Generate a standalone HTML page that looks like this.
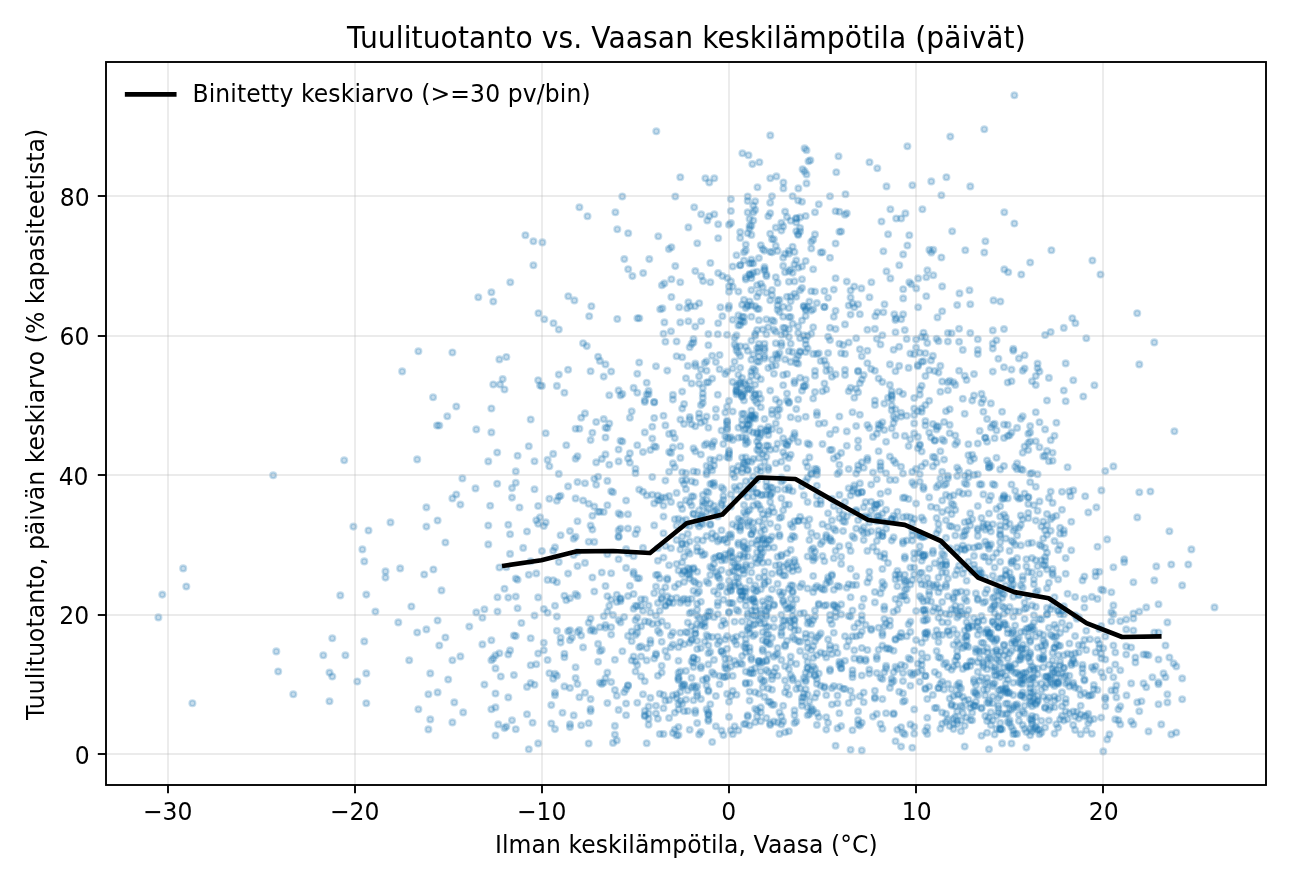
<!DOCTYPE html>
<html lang="fi"><head><meta charset="utf-8"><title>Tuulituotanto vs. Vaasan keskilämpötila</title>
<style>html,body{margin:0;padding:0;background:#fff}svg{display:block}</style></head>
<body>
<svg width="1292" height="884" viewBox="0 0 1292 884" font-family="'DejaVu Sans', 'Liberation Sans', sans-serif" fill="#000">
<rect x="0" y="0" width="1292" height="884" fill="#fff"/>
<defs><clipPath id="c"><rect x="106" y="62" width="1160" height="723"/></clipPath></defs>
<g clip-path="url(#c)" fill="#1f77b4" fill-opacity="0.25" stroke="#1f77b4" stroke-opacity="0.25" stroke-width="2.35">
<circle cx="478.3" cy="297.3" r="2.88"/>
<circle cx="491.4" cy="292.3" r="2.88"/>
<circle cx="493.3" cy="301.5" r="2.88"/>
<circle cx="418.4" cy="351.3" r="2.88"/>
<circle cx="452.4" cy="352.5" r="2.88"/>
<circle cx="499.4" cy="359.4" r="2.88"/>
<circle cx="402.2" cy="371.4" r="2.88"/>
<circle cx="493.3" cy="384.5" r="2.88"/>
<circle cx="500.0" cy="384.5" r="2.88"/>
<circle cx="433.1" cy="397.3" r="2.88"/>
<circle cx="456.3" cy="406.5" r="2.88"/>
<circle cx="491.4" cy="408.5" r="2.88"/>
<circle cx="447.3" cy="416.3" r="2.88"/>
<circle cx="437.0" cy="425.5" r="2.88"/>
<circle cx="439.3" cy="425.5" r="2.88"/>
<circle cx="476.3" cy="429.4" r="2.88"/>
<circle cx="491.4" cy="432.4" r="2.88"/>
<circle cx="344.2" cy="460.3" r="2.88"/>
<circle cx="417.2" cy="459.4" r="2.88"/>
<circle cx="488.3" cy="461.4" r="2.88"/>
<circle cx="497.2" cy="452.5" r="2.88"/>
<circle cx="273.2" cy="475.3" r="2.88"/>
<circle cx="462.4" cy="478.4" r="2.88"/>
<circle cx="497.2" cy="483.7" r="2.88"/>
<circle cx="475.5" cy="488.4" r="2.88"/>
<circle cx="456.3" cy="494.5" r="2.88"/>
<circle cx="452.4" cy="498.4" r="2.88"/>
<circle cx="460.4" cy="504.6" r="2.88"/>
<circle cx="426.4" cy="507.4" r="2.88"/>
<circle cx="490.2" cy="505.7" r="2.88"/>
<circle cx="353.4" cy="526.6" r="2.88"/>
<circle cx="368.5" cy="530.5" r="2.88"/>
<circle cx="390.5" cy="522.4" r="2.88"/>
<circle cx="426.4" cy="526.6" r="2.88"/>
<circle cx="437.6" cy="520.5" r="2.88"/>
<circle cx="488.3" cy="525.5" r="2.88"/>
<circle cx="445.4" cy="542.5" r="2.88"/>
<circle cx="488.3" cy="544.4" r="2.88"/>
<circle cx="362.4" cy="549.4" r="2.88"/>
<circle cx="364.3" cy="561.4" r="2.88"/>
<circle cx="385.5" cy="571.4" r="2.88"/>
<circle cx="385.5" cy="577.6" r="2.88"/>
<circle cx="400.2" cy="568.4" r="2.88"/>
<circle cx="424.2" cy="574.5" r="2.88"/>
<circle cx="433.4" cy="569.5" r="2.88"/>
<circle cx="499.4" cy="567.5" r="2.88"/>
<circle cx="441.5" cy="590.4" r="2.88"/>
<circle cx="183.2" cy="568.4" r="2.88"/>
<circle cx="186.3" cy="586.5" r="2.88"/>
<circle cx="162.3" cy="594.6" r="2.88"/>
<circle cx="158.4" cy="617.4" r="2.88"/>
<circle cx="340.3" cy="595.4" r="2.88"/>
<circle cx="366.3" cy="594.6" r="2.88"/>
<circle cx="375.4" cy="611.6" r="2.88"/>
<circle cx="411.4" cy="606.5" r="2.88"/>
<circle cx="497.5" cy="597.3" r="2.88"/>
<circle cx="484.4" cy="609.3" r="2.88"/>
<circle cx="476.3" cy="612.4" r="2.88"/>
<circle cx="497.5" cy="611.6" r="2.88"/>
<circle cx="482.4" cy="617.7" r="2.88"/>
<circle cx="398.3" cy="622.4" r="2.88"/>
<circle cx="437.6" cy="620.5" r="2.88"/>
<circle cx="417.2" cy="632.5" r="2.88"/>
<circle cx="426.4" cy="629.4" r="2.88"/>
<circle cx="469.3" cy="626.6" r="2.88"/>
<circle cx="445.4" cy="637.5" r="2.88"/>
<circle cx="439.3" cy="645.5" r="2.88"/>
<circle cx="491.4" cy="640.3" r="2.88"/>
<circle cx="482.4" cy="644.4" r="2.88"/>
<circle cx="332.3" cy="638.3" r="2.88"/>
<circle cx="364.3" cy="641.4" r="2.88"/>
<circle cx="276.3" cy="651.4" r="2.88"/>
<circle cx="323.3" cy="655.3" r="2.88"/>
<circle cx="345.4" cy="655.3" r="2.88"/>
<circle cx="409.2" cy="660.3" r="2.88"/>
<circle cx="452.4" cy="660.3" r="2.88"/>
<circle cx="460.4" cy="656.4" r="2.88"/>
<circle cx="491.4" cy="660.3" r="2.88"/>
<circle cx="493.3" cy="658.4" r="2.88"/>
<circle cx="495.5" cy="655.3" r="2.88"/>
<circle cx="499.4" cy="653.3" r="2.88"/>
<circle cx="495.5" cy="668.4" r="2.88"/>
<circle cx="278.2" cy="671.5" r="2.88"/>
<circle cx="329.5" cy="672.6" r="2.88"/>
<circle cx="332.3" cy="676.5" r="2.88"/>
<circle cx="366.3" cy="673.4" r="2.88"/>
<circle cx="357.3" cy="681.5" r="2.88"/>
<circle cx="430.3" cy="673.4" r="2.88"/>
<circle cx="448.2" cy="679.5" r="2.88"/>
<circle cx="484.4" cy="684.6" r="2.88"/>
<circle cx="293.3" cy="694.3" r="2.88"/>
<circle cx="329.5" cy="701.3" r="2.88"/>
<circle cx="366.3" cy="703.2" r="2.88"/>
<circle cx="192.4" cy="703.2" r="2.88"/>
<circle cx="428.4" cy="694.3" r="2.88"/>
<circle cx="437.6" cy="692.4" r="2.88"/>
<circle cx="495.5" cy="693.5" r="2.88"/>
<circle cx="454.3" cy="702.4" r="2.88"/>
<circle cx="418.4" cy="709.3" r="2.88"/>
<circle cx="463.2" cy="712.4" r="2.88"/>
<circle cx="491.4" cy="709.3" r="2.88"/>
<circle cx="495.5" cy="707.4" r="2.88"/>
<circle cx="430.3" cy="719.4" r="2.88"/>
<circle cx="452.4" cy="722.4" r="2.88"/>
<circle cx="428.4" cy="729.4" r="2.88"/>
<circle cx="498.3" cy="724.4" r="2.88"/>
<circle cx="495.5" cy="735.5" r="2.88"/>
<circle cx="656.3" cy="131.3" r="2.88"/>
<circle cx="680.3" cy="177.2" r="2.88"/>
<circle cx="705.4" cy="178.3" r="2.88"/>
<circle cx="714.3" cy="178.3" r="2.88"/>
<circle cx="709.3" cy="182.5" r="2.88"/>
<circle cx="622.3" cy="196.5" r="2.88"/>
<circle cx="675.3" cy="196.5" r="2.88"/>
<circle cx="579.4" cy="207.3" r="2.88"/>
<circle cx="587.5" cy="216.2" r="2.88"/>
<circle cx="615.4" cy="212.3" r="2.88"/>
<circle cx="694.2" cy="207.3" r="2.88"/>
<circle cx="701.2" cy="214.3" r="2.88"/>
<circle cx="709.3" cy="216.2" r="2.88"/>
<circle cx="714.3" cy="214.3" r="2.88"/>
<circle cx="707.3" cy="220.4" r="2.88"/>
<circle cx="718.2" cy="224.3" r="2.88"/>
<circle cx="688.4" cy="227.4" r="2.88"/>
<circle cx="617.3" cy="229.3" r="2.88"/>
<circle cx="628.2" cy="233.2" r="2.88"/>
<circle cx="658.3" cy="236.3" r="2.88"/>
<circle cx="525.4" cy="235.2" r="2.88"/>
<circle cx="533.4" cy="241.3" r="2.88"/>
<circle cx="542.4" cy="242.4" r="2.88"/>
<circle cx="718.2" cy="238.2" r="2.88"/>
<circle cx="697.3" cy="243.3" r="2.88"/>
<circle cx="671.4" cy="247.2" r="2.88"/>
<circle cx="668.9" cy="249.1" r="2.88"/>
<circle cx="533.4" cy="265.3" r="2.88"/>
<circle cx="624.3" cy="259.1" r="2.88"/>
<circle cx="649.3" cy="259.1" r="2.88"/>
<circle cx="675.3" cy="266.1" r="2.88"/>
<circle cx="710.4" cy="263.0" r="2.88"/>
<circle cx="628.2" cy="269.2" r="2.88"/>
<circle cx="632.4" cy="276.1" r="2.88"/>
<circle cx="643.2" cy="273.1" r="2.88"/>
<circle cx="695.3" cy="271.1" r="2.88"/>
<circle cx="701.2" cy="276.1" r="2.88"/>
<circle cx="703.1" cy="281.1" r="2.88"/>
<circle cx="710.4" cy="282.3" r="2.88"/>
<circle cx="718.2" cy="273.1" r="2.88"/>
<circle cx="722.4" cy="276.1" r="2.88"/>
<circle cx="727.4" cy="278.1" r="2.88"/>
<circle cx="510.3" cy="282.3" r="2.88"/>
<circle cx="671.4" cy="279.2" r="2.88"/>
<circle cx="680.3" cy="282.3" r="2.88"/>
<circle cx="664.4" cy="283.4" r="2.88"/>
<circle cx="661.9" cy="285.3" r="2.88"/>
<circle cx="568.3" cy="296.2" r="2.88"/>
<circle cx="574.4" cy="300.4" r="2.88"/>
<circle cx="671.4" cy="297.0" r="2.88"/>
<circle cx="591.4" cy="306.2" r="2.88"/>
<circle cx="538.5" cy="313.2" r="2.88"/>
<circle cx="589.2" cy="316.2" r="2.88"/>
<circle cx="544.3" cy="319.3" r="2.88"/>
<circle cx="553.5" cy="323.2" r="2.88"/>
<circle cx="617.3" cy="319.0" r="2.88"/>
<circle cx="637.4" cy="318.2" r="2.88"/>
<circle cx="639.3" cy="318.2" r="2.88"/>
<circle cx="660.2" cy="309.3" r="2.88"/>
<circle cx="662.4" cy="308.4" r="2.88"/>
<circle cx="679.2" cy="307.3" r="2.88"/>
<circle cx="688.4" cy="302.3" r="2.88"/>
<circle cx="690.3" cy="306.2" r="2.88"/>
<circle cx="687.2" cy="308.2" r="2.88"/>
<circle cx="695.0" cy="306.2" r="2.88"/>
<circle cx="699.2" cy="303.2" r="2.88"/>
<circle cx="664.4" cy="322.4" r="2.88"/>
<circle cx="680.3" cy="322.4" r="2.88"/>
<circle cx="688.4" cy="321.3" r="2.88"/>
<circle cx="701.2" cy="321.3" r="2.88"/>
<circle cx="718.2" cy="323.2" r="2.88"/>
<circle cx="720.4" cy="307.3" r="2.88"/>
<circle cx="722.4" cy="316.2" r="2.88"/>
<circle cx="728.5" cy="308.4" r="2.88"/>
<circle cx="770.3" cy="135.4" r="2.88"/>
<circle cx="742.4" cy="153.3" r="2.88"/>
<circle cx="748.5" cy="155.2" r="2.88"/>
<circle cx="752.4" cy="164.1" r="2.88"/>
<circle cx="759.4" cy="162.2" r="2.88"/>
<circle cx="804.6" cy="148.3" r="2.88"/>
<circle cx="806.5" cy="150.2" r="2.88"/>
<circle cx="808.5" cy="161.3" r="2.88"/>
<circle cx="810.4" cy="160.2" r="2.88"/>
<circle cx="838.5" cy="156.3" r="2.88"/>
<circle cx="802.6" cy="169.2" r="2.88"/>
<circle cx="804.6" cy="171.4" r="2.88"/>
<circle cx="806.5" cy="174.4" r="2.88"/>
<circle cx="836.3" cy="172.2" r="2.88"/>
<circle cx="770.3" cy="178.3" r="2.88"/>
<circle cx="776.4" cy="176.4" r="2.88"/>
<circle cx="783.4" cy="182.5" r="2.88"/>
<circle cx="783.4" cy="188.4" r="2.88"/>
<circle cx="806.5" cy="183.4" r="2.88"/>
<circle cx="798.4" cy="188.4" r="2.88"/>
<circle cx="757.5" cy="187.3" r="2.88"/>
<circle cx="845.5" cy="194.2" r="2.88"/>
<circle cx="1014.4" cy="95.3" r="2.88"/>
<circle cx="984.3" cy="129.3" r="2.88"/>
<circle cx="950.3" cy="136.6" r="2.88"/>
<circle cx="907.4" cy="146.3" r="2.88"/>
<circle cx="869.5" cy="162.2" r="2.88"/>
<circle cx="877.3" cy="168.3" r="2.88"/>
<circle cx="886.5" cy="186.4" r="2.88"/>
<circle cx="912.4" cy="185.3" r="2.88"/>
<circle cx="931.3" cy="181.4" r="2.88"/>
<circle cx="946.4" cy="177.2" r="2.88"/>
<circle cx="970.3" cy="186.4" r="2.88"/>
<circle cx="941.4" cy="195.3" r="2.88"/>
<circle cx="890.4" cy="209.3" r="2.88"/>
<circle cx="922.4" cy="209.3" r="2.88"/>
<circle cx="905.4" cy="213.4" r="2.88"/>
<circle cx="896.2" cy="218.5" r="2.88"/>
<circle cx="901.2" cy="218.5" r="2.88"/>
<circle cx="881.5" cy="221.5" r="2.88"/>
<circle cx="1004.3" cy="212.3" r="2.88"/>
<circle cx="1014.4" cy="223.5" r="2.88"/>
<circle cx="888.1" cy="234.3" r="2.88"/>
<circle cx="909.3" cy="235.2" r="2.88"/>
<circle cx="952.2" cy="231.3" r="2.88"/>
<circle cx="985.4" cy="241.3" r="2.88"/>
<circle cx="907.4" cy="245.5" r="2.88"/>
<circle cx="883.4" cy="251.3" r="2.88"/>
<circle cx="903.2" cy="254.4" r="2.88"/>
<circle cx="929.4" cy="249.9" r="2.88"/>
<circle cx="933.3" cy="249.9" r="2.88"/>
<circle cx="931.3" cy="252.5" r="2.88"/>
<circle cx="941.4" cy="257.5" r="2.88"/>
<circle cx="965.3" cy="250.2" r="2.88"/>
<circle cx="984.3" cy="252.5" r="2.88"/>
<circle cx="1051.4" cy="250.2" r="2.88"/>
<circle cx="899.3" cy="265.3" r="2.88"/>
<circle cx="1030.2" cy="262.5" r="2.88"/>
<circle cx="1092.4" cy="260.5" r="2.88"/>
<circle cx="886.5" cy="271.4" r="2.88"/>
<circle cx="927.4" cy="270.3" r="2.88"/>
<circle cx="1004.3" cy="269.4" r="2.88"/>
<circle cx="1008.2" cy="272.2" r="2.88"/>
<circle cx="1021.3" cy="274.5" r="2.88"/>
<circle cx="1100.5" cy="274.5" r="2.88"/>
<circle cx="890.4" cy="278.4" r="2.88"/>
<circle cx="918.2" cy="278.4" r="2.88"/>
<circle cx="926.3" cy="277.2" r="2.88"/>
<circle cx="933.3" cy="275.3" r="2.88"/>
<circle cx="871.4" cy="282.3" r="2.88"/>
<circle cx="909.3" cy="282.3" r="2.88"/>
<circle cx="911.3" cy="284.2" r="2.88"/>
<circle cx="916.3" cy="288.4" r="2.88"/>
<circle cx="861.4" cy="288.4" r="2.88"/>
<circle cx="942.2" cy="286.4" r="2.88"/>
<circle cx="903.2" cy="289.2" r="2.88"/>
<circle cx="969.5" cy="290.3" r="2.88"/>
<circle cx="959.5" cy="293.4" r="2.88"/>
<circle cx="869.5" cy="297.3" r="2.88"/>
<circle cx="903.2" cy="298.4" r="2.88"/>
<circle cx="926.3" cy="296.2" r="2.88"/>
<circle cx="993.5" cy="300.4" r="2.88"/>
<circle cx="1000.4" cy="301.5" r="2.88"/>
<circle cx="957.2" cy="305.1" r="2.88"/>
<circle cx="970.3" cy="304.3" r="2.88"/>
<circle cx="884.5" cy="304.3" r="2.88"/>
<circle cx="918.2" cy="307.3" r="2.88"/>
<circle cx="877.3" cy="312.3" r="2.88"/>
<circle cx="883.4" cy="312.3" r="2.88"/>
<circle cx="894.3" cy="314.3" r="2.88"/>
<circle cx="903.2" cy="314.3" r="2.88"/>
<circle cx="942.2" cy="311.2" r="2.88"/>
<circle cx="1137.2" cy="313.2" r="2.88"/>
<circle cx="875.3" cy="316.2" r="2.88"/>
<circle cx="896.2" cy="318.2" r="2.88"/>
<circle cx="901.2" cy="319.3" r="2.88"/>
<circle cx="895.4" cy="320.1" r="2.88"/>
<circle cx="937.5" cy="317.4" r="2.88"/>
<circle cx="1072.3" cy="318.2" r="2.88"/>
<circle cx="1075.4" cy="323.2" r="2.88"/>
<circle cx="1086.3" cy="338.3" r="2.88"/>
<circle cx="1154.3" cy="342.4" r="2.88"/>
<circle cx="1139.3" cy="364.4" r="2.88"/>
<circle cx="1073.3" cy="380.3" r="2.88"/>
<circle cx="1094.4" cy="385.3" r="2.88"/>
<circle cx="1083.3" cy="396.5" r="2.88"/>
<circle cx="1174.4" cy="431.3" r="2.88"/>
<circle cx="1105.3" cy="471.1" r="2.88"/>
<circle cx="1113.4" cy="466.4" r="2.88"/>
<circle cx="1101.4" cy="490.4" r="2.88"/>
<circle cx="1085.2" cy="496.2" r="2.88"/>
<circle cx="1073.3" cy="490.4" r="2.88"/>
<circle cx="1070.5" cy="496.2" r="2.88"/>
<circle cx="1139.3" cy="492.3" r="2.88"/>
<circle cx="1150.4" cy="491.5" r="2.88"/>
<circle cx="1096.4" cy="507.4" r="2.88"/>
<circle cx="1088.3" cy="512.4" r="2.88"/>
<circle cx="1137.3" cy="517.4" r="2.88"/>
<circle cx="1169.4" cy="531.3" r="2.88"/>
<circle cx="1107.2" cy="539.4" r="2.88"/>
<circle cx="1191.4" cy="549.4" r="2.88"/>
<circle cx="1124.2" cy="559.2" r="2.88"/>
<circle cx="1124.2" cy="562.2" r="2.88"/>
<circle cx="1113.4" cy="567.3" r="2.88"/>
<circle cx="1156.3" cy="566.4" r="2.88"/>
<circle cx="1171.3" cy="564.5" r="2.88"/>
<circle cx="1188.3" cy="564.5" r="2.88"/>
<circle cx="1133.4" cy="582.3" r="2.88"/>
<circle cx="1154.3" cy="580.4" r="2.88"/>
<circle cx="1182.2" cy="585.4" r="2.88"/>
<circle cx="1103.3" cy="590.4" r="2.88"/>
<circle cx="1111.4" cy="592.3" r="2.88"/>
<circle cx="1113.4" cy="605.4" r="2.88"/>
<circle cx="1146.3" cy="607.4" r="2.88"/>
<circle cx="1158.5" cy="604.3" r="2.88"/>
<circle cx="1214.5" cy="607.4" r="2.88"/>
<circle cx="1111.4" cy="612.4" r="2.88"/>
<circle cx="1113.4" cy="614.3" r="2.88"/>
<circle cx="1133.4" cy="613.5" r="2.88"/>
<circle cx="1139.3" cy="611.6" r="2.88"/>
<circle cx="1120.3" cy="621.3" r="2.88"/>
<circle cx="1126.2" cy="619.4" r="2.88"/>
<circle cx="1133.4" cy="618.5" r="2.88"/>
<circle cx="1111.4" cy="621.3" r="2.88"/>
<circle cx="1167.4" cy="622.4" r="2.88"/>
<circle cx="1126.2" cy="629.4" r="2.88"/>
<circle cx="1133.4" cy="630.5" r="2.88"/>
<circle cx="1154.3" cy="632.5" r="2.88"/>
<circle cx="1158.5" cy="632.5" r="2.88"/>
<circle cx="1105.3" cy="636.4" r="2.88"/>
<circle cx="1113.4" cy="645.5" r="2.88"/>
<circle cx="1126.2" cy="646.4" r="2.88"/>
<circle cx="1131.2" cy="647.5" r="2.88"/>
<circle cx="1165.5" cy="645.5" r="2.88"/>
<circle cx="1103.3" cy="648.3" r="2.88"/>
<circle cx="1115.3" cy="652.5" r="2.88"/>
<circle cx="1126.2" cy="654.5" r="2.88"/>
<circle cx="1135.4" cy="657.5" r="2.88"/>
<circle cx="1143.5" cy="654.5" r="2.88"/>
<circle cx="1146.3" cy="654.5" r="2.88"/>
<circle cx="1148.5" cy="655.3" r="2.88"/>
<circle cx="1169.4" cy="657.5" r="2.88"/>
<circle cx="1101.4" cy="658.4" r="2.88"/>
<circle cx="1105.3" cy="659.5" r="2.88"/>
<circle cx="1135.4" cy="662.5" r="2.88"/>
<circle cx="1115.3" cy="664.5" r="2.88"/>
<circle cx="1158.5" cy="659.5" r="2.88"/>
<circle cx="1173.6" cy="663.4" r="2.88"/>
<circle cx="1176.3" cy="666.4" r="2.88"/>
<circle cx="1109.5" cy="670.3" r="2.88"/>
<circle cx="1120.3" cy="670.3" r="2.88"/>
<circle cx="1163.5" cy="673.4" r="2.88"/>
<circle cx="1165.5" cy="677.3" r="2.88"/>
<circle cx="1182.2" cy="678.4" r="2.88"/>
<circle cx="1103.3" cy="677.3" r="2.88"/>
<circle cx="1113.4" cy="677.3" r="2.88"/>
<circle cx="1152.4" cy="677.3" r="2.88"/>
<circle cx="1143.5" cy="683.4" r="2.88"/>
<circle cx="1158.5" cy="682.3" r="2.88"/>
<circle cx="1158.5" cy="684.3" r="2.88"/>
<circle cx="1146.3" cy="687.3" r="2.88"/>
<circle cx="1131.2" cy="683.4" r="2.88"/>
<circle cx="1116.4" cy="685.4" r="2.88"/>
<circle cx="1115.3" cy="690.4" r="2.88"/>
<circle cx="1111.4" cy="690.4" r="2.88"/>
<circle cx="1126.5" cy="695.4" r="2.88"/>
<circle cx="1105.3" cy="697.4" r="2.88"/>
<circle cx="1105.3" cy="699.3" r="2.88"/>
<circle cx="1116.4" cy="697.4" r="2.88"/>
<circle cx="1137.3" cy="702.4" r="2.88"/>
<circle cx="1141.5" cy="701.3" r="2.88"/>
<circle cx="1167.4" cy="694.3" r="2.88"/>
<circle cx="1182.2" cy="699.3" r="2.88"/>
<circle cx="1158.5" cy="704.3" r="2.88"/>
<circle cx="1167.4" cy="702.4" r="2.88"/>
<circle cx="1105.3" cy="706.3" r="2.88"/>
<circle cx="1120.3" cy="706.3" r="2.88"/>
<circle cx="1118.4" cy="709.3" r="2.88"/>
<circle cx="1139.3" cy="711.3" r="2.88"/>
<circle cx="1115.3" cy="719.4" r="2.88"/>
<circle cx="1120.3" cy="724.4" r="2.88"/>
<circle cx="1118.4" cy="720.2" r="2.88"/>
<circle cx="1131.2" cy="721.3" r="2.88"/>
<circle cx="1133.4" cy="724.4" r="2.88"/>
<circle cx="1161.3" cy="724.4" r="2.88"/>
<circle cx="1109.5" cy="734.4" r="2.88"/>
<circle cx="1107.2" cy="739.4" r="2.88"/>
<circle cx="1148.5" cy="731.4" r="2.88"/>
<circle cx="1171.3" cy="734.4" r="2.88"/>
<circle cx="1176.3" cy="732.5" r="2.88"/>
<circle cx="1103.3" cy="751.4" r="2.88"/>
<circle cx="506.4" cy="726.6" r="2.88"/>
<circle cx="512.0" cy="720.3" r="2.88"/>
<circle cx="532.6" cy="722.7" r="2.88"/>
<circle cx="528.8" cy="749.2" r="2.88"/>
<circle cx="515.8" cy="729.2" r="2.88"/>
<circle cx="527.0" cy="714.2" r="2.88"/>
<circle cx="538.2" cy="743.4" r="2.88"/>
<circle cx="504.5" cy="728.1" r="2.88"/>
<circle cx="551.3" cy="723.5" r="2.88"/>
<circle cx="581.2" cy="725.3" r="2.88"/>
<circle cx="570.0" cy="727.1" r="2.88"/>
<circle cx="562.5" cy="712.8" r="2.88"/>
<circle cx="573.7" cy="715.4" r="2.88"/>
<circle cx="555.0" cy="729.1" r="2.88"/>
<circle cx="570.0" cy="724.2" r="2.88"/>
<circle cx="590.6" cy="711.3" r="2.88"/>
<circle cx="588.7" cy="723.2" r="2.88"/>
<circle cx="613.0" cy="742.9" r="2.88"/>
<circle cx="614.9" cy="734.6" r="2.88"/>
<circle cx="626.1" cy="715.2" r="2.88"/>
<circle cx="614.9" cy="725.9" r="2.88"/>
<circle cx="590.6" cy="709.0" r="2.88"/>
<circle cx="616.8" cy="740.4" r="2.88"/>
<circle cx="588.7" cy="743.5" r="2.88"/>
<circle cx="618.6" cy="709.9" r="2.88"/>
<circle cx="657.9" cy="718.8" r="2.88"/>
<circle cx="663.5" cy="708.2" r="2.88"/>
<circle cx="659.8" cy="734.0" r="2.88"/>
<circle cx="674.8" cy="729.6" r="2.88"/>
<circle cx="663.5" cy="734.1" r="2.88"/>
<circle cx="674.8" cy="712.7" r="2.88"/>
<circle cx="678.5" cy="709.5" r="2.88"/>
<circle cx="678.5" cy="727.1" r="2.88"/>
<circle cx="648.6" cy="719.0" r="2.88"/>
<circle cx="678.5" cy="735.1" r="2.88"/>
<circle cx="648.6" cy="713.5" r="2.88"/>
<circle cx="646.7" cy="743.2" r="2.88"/>
<circle cx="676.6" cy="735.4" r="2.88"/>
<circle cx="648.6" cy="724.8" r="2.88"/>
<circle cx="672.9" cy="733.1" r="2.88"/>
<circle cx="656.0" cy="713.5" r="2.88"/>
<circle cx="644.8" cy="716.2" r="2.88"/>
<circle cx="669.1" cy="718.0" r="2.88"/>
<circle cx="644.8" cy="710.9" r="2.88"/>
<circle cx="644.8" cy="715.3" r="2.88"/>
<circle cx="684.1" cy="711.2" r="2.88"/>
<circle cx="689.7" cy="729.8" r="2.88"/>
<circle cx="708.4" cy="714.6" r="2.88"/>
<circle cx="687.8" cy="711.0" r="2.88"/>
<circle cx="700.9" cy="732.1" r="2.88"/>
<circle cx="708.4" cy="719.3" r="2.88"/>
<circle cx="712.2" cy="742.0" r="2.88"/>
<circle cx="706.6" cy="709.4" r="2.88"/>
<circle cx="695.3" cy="712.9" r="2.88"/>
<circle cx="708.4" cy="711.7" r="2.88"/>
<circle cx="695.3" cy="710.5" r="2.88"/>
<circle cx="721.5" cy="730.6" r="2.88"/>
<circle cx="708.4" cy="714.4" r="2.88"/>
<circle cx="715.9" cy="726.3" r="2.88"/>
<circle cx="699.1" cy="734.5" r="2.88"/>
<circle cx="697.2" cy="723.1" r="2.88"/>
<circle cx="708.4" cy="721.0" r="2.88"/>
<circle cx="723.4" cy="735.1" r="2.88"/>
<circle cx="773.9" cy="721.5" r="2.88"/>
<circle cx="732.7" cy="734.2" r="2.88"/>
<circle cx="760.8" cy="721.3" r="2.88"/>
<circle cx="755.2" cy="708.8" r="2.88"/>
<circle cx="747.7" cy="715.2" r="2.88"/>
<circle cx="747.7" cy="716.7" r="2.88"/>
<circle cx="749.6" cy="725.5" r="2.88"/>
<circle cx="760.8" cy="712.5" r="2.88"/>
<circle cx="734.6" cy="726.3" r="2.88"/>
<circle cx="757.1" cy="716.4" r="2.88"/>
<circle cx="729.0" cy="716.9" r="2.88"/>
<circle cx="730.9" cy="730.4" r="2.88"/>
<circle cx="770.2" cy="725.0" r="2.88"/>
<circle cx="755.2" cy="722.2" r="2.88"/>
<circle cx="744.0" cy="724.2" r="2.88"/>
<circle cx="757.1" cy="710.2" r="2.88"/>
<circle cx="738.4" cy="730.4" r="2.88"/>
<circle cx="770.2" cy="723.4" r="2.88"/>
<circle cx="745.8" cy="723.7" r="2.88"/>
<circle cx="766.4" cy="718.0" r="2.88"/>
<circle cx="781.4" cy="724.4" r="2.88"/>
<circle cx="809.4" cy="714.1" r="2.88"/>
<circle cx="813.2" cy="710.1" r="2.88"/>
<circle cx="794.5" cy="723.1" r="2.88"/>
<circle cx="794.5" cy="710.4" r="2.88"/>
<circle cx="783.2" cy="721.4" r="2.88"/>
<circle cx="788.9" cy="731.2" r="2.88"/>
<circle cx="818.8" cy="717.1" r="2.88"/>
<circle cx="779.5" cy="733.9" r="2.88"/>
<circle cx="779.5" cy="712.3" r="2.88"/>
<circle cx="794.5" cy="715.3" r="2.88"/>
<circle cx="811.3" cy="708.1" r="2.88"/>
<circle cx="796.3" cy="721.6" r="2.88"/>
<circle cx="785.1" cy="732.3" r="2.88"/>
<circle cx="807.6" cy="715.2" r="2.88"/>
<circle cx="811.3" cy="711.3" r="2.88"/>
<circle cx="816.9" cy="713.1" r="2.88"/>
<circle cx="816.9" cy="724.9" r="2.88"/>
<circle cx="781.4" cy="716.5" r="2.88"/>
<circle cx="777.6" cy="722.5" r="2.88"/>
<circle cx="835.6" cy="745.7" r="2.88"/>
<circle cx="861.8" cy="722.7" r="2.88"/>
<circle cx="858.1" cy="724.4" r="2.88"/>
<circle cx="858.1" cy="711.4" r="2.88"/>
<circle cx="841.2" cy="726.1" r="2.88"/>
<circle cx="839.4" cy="713.2" r="2.88"/>
<circle cx="850.6" cy="749.8" r="2.88"/>
<circle cx="861.8" cy="750.4" r="2.88"/>
<circle cx="859.9" cy="725.6" r="2.88"/>
<circle cx="852.5" cy="730.2" r="2.88"/>
<circle cx="826.3" cy="729.6" r="2.88"/>
<circle cx="837.5" cy="728.4" r="2.88"/>
<circle cx="826.3" cy="717.2" r="2.88"/>
<circle cx="828.1" cy="722.8" r="2.88"/>
<circle cx="858.1" cy="720.0" r="2.88"/>
<circle cx="876.8" cy="713.9" r="2.88"/>
<circle cx="895.5" cy="741.2" r="2.88"/>
<circle cx="904.8" cy="734.4" r="2.88"/>
<circle cx="886.1" cy="713.2" r="2.88"/>
<circle cx="873.0" cy="716.6" r="2.88"/>
<circle cx="880.5" cy="724.0" r="2.88"/>
<circle cx="914.2" cy="726.9" r="2.88"/>
<circle cx="893.6" cy="714.2" r="2.88"/>
<circle cx="903.0" cy="732.9" r="2.88"/>
<circle cx="912.3" cy="747.7" r="2.88"/>
<circle cx="901.1" cy="727.2" r="2.88"/>
<circle cx="901.1" cy="746.6" r="2.88"/>
<circle cx="893.6" cy="713.3" r="2.88"/>
<circle cx="882.4" cy="728.8" r="2.88"/>
<circle cx="914.2" cy="709.4" r="2.88"/>
<circle cx="897.4" cy="729.7" r="2.88"/>
<circle cx="914.2" cy="733.7" r="2.88"/>
<circle cx="910.4" cy="724.4" r="2.88"/>
<circle cx="962.8" cy="713.3" r="2.88"/>
<circle cx="927.3" cy="717.8" r="2.88"/>
<circle cx="942.2" cy="712.5" r="2.88"/>
<circle cx="925.4" cy="731.0" r="2.88"/>
<circle cx="942.2" cy="723.7" r="2.88"/>
<circle cx="953.5" cy="723.7" r="2.88"/>
<circle cx="936.6" cy="707.9" r="2.88"/>
<circle cx="946.0" cy="713.9" r="2.88"/>
<circle cx="927.3" cy="727.3" r="2.88"/>
<circle cx="957.2" cy="720.6" r="2.88"/>
<circle cx="955.3" cy="717.0" r="2.88"/>
<circle cx="927.3" cy="733.9" r="2.88"/>
<circle cx="934.8" cy="708.0" r="2.88"/>
<circle cx="953.5" cy="718.9" r="2.88"/>
<circle cx="957.2" cy="711.5" r="2.88"/>
<circle cx="940.4" cy="728.8" r="2.88"/>
<circle cx="947.9" cy="719.4" r="2.88"/>
<circle cx="961.0" cy="731.2" r="2.88"/>
<circle cx="961.0" cy="720.2" r="2.88"/>
<circle cx="957.2" cy="724.0" r="2.88"/>
<circle cx="949.7" cy="725.9" r="2.88"/>
<circle cx="953.5" cy="729.1" r="2.88"/>
<circle cx="946.0" cy="721.7" r="2.88"/>
<circle cx="1000.2" cy="729.0" r="2.88"/>
<circle cx="1002.1" cy="729.2" r="2.88"/>
<circle cx="964.7" cy="725.7" r="2.88"/>
<circle cx="1009.6" cy="720.2" r="2.88"/>
<circle cx="966.6" cy="717.5" r="2.88"/>
<circle cx="970.3" cy="719.9" r="2.88"/>
<circle cx="981.5" cy="707.7" r="2.88"/>
<circle cx="989.0" cy="749.2" r="2.88"/>
<circle cx="964.7" cy="746.5" r="2.88"/>
<circle cx="1002.1" cy="743.4" r="2.88"/>
<circle cx="998.4" cy="708.5" r="2.88"/>
<circle cx="972.2" cy="712.7" r="2.88"/>
<circle cx="981.5" cy="708.6" r="2.88"/>
<circle cx="1007.7" cy="713.8" r="2.88"/>
<circle cx="1000.2" cy="729.6" r="2.88"/>
<circle cx="1009.6" cy="708.9" r="2.88"/>
<circle cx="996.5" cy="728.8" r="2.88"/>
<circle cx="992.8" cy="720.3" r="2.88"/>
<circle cx="970.3" cy="707.8" r="2.88"/>
<circle cx="985.3" cy="716.0" r="2.88"/>
<circle cx="994.6" cy="734.5" r="2.88"/>
<circle cx="987.1" cy="721.0" r="2.88"/>
<circle cx="981.5" cy="735.8" r="2.88"/>
<circle cx="1000.2" cy="729.0" r="2.88"/>
<circle cx="1002.1" cy="713.9" r="2.88"/>
<circle cx="996.5" cy="715.8" r="2.88"/>
<circle cx="1007.7" cy="721.9" r="2.88"/>
<circle cx="990.9" cy="712.3" r="2.88"/>
<circle cx="998.4" cy="712.4" r="2.88"/>
<circle cx="972.2" cy="720.3" r="2.88"/>
<circle cx="1005.8" cy="714.3" r="2.88"/>
<circle cx="989.0" cy="717.9" r="2.88"/>
<circle cx="987.1" cy="732.7" r="2.88"/>
<circle cx="990.9" cy="725.1" r="2.88"/>
<circle cx="1000.2" cy="722.9" r="2.88"/>
<circle cx="1024.6" cy="713.4" r="2.88"/>
<circle cx="1033.9" cy="729.1" r="2.88"/>
<circle cx="1032.0" cy="716.0" r="2.88"/>
<circle cx="1032.0" cy="723.7" r="2.88"/>
<circle cx="1026.4" cy="747.6" r="2.88"/>
<circle cx="1041.4" cy="720.8" r="2.88"/>
<circle cx="1032.0" cy="721.3" r="2.88"/>
<circle cx="1011.5" cy="727.0" r="2.88"/>
<circle cx="1039.5" cy="734.3" r="2.88"/>
<circle cx="1054.5" cy="733.6" r="2.88"/>
<circle cx="1018.9" cy="720.8" r="2.88"/>
<circle cx="1022.7" cy="711.5" r="2.88"/>
<circle cx="1035.8" cy="726.3" r="2.88"/>
<circle cx="1035.8" cy="717.0" r="2.88"/>
<circle cx="1048.9" cy="720.6" r="2.88"/>
<circle cx="1048.9" cy="709.7" r="2.88"/>
<circle cx="1024.6" cy="728.9" r="2.88"/>
<circle cx="1013.3" cy="734.2" r="2.88"/>
<circle cx="1037.6" cy="729.8" r="2.88"/>
<circle cx="1041.4" cy="732.6" r="2.88"/>
<circle cx="1026.4" cy="732.1" r="2.88"/>
<circle cx="1017.1" cy="733.9" r="2.88"/>
<circle cx="1030.2" cy="735.3" r="2.88"/>
<circle cx="1045.1" cy="727.5" r="2.88"/>
<circle cx="1032.0" cy="719.4" r="2.88"/>
<circle cx="1011.5" cy="709.8" r="2.88"/>
<circle cx="1009.6" cy="723.4" r="2.88"/>
<circle cx="1032.0" cy="731.5" r="2.88"/>
<circle cx="1015.2" cy="733.8" r="2.88"/>
<circle cx="1039.5" cy="729.8" r="2.88"/>
<circle cx="1035.8" cy="727.6" r="2.88"/>
<circle cx="1030.2" cy="718.9" r="2.88"/>
<circle cx="1045.1" cy="708.1" r="2.88"/>
<circle cx="1018.9" cy="714.4" r="2.88"/>
<circle cx="1030.2" cy="728.9" r="2.88"/>
<circle cx="1011.5" cy="743.5" r="2.88"/>
<circle cx="1013.3" cy="730.4" r="2.88"/>
<circle cx="1022.7" cy="725.1" r="2.88"/>
<circle cx="1060.1" cy="719.3" r="2.88"/>
<circle cx="1075.1" cy="716.5" r="2.88"/>
<circle cx="1088.2" cy="723.3" r="2.88"/>
<circle cx="1093.8" cy="719.0" r="2.88"/>
<circle cx="1056.4" cy="724.2" r="2.88"/>
<circle cx="1076.9" cy="711.8" r="2.88"/>
<circle cx="1078.8" cy="718.6" r="2.88"/>
<circle cx="1073.2" cy="711.5" r="2.88"/>
<circle cx="1086.3" cy="715.7" r="2.88"/>
<circle cx="1101.2" cy="717.6" r="2.88"/>
<circle cx="1067.6" cy="719.2" r="2.88"/>
<circle cx="1086.3" cy="730.1" r="2.88"/>
<circle cx="1088.2" cy="713.7" r="2.88"/>
<circle cx="1065.7" cy="711.4" r="2.88"/>
<circle cx="1069.4" cy="713.2" r="2.88"/>
<circle cx="1080.7" cy="734.3" r="2.88"/>
<circle cx="1073.2" cy="725.0" r="2.88"/>
<circle cx="1084.4" cy="716.4" r="2.88"/>
<circle cx="1091.9" cy="733.8" r="2.88"/>
<circle cx="1080.7" cy="714.5" r="2.88"/>
<circle cx="1090.0" cy="720.2" r="2.88"/>
<circle cx="1075.1" cy="730.0" r="2.88"/>
<circle cx="1063.8" cy="720.6" r="2.88"/>
<circle cx="1058.2" cy="727.8" r="2.88"/>
<circle cx="1062.0" cy="715.9" r="2.88"/>
<circle cx="530.7" cy="683.1" r="2.88"/>
<circle cx="530.7" cy="665.2" r="2.88"/>
<circle cx="500.8" cy="676.5" r="2.88"/>
<circle cx="536.3" cy="664.3" r="2.88"/>
<circle cx="508.3" cy="697.4" r="2.88"/>
<circle cx="513.9" cy="675.1" r="2.88"/>
<circle cx="534.5" cy="684.7" r="2.88"/>
<circle cx="527.0" cy="686.9" r="2.88"/>
<circle cx="564.4" cy="686.4" r="2.88"/>
<circle cx="570.0" cy="688.0" r="2.88"/>
<circle cx="551.3" cy="705.1" r="2.88"/>
<circle cx="575.6" cy="667.3" r="2.88"/>
<circle cx="555.0" cy="692.6" r="2.88"/>
<circle cx="556.9" cy="675.7" r="2.88"/>
<circle cx="555.0" cy="695.3" r="2.88"/>
<circle cx="553.2" cy="678.7" r="2.88"/>
<circle cx="585.0" cy="692.7" r="2.88"/>
<circle cx="579.4" cy="697.2" r="2.88"/>
<circle cx="577.5" cy="684.1" r="2.88"/>
<circle cx="549.4" cy="673.2" r="2.88"/>
<circle cx="555.0" cy="673.8" r="2.88"/>
<circle cx="575.6" cy="678.1" r="2.88"/>
<circle cx="628.0" cy="685.2" r="2.88"/>
<circle cx="635.5" cy="661.5" r="2.88"/>
<circle cx="607.4" cy="703.1" r="2.88"/>
<circle cx="616.8" cy="695.8" r="2.88"/>
<circle cx="601.8" cy="684.1" r="2.88"/>
<circle cx="598.1" cy="661.8" r="2.88"/>
<circle cx="635.5" cy="671.5" r="2.88"/>
<circle cx="603.7" cy="682.6" r="2.88"/>
<circle cx="590.6" cy="699.1" r="2.88"/>
<circle cx="607.4" cy="672.6" r="2.88"/>
<circle cx="599.9" cy="682.6" r="2.88"/>
<circle cx="626.1" cy="703.5" r="2.88"/>
<circle cx="605.5" cy="678.2" r="2.88"/>
<circle cx="611.2" cy="682.1" r="2.88"/>
<circle cx="624.2" cy="692.3" r="2.88"/>
<circle cx="626.1" cy="689.2" r="2.88"/>
<circle cx="628.0" cy="685.9" r="2.88"/>
<circle cx="614.9" cy="690.0" r="2.88"/>
<circle cx="663.5" cy="695.0" r="2.88"/>
<circle cx="680.4" cy="691.9" r="2.88"/>
<circle cx="648.6" cy="706.4" r="2.88"/>
<circle cx="678.5" cy="703.9" r="2.88"/>
<circle cx="682.2" cy="685.1" r="2.88"/>
<circle cx="637.3" cy="702.8" r="2.88"/>
<circle cx="682.2" cy="686.8" r="2.88"/>
<circle cx="680.4" cy="701.0" r="2.88"/>
<circle cx="680.4" cy="671.4" r="2.88"/>
<circle cx="669.1" cy="699.9" r="2.88"/>
<circle cx="650.4" cy="697.9" r="2.88"/>
<circle cx="659.8" cy="693.7" r="2.88"/>
<circle cx="641.1" cy="676.4" r="2.88"/>
<circle cx="637.3" cy="665.0" r="2.88"/>
<circle cx="678.5" cy="678.8" r="2.88"/>
<circle cx="678.5" cy="672.8" r="2.88"/>
<circle cx="657.9" cy="675.7" r="2.88"/>
<circle cx="678.5" cy="680.1" r="2.88"/>
<circle cx="676.6" cy="698.0" r="2.88"/>
<circle cx="643.0" cy="694.3" r="2.88"/>
<circle cx="661.7" cy="665.8" r="2.88"/>
<circle cx="644.8" cy="681.2" r="2.88"/>
<circle cx="661.7" cy="672.6" r="2.88"/>
<circle cx="656.0" cy="705.8" r="2.88"/>
<circle cx="672.9" cy="695.3" r="2.88"/>
<circle cx="665.4" cy="700.7" r="2.88"/>
<circle cx="676.6" cy="694.3" r="2.88"/>
<circle cx="678.5" cy="677.2" r="2.88"/>
<circle cx="727.1" cy="693.9" r="2.88"/>
<circle cx="697.2" cy="692.9" r="2.88"/>
<circle cx="727.1" cy="676.0" r="2.88"/>
<circle cx="684.1" cy="684.2" r="2.88"/>
<circle cx="708.4" cy="664.4" r="2.88"/>
<circle cx="708.4" cy="690.3" r="2.88"/>
<circle cx="714.0" cy="674.4" r="2.88"/>
<circle cx="684.1" cy="685.3" r="2.88"/>
<circle cx="691.6" cy="661.4" r="2.88"/>
<circle cx="706.6" cy="678.0" r="2.88"/>
<circle cx="706.6" cy="679.2" r="2.88"/>
<circle cx="700.9" cy="699.1" r="2.88"/>
<circle cx="725.3" cy="677.1" r="2.88"/>
<circle cx="691.6" cy="687.5" r="2.88"/>
<circle cx="719.6" cy="676.0" r="2.88"/>
<circle cx="693.5" cy="667.1" r="2.88"/>
<circle cx="710.3" cy="704.2" r="2.88"/>
<circle cx="686.0" cy="699.6" r="2.88"/>
<circle cx="723.4" cy="676.9" r="2.88"/>
<circle cx="727.1" cy="669.1" r="2.88"/>
<circle cx="700.9" cy="668.3" r="2.88"/>
<circle cx="702.8" cy="680.1" r="2.88"/>
<circle cx="700.9" cy="666.3" r="2.88"/>
<circle cx="682.2" cy="704.1" r="2.88"/>
<circle cx="693.5" cy="700.3" r="2.88"/>
<circle cx="686.0" cy="670.9" r="2.88"/>
<circle cx="719.6" cy="684.2" r="2.88"/>
<circle cx="693.5" cy="662.7" r="2.88"/>
<circle cx="697.2" cy="695.7" r="2.88"/>
<circle cx="706.6" cy="685.6" r="2.88"/>
<circle cx="725.3" cy="664.9" r="2.88"/>
<circle cx="715.9" cy="696.0" r="2.88"/>
<circle cx="697.2" cy="686.3" r="2.88"/>
<circle cx="691.6" cy="677.9" r="2.88"/>
<circle cx="725.3" cy="667.9" r="2.88"/>
<circle cx="687.8" cy="690.4" r="2.88"/>
<circle cx="712.2" cy="672.2" r="2.88"/>
<circle cx="695.3" cy="687.8" r="2.88"/>
<circle cx="693.5" cy="685.7" r="2.88"/>
<circle cx="708.4" cy="691.5" r="2.88"/>
<circle cx="758.9" cy="693.8" r="2.88"/>
<circle cx="736.5" cy="694.8" r="2.88"/>
<circle cx="730.9" cy="666.6" r="2.88"/>
<circle cx="768.3" cy="672.1" r="2.88"/>
<circle cx="742.1" cy="664.2" r="2.88"/>
<circle cx="751.4" cy="673.3" r="2.88"/>
<circle cx="745.8" cy="682.8" r="2.88"/>
<circle cx="762.7" cy="687.6" r="2.88"/>
<circle cx="768.3" cy="688.4" r="2.88"/>
<circle cx="732.7" cy="675.9" r="2.88"/>
<circle cx="758.9" cy="662.4" r="2.88"/>
<circle cx="755.2" cy="692.2" r="2.88"/>
<circle cx="773.9" cy="672.2" r="2.88"/>
<circle cx="729.0" cy="701.7" r="2.88"/>
<circle cx="732.7" cy="690.9" r="2.88"/>
<circle cx="758.9" cy="661.0" r="2.88"/>
<circle cx="749.6" cy="691.6" r="2.88"/>
<circle cx="764.5" cy="680.9" r="2.88"/>
<circle cx="766.4" cy="661.3" r="2.88"/>
<circle cx="749.6" cy="672.7" r="2.88"/>
<circle cx="762.7" cy="681.3" r="2.88"/>
<circle cx="760.8" cy="678.9" r="2.88"/>
<circle cx="766.4" cy="670.0" r="2.88"/>
<circle cx="762.7" cy="661.7" r="2.88"/>
<circle cx="730.9" cy="696.0" r="2.88"/>
<circle cx="772.0" cy="704.7" r="2.88"/>
<circle cx="764.5" cy="696.9" r="2.88"/>
<circle cx="768.3" cy="701.6" r="2.88"/>
<circle cx="772.0" cy="679.3" r="2.88"/>
<circle cx="740.2" cy="662.9" r="2.88"/>
<circle cx="773.9" cy="704.7" r="2.88"/>
<circle cx="749.6" cy="700.6" r="2.88"/>
<circle cx="772.0" cy="689.7" r="2.88"/>
<circle cx="753.3" cy="673.2" r="2.88"/>
<circle cx="772.0" cy="675.7" r="2.88"/>
<circle cx="749.6" cy="683.1" r="2.88"/>
<circle cx="745.8" cy="671.6" r="2.88"/>
<circle cx="760.8" cy="663.7" r="2.88"/>
<circle cx="755.2" cy="668.0" r="2.88"/>
<circle cx="760.8" cy="707.4" r="2.88"/>
<circle cx="760.8" cy="671.4" r="2.88"/>
<circle cx="736.5" cy="664.5" r="2.88"/>
<circle cx="751.4" cy="669.7" r="2.88"/>
<circle cx="745.8" cy="683.8" r="2.88"/>
<circle cx="770.2" cy="702.0" r="2.88"/>
<circle cx="815.0" cy="675.0" r="2.88"/>
<circle cx="809.4" cy="674.5" r="2.88"/>
<circle cx="811.3" cy="669.8" r="2.88"/>
<circle cx="792.6" cy="680.1" r="2.88"/>
<circle cx="816.9" cy="693.2" r="2.88"/>
<circle cx="815.0" cy="668.9" r="2.88"/>
<circle cx="805.7" cy="679.8" r="2.88"/>
<circle cx="787.0" cy="687.3" r="2.88"/>
<circle cx="805.7" cy="672.8" r="2.88"/>
<circle cx="803.8" cy="693.7" r="2.88"/>
<circle cx="807.6" cy="667.9" r="2.88"/>
<circle cx="815.0" cy="676.1" r="2.88"/>
<circle cx="790.7" cy="675.1" r="2.88"/>
<circle cx="807.6" cy="694.8" r="2.88"/>
<circle cx="775.8" cy="668.0" r="2.88"/>
<circle cx="813.2" cy="666.4" r="2.88"/>
<circle cx="785.1" cy="666.2" r="2.88"/>
<circle cx="796.3" cy="663.9" r="2.88"/>
<circle cx="802.0" cy="705.7" r="2.88"/>
<circle cx="816.9" cy="679.2" r="2.88"/>
<circle cx="790.7" cy="662.5" r="2.88"/>
<circle cx="800.1" cy="688.3" r="2.88"/>
<circle cx="802.0" cy="701.6" r="2.88"/>
<circle cx="816.9" cy="683.8" r="2.88"/>
<circle cx="796.3" cy="689.1" r="2.88"/>
<circle cx="783.2" cy="705.7" r="2.88"/>
<circle cx="807.6" cy="662.0" r="2.88"/>
<circle cx="788.9" cy="669.1" r="2.88"/>
<circle cx="792.6" cy="678.0" r="2.88"/>
<circle cx="818.8" cy="673.5" r="2.88"/>
<circle cx="803.8" cy="678.1" r="2.88"/>
<circle cx="798.2" cy="683.4" r="2.88"/>
<circle cx="809.4" cy="701.2" r="2.88"/>
<circle cx="803.8" cy="697.0" r="2.88"/>
<circle cx="805.7" cy="681.6" r="2.88"/>
<circle cx="777.6" cy="675.7" r="2.88"/>
<circle cx="805.7" cy="689.2" r="2.88"/>
<circle cx="807.6" cy="707.4" r="2.88"/>
<circle cx="815.0" cy="697.5" r="2.88"/>
<circle cx="785.1" cy="692.4" r="2.88"/>
<circle cx="807.6" cy="667.9" r="2.88"/>
<circle cx="788.9" cy="694.5" r="2.88"/>
<circle cx="785.1" cy="680.4" r="2.88"/>
<circle cx="820.7" cy="685.7" r="2.88"/>
<circle cx="802.0" cy="697.7" r="2.88"/>
<circle cx="841.2" cy="668.5" r="2.88"/>
<circle cx="852.5" cy="674.1" r="2.88"/>
<circle cx="850.6" cy="690.8" r="2.88"/>
<circle cx="865.6" cy="661.0" r="2.88"/>
<circle cx="831.9" cy="704.5" r="2.88"/>
<circle cx="841.2" cy="667.9" r="2.88"/>
<circle cx="831.9" cy="688.2" r="2.88"/>
<circle cx="859.9" cy="696.3" r="2.88"/>
<circle cx="843.1" cy="688.7" r="2.88"/>
<circle cx="824.4" cy="686.6" r="2.88"/>
<circle cx="841.2" cy="663.5" r="2.88"/>
<circle cx="830.0" cy="669.2" r="2.88"/>
<circle cx="869.3" cy="673.6" r="2.88"/>
<circle cx="837.5" cy="695.5" r="2.88"/>
<circle cx="839.4" cy="686.8" r="2.88"/>
<circle cx="848.7" cy="703.0" r="2.88"/>
<circle cx="861.8" cy="675.5" r="2.88"/>
<circle cx="837.5" cy="703.3" r="2.88"/>
<circle cx="824.4" cy="687.8" r="2.88"/>
<circle cx="863.7" cy="702.2" r="2.88"/>
<circle cx="839.4" cy="661.9" r="2.88"/>
<circle cx="852.5" cy="670.2" r="2.88"/>
<circle cx="852.5" cy="697.4" r="2.88"/>
<circle cx="839.4" cy="664.9" r="2.88"/>
<circle cx="826.3" cy="695.2" r="2.88"/>
<circle cx="852.5" cy="677.3" r="2.88"/>
<circle cx="845.0" cy="689.0" r="2.88"/>
<circle cx="833.8" cy="686.0" r="2.88"/>
<circle cx="830.0" cy="671.0" r="2.88"/>
<circle cx="863.7" cy="692.5" r="2.88"/>
<circle cx="901.1" cy="664.8" r="2.88"/>
<circle cx="891.7" cy="682.8" r="2.88"/>
<circle cx="897.4" cy="668.9" r="2.88"/>
<circle cx="904.8" cy="666.1" r="2.88"/>
<circle cx="910.4" cy="685.8" r="2.88"/>
<circle cx="910.4" cy="672.8" r="2.88"/>
<circle cx="903.0" cy="693.4" r="2.88"/>
<circle cx="904.8" cy="700.8" r="2.88"/>
<circle cx="876.8" cy="673.1" r="2.88"/>
<circle cx="882.4" cy="699.1" r="2.88"/>
<circle cx="893.6" cy="680.9" r="2.88"/>
<circle cx="882.4" cy="679.1" r="2.88"/>
<circle cx="914.2" cy="673.4" r="2.88"/>
<circle cx="895.5" cy="666.8" r="2.88"/>
<circle cx="874.9" cy="697.3" r="2.88"/>
<circle cx="886.1" cy="665.9" r="2.88"/>
<circle cx="903.0" cy="681.1" r="2.88"/>
<circle cx="884.3" cy="672.2" r="2.88"/>
<circle cx="889.9" cy="687.9" r="2.88"/>
<circle cx="886.1" cy="668.4" r="2.88"/>
<circle cx="899.2" cy="691.7" r="2.88"/>
<circle cx="874.9" cy="698.5" r="2.88"/>
<circle cx="869.3" cy="669.6" r="2.88"/>
<circle cx="891.7" cy="678.8" r="2.88"/>
<circle cx="903.0" cy="673.1" r="2.88"/>
<circle cx="903.0" cy="701.8" r="2.88"/>
<circle cx="874.9" cy="690.7" r="2.88"/>
<circle cx="880.5" cy="677.8" r="2.88"/>
<circle cx="912.3" cy="675.0" r="2.88"/>
<circle cx="893.6" cy="672.2" r="2.88"/>
<circle cx="917.9" cy="672.0" r="2.88"/>
<circle cx="919.8" cy="681.8" r="2.88"/>
<circle cx="962.8" cy="707.3" r="2.88"/>
<circle cx="959.1" cy="686.9" r="2.88"/>
<circle cx="927.3" cy="699.0" r="2.88"/>
<circle cx="947.9" cy="667.3" r="2.88"/>
<circle cx="957.2" cy="694.4" r="2.88"/>
<circle cx="944.1" cy="689.5" r="2.88"/>
<circle cx="938.5" cy="687.9" r="2.88"/>
<circle cx="949.7" cy="698.5" r="2.88"/>
<circle cx="944.1" cy="664.3" r="2.88"/>
<circle cx="957.2" cy="664.5" r="2.88"/>
<circle cx="921.7" cy="670.3" r="2.88"/>
<circle cx="959.1" cy="683.0" r="2.88"/>
<circle cx="946.0" cy="662.7" r="2.88"/>
<circle cx="959.1" cy="694.5" r="2.88"/>
<circle cx="938.5" cy="688.2" r="2.88"/>
<circle cx="955.3" cy="706.3" r="2.88"/>
<circle cx="925.4" cy="688.2" r="2.88"/>
<circle cx="953.5" cy="666.4" r="2.88"/>
<circle cx="934.8" cy="672.0" r="2.88"/>
<circle cx="961.0" cy="688.4" r="2.88"/>
<circle cx="957.2" cy="685.1" r="2.88"/>
<circle cx="925.4" cy="675.9" r="2.88"/>
<circle cx="925.4" cy="675.9" r="2.88"/>
<circle cx="940.4" cy="684.0" r="2.88"/>
<circle cx="947.9" cy="683.9" r="2.88"/>
<circle cx="951.6" cy="705.6" r="2.88"/>
<circle cx="942.2" cy="681.5" r="2.88"/>
<circle cx="938.5" cy="674.8" r="2.88"/>
<circle cx="932.9" cy="694.9" r="2.88"/>
<circle cx="951.6" cy="689.2" r="2.88"/>
<circle cx="917.9" cy="663.7" r="2.88"/>
<circle cx="961.0" cy="706.0" r="2.88"/>
<circle cx="925.4" cy="689.2" r="2.88"/>
<circle cx="921.7" cy="664.9" r="2.88"/>
<circle cx="951.6" cy="704.3" r="2.88"/>
<circle cx="953.5" cy="696.0" r="2.88"/>
<circle cx="951.6" cy="669.7" r="2.88"/>
<circle cx="929.2" cy="686.6" r="2.88"/>
<circle cx="1002.1" cy="688.7" r="2.88"/>
<circle cx="1002.1" cy="672.9" r="2.88"/>
<circle cx="981.5" cy="677.5" r="2.88"/>
<circle cx="987.1" cy="702.7" r="2.88"/>
<circle cx="974.0" cy="705.9" r="2.88"/>
<circle cx="983.4" cy="689.8" r="2.88"/>
<circle cx="962.8" cy="668.9" r="2.88"/>
<circle cx="975.9" cy="693.9" r="2.88"/>
<circle cx="1005.8" cy="692.5" r="2.88"/>
<circle cx="966.6" cy="666.1" r="2.88"/>
<circle cx="998.4" cy="705.5" r="2.88"/>
<circle cx="1000.2" cy="695.5" r="2.88"/>
<circle cx="987.1" cy="689.5" r="2.88"/>
<circle cx="975.9" cy="706.3" r="2.88"/>
<circle cx="1007.7" cy="679.4" r="2.88"/>
<circle cx="1000.2" cy="689.7" r="2.88"/>
<circle cx="979.7" cy="680.7" r="2.88"/>
<circle cx="1007.7" cy="691.8" r="2.88"/>
<circle cx="989.0" cy="703.1" r="2.88"/>
<circle cx="972.2" cy="661.4" r="2.88"/>
<circle cx="1005.8" cy="703.7" r="2.88"/>
<circle cx="998.4" cy="698.1" r="2.88"/>
<circle cx="994.6" cy="675.6" r="2.88"/>
<circle cx="1007.7" cy="693.3" r="2.88"/>
<circle cx="992.8" cy="683.8" r="2.88"/>
<circle cx="1005.8" cy="689.9" r="2.88"/>
<circle cx="1005.8" cy="688.3" r="2.88"/>
<circle cx="998.4" cy="690.3" r="2.88"/>
<circle cx="985.3" cy="684.0" r="2.88"/>
<circle cx="964.7" cy="700.7" r="2.88"/>
<circle cx="970.3" cy="703.7" r="2.88"/>
<circle cx="992.8" cy="686.1" r="2.88"/>
<circle cx="966.6" cy="667.2" r="2.88"/>
<circle cx="1004.0" cy="667.7" r="2.88"/>
<circle cx="970.3" cy="666.1" r="2.88"/>
<circle cx="994.6" cy="683.3" r="2.88"/>
<circle cx="977.8" cy="671.9" r="2.88"/>
<circle cx="987.1" cy="678.0" r="2.88"/>
<circle cx="996.5" cy="675.4" r="2.88"/>
<circle cx="1009.6" cy="665.4" r="2.88"/>
<circle cx="1004.0" cy="690.6" r="2.88"/>
<circle cx="987.1" cy="682.3" r="2.88"/>
<circle cx="1000.2" cy="673.8" r="2.88"/>
<circle cx="974.0" cy="691.9" r="2.88"/>
<circle cx="992.8" cy="703.3" r="2.88"/>
<circle cx="983.4" cy="662.8" r="2.88"/>
<circle cx="968.4" cy="699.7" r="2.88"/>
<circle cx="983.4" cy="665.0" r="2.88"/>
<circle cx="996.5" cy="669.2" r="2.88"/>
<circle cx="1007.7" cy="703.5" r="2.88"/>
<circle cx="1000.2" cy="677.1" r="2.88"/>
<circle cx="992.8" cy="696.4" r="2.88"/>
<circle cx="985.3" cy="695.4" r="2.88"/>
<circle cx="1000.2" cy="662.7" r="2.88"/>
<circle cx="983.4" cy="667.1" r="2.88"/>
<circle cx="1005.8" cy="675.6" r="2.88"/>
<circle cx="975.9" cy="685.3" r="2.88"/>
<circle cx="1009.6" cy="668.6" r="2.88"/>
<circle cx="1005.8" cy="683.6" r="2.88"/>
<circle cx="1007.7" cy="666.4" r="2.88"/>
<circle cx="994.6" cy="670.9" r="2.88"/>
<circle cx="975.9" cy="701.7" r="2.88"/>
<circle cx="970.3" cy="661.2" r="2.88"/>
<circle cx="977.8" cy="662.3" r="2.88"/>
<circle cx="990.9" cy="665.7" r="2.88"/>
<circle cx="974.0" cy="679.4" r="2.88"/>
<circle cx="974.0" cy="705.5" r="2.88"/>
<circle cx="987.1" cy="669.2" r="2.88"/>
<circle cx="974.0" cy="682.0" r="2.88"/>
<circle cx="962.8" cy="696.9" r="2.88"/>
<circle cx="975.9" cy="692.2" r="2.88"/>
<circle cx="977.8" cy="695.2" r="2.88"/>
<circle cx="966.6" cy="665.8" r="2.88"/>
<circle cx="989.0" cy="700.5" r="2.88"/>
<circle cx="994.6" cy="667.5" r="2.88"/>
<circle cx="1033.9" cy="691.3" r="2.88"/>
<circle cx="1041.4" cy="683.4" r="2.88"/>
<circle cx="1015.2" cy="673.1" r="2.88"/>
<circle cx="1050.7" cy="706.9" r="2.88"/>
<circle cx="1011.5" cy="670.6" r="2.88"/>
<circle cx="1054.5" cy="707.2" r="2.88"/>
<circle cx="1052.6" cy="668.7" r="2.88"/>
<circle cx="1047.0" cy="684.1" r="2.88"/>
<circle cx="1009.6" cy="692.9" r="2.88"/>
<circle cx="1024.6" cy="705.8" r="2.88"/>
<circle cx="1022.7" cy="695.5" r="2.88"/>
<circle cx="1041.4" cy="689.7" r="2.88"/>
<circle cx="1054.5" cy="685.9" r="2.88"/>
<circle cx="1020.8" cy="675.5" r="2.88"/>
<circle cx="1032.0" cy="678.6" r="2.88"/>
<circle cx="1020.8" cy="683.6" r="2.88"/>
<circle cx="1024.6" cy="673.1" r="2.88"/>
<circle cx="1050.7" cy="682.0" r="2.88"/>
<circle cx="1037.6" cy="696.0" r="2.88"/>
<circle cx="1020.8" cy="694.8" r="2.88"/>
<circle cx="1013.3" cy="682.8" r="2.88"/>
<circle cx="1033.9" cy="670.6" r="2.88"/>
<circle cx="1037.6" cy="700.3" r="2.88"/>
<circle cx="1024.6" cy="677.6" r="2.88"/>
<circle cx="1017.1" cy="706.9" r="2.88"/>
<circle cx="1013.3" cy="695.1" r="2.88"/>
<circle cx="1018.9" cy="674.7" r="2.88"/>
<circle cx="1011.5" cy="667.8" r="2.88"/>
<circle cx="1054.5" cy="672.3" r="2.88"/>
<circle cx="1033.9" cy="677.2" r="2.88"/>
<circle cx="1030.2" cy="697.0" r="2.88"/>
<circle cx="1048.9" cy="664.7" r="2.88"/>
<circle cx="1017.1" cy="672.5" r="2.88"/>
<circle cx="1033.9" cy="668.4" r="2.88"/>
<circle cx="1043.3" cy="667.2" r="2.88"/>
<circle cx="1020.8" cy="695.8" r="2.88"/>
<circle cx="1056.4" cy="670.0" r="2.88"/>
<circle cx="1030.2" cy="701.2" r="2.88"/>
<circle cx="1022.7" cy="679.1" r="2.88"/>
<circle cx="1030.2" cy="692.5" r="2.88"/>
<circle cx="1037.6" cy="701.7" r="2.88"/>
<circle cx="1052.6" cy="684.0" r="2.88"/>
<circle cx="1024.6" cy="697.8" r="2.88"/>
<circle cx="1050.7" cy="679.3" r="2.88"/>
<circle cx="1035.8" cy="684.1" r="2.88"/>
<circle cx="1032.0" cy="693.6" r="2.88"/>
<circle cx="1013.3" cy="707.4" r="2.88"/>
<circle cx="1030.2" cy="679.5" r="2.88"/>
<circle cx="1026.4" cy="672.4" r="2.88"/>
<circle cx="1009.6" cy="667.3" r="2.88"/>
<circle cx="1018.9" cy="682.2" r="2.88"/>
<circle cx="1037.6" cy="668.5" r="2.88"/>
<circle cx="1015.2" cy="705.0" r="2.88"/>
<circle cx="1030.2" cy="661.9" r="2.88"/>
<circle cx="1048.9" cy="677.8" r="2.88"/>
<circle cx="1030.2" cy="703.7" r="2.88"/>
<circle cx="1054.5" cy="665.7" r="2.88"/>
<circle cx="1032.0" cy="700.9" r="2.88"/>
<circle cx="1047.0" cy="676.6" r="2.88"/>
<circle cx="1022.7" cy="692.2" r="2.88"/>
<circle cx="1032.0" cy="677.5" r="2.88"/>
<circle cx="1015.2" cy="664.0" r="2.88"/>
<circle cx="1045.1" cy="707.3" r="2.88"/>
<circle cx="1043.3" cy="696.5" r="2.88"/>
<circle cx="1030.2" cy="669.7" r="2.88"/>
<circle cx="1030.2" cy="688.0" r="2.88"/>
<circle cx="1054.5" cy="700.5" r="2.88"/>
<circle cx="1035.8" cy="703.2" r="2.88"/>
<circle cx="1047.0" cy="700.2" r="2.88"/>
<circle cx="1033.9" cy="698.4" r="2.88"/>
<circle cx="1054.5" cy="696.5" r="2.88"/>
<circle cx="1052.6" cy="672.4" r="2.88"/>
<circle cx="1024.6" cy="679.9" r="2.88"/>
<circle cx="1035.8" cy="704.6" r="2.88"/>
<circle cx="1048.9" cy="697.5" r="2.88"/>
<circle cx="1030.2" cy="684.6" r="2.88"/>
<circle cx="1022.7" cy="683.9" r="2.88"/>
<circle cx="1022.7" cy="673.2" r="2.88"/>
<circle cx="1037.6" cy="674.3" r="2.88"/>
<circle cx="1045.1" cy="676.8" r="2.88"/>
<circle cx="1045.1" cy="687.4" r="2.88"/>
<circle cx="1017.1" cy="704.3" r="2.88"/>
<circle cx="1050.7" cy="675.2" r="2.88"/>
<circle cx="1056.4" cy="677.9" r="2.88"/>
<circle cx="1047.0" cy="676.8" r="2.88"/>
<circle cx="1020.8" cy="680.7" r="2.88"/>
<circle cx="1032.0" cy="666.4" r="2.88"/>
<circle cx="1032.0" cy="706.3" r="2.88"/>
<circle cx="1062.0" cy="692.4" r="2.88"/>
<circle cx="1093.8" cy="669.6" r="2.88"/>
<circle cx="1058.2" cy="681.5" r="2.88"/>
<circle cx="1071.3" cy="665.2" r="2.88"/>
<circle cx="1063.8" cy="677.0" r="2.88"/>
<circle cx="1065.7" cy="699.0" r="2.88"/>
<circle cx="1073.2" cy="685.2" r="2.88"/>
<circle cx="1101.2" cy="672.4" r="2.88"/>
<circle cx="1090.0" cy="695.4" r="2.88"/>
<circle cx="1084.4" cy="693.1" r="2.88"/>
<circle cx="1080.7" cy="705.7" r="2.88"/>
<circle cx="1069.4" cy="686.4" r="2.88"/>
<circle cx="1091.9" cy="667.2" r="2.88"/>
<circle cx="1062.0" cy="706.2" r="2.88"/>
<circle cx="1071.3" cy="663.2" r="2.88"/>
<circle cx="1065.7" cy="675.4" r="2.88"/>
<circle cx="1080.7" cy="695.0" r="2.88"/>
<circle cx="1082.5" cy="664.9" r="2.88"/>
<circle cx="1082.5" cy="668.2" r="2.88"/>
<circle cx="1095.6" cy="666.2" r="2.88"/>
<circle cx="1065.7" cy="683.6" r="2.88"/>
<circle cx="1056.4" cy="683.2" r="2.88"/>
<circle cx="1069.4" cy="675.7" r="2.88"/>
<circle cx="1075.1" cy="663.4" r="2.88"/>
<circle cx="1097.5" cy="690.1" r="2.88"/>
<circle cx="1093.8" cy="689.2" r="2.88"/>
<circle cx="1058.2" cy="683.7" r="2.88"/>
<circle cx="1058.2" cy="698.5" r="2.88"/>
<circle cx="1060.1" cy="661.6" r="2.88"/>
<circle cx="1073.2" cy="682.8" r="2.88"/>
<circle cx="1075.1" cy="687.6" r="2.88"/>
<circle cx="1062.0" cy="673.6" r="2.88"/>
<circle cx="1060.1" cy="665.4" r="2.88"/>
<circle cx="1082.5" cy="673.1" r="2.88"/>
<circle cx="1088.2" cy="695.7" r="2.88"/>
<circle cx="1078.8" cy="689.0" r="2.88"/>
<circle cx="1091.9" cy="695.0" r="2.88"/>
<circle cx="1084.4" cy="679.6" r="2.88"/>
<circle cx="1063.8" cy="667.7" r="2.88"/>
<circle cx="1065.7" cy="703.1" r="2.88"/>
<circle cx="1058.2" cy="673.3" r="2.88"/>
<circle cx="1063.8" cy="667.9" r="2.88"/>
<circle cx="1093.8" cy="685.1" r="2.88"/>
<circle cx="1058.2" cy="682.7" r="2.88"/>
<circle cx="1067.6" cy="681.9" r="2.88"/>
<circle cx="1084.4" cy="680.4" r="2.88"/>
<circle cx="508.3" cy="654.4" r="2.88"/>
<circle cx="513.9" cy="635.5" r="2.88"/>
<circle cx="515.8" cy="636.1" r="2.88"/>
<circle cx="538.2" cy="653.5" r="2.88"/>
<circle cx="534.5" cy="615.6" r="2.88"/>
<circle cx="510.1" cy="650.4" r="2.88"/>
<circle cx="521.4" cy="623.0" r="2.88"/>
<circle cx="530.7" cy="638.2" r="2.88"/>
<circle cx="579.4" cy="630.0" r="2.88"/>
<circle cx="577.5" cy="632.0" r="2.88"/>
<circle cx="560.6" cy="637.8" r="2.88"/>
<circle cx="556.9" cy="616.6" r="2.88"/>
<circle cx="571.9" cy="637.6" r="2.88"/>
<circle cx="570.0" cy="630.2" r="2.88"/>
<circle cx="547.6" cy="660.0" r="2.88"/>
<circle cx="570.0" cy="640.3" r="2.88"/>
<circle cx="564.4" cy="653.7" r="2.88"/>
<circle cx="543.8" cy="650.2" r="2.88"/>
<circle cx="560.6" cy="642.6" r="2.88"/>
<circle cx="581.2" cy="635.6" r="2.88"/>
<circle cx="564.4" cy="657.3" r="2.88"/>
<circle cx="568.1" cy="631.3" r="2.88"/>
<circle cx="583.1" cy="647.4" r="2.88"/>
<circle cx="543.8" cy="642.8" r="2.88"/>
<circle cx="588.7" cy="622.7" r="2.88"/>
<circle cx="556.9" cy="630.8" r="2.88"/>
<circle cx="592.4" cy="629.2" r="2.88"/>
<circle cx="590.6" cy="618.6" r="2.88"/>
<circle cx="605.5" cy="625.0" r="2.88"/>
<circle cx="598.1" cy="643.9" r="2.88"/>
<circle cx="618.6" cy="620.1" r="2.88"/>
<circle cx="633.6" cy="656.5" r="2.88"/>
<circle cx="631.7" cy="660.5" r="2.88"/>
<circle cx="599.9" cy="627.2" r="2.88"/>
<circle cx="635.5" cy="634.9" r="2.88"/>
<circle cx="601.8" cy="649.9" r="2.88"/>
<circle cx="611.2" cy="627.2" r="2.88"/>
<circle cx="614.9" cy="659.7" r="2.88"/>
<circle cx="611.2" cy="634.6" r="2.88"/>
<circle cx="624.2" cy="617.0" r="2.88"/>
<circle cx="613.0" cy="615.1" r="2.88"/>
<circle cx="590.6" cy="630.5" r="2.88"/>
<circle cx="631.7" cy="631.5" r="2.88"/>
<circle cx="605.5" cy="627.8" r="2.88"/>
<circle cx="599.9" cy="651.2" r="2.88"/>
<circle cx="603.7" cy="616.2" r="2.88"/>
<circle cx="594.3" cy="631.2" r="2.88"/>
<circle cx="631.7" cy="641.2" r="2.88"/>
<circle cx="620.5" cy="622.4" r="2.88"/>
<circle cx="628.0" cy="635.9" r="2.88"/>
<circle cx="622.4" cy="651.2" r="2.88"/>
<circle cx="648.6" cy="621.9" r="2.88"/>
<circle cx="661.7" cy="641.8" r="2.88"/>
<circle cx="667.3" cy="656.9" r="2.88"/>
<circle cx="635.5" cy="620.2" r="2.88"/>
<circle cx="671.0" cy="635.6" r="2.88"/>
<circle cx="659.8" cy="633.0" r="2.88"/>
<circle cx="656.0" cy="655.1" r="2.88"/>
<circle cx="680.4" cy="632.7" r="2.88"/>
<circle cx="678.5" cy="647.2" r="2.88"/>
<circle cx="657.9" cy="623.6" r="2.88"/>
<circle cx="650.4" cy="643.2" r="2.88"/>
<circle cx="641.1" cy="656.5" r="2.88"/>
<circle cx="671.0" cy="647.3" r="2.88"/>
<circle cx="672.9" cy="632.4" r="2.88"/>
<circle cx="667.3" cy="625.8" r="2.88"/>
<circle cx="644.8" cy="621.3" r="2.88"/>
<circle cx="639.2" cy="647.3" r="2.88"/>
<circle cx="641.1" cy="626.4" r="2.88"/>
<circle cx="656.0" cy="653.6" r="2.88"/>
<circle cx="646.7" cy="648.1" r="2.88"/>
<circle cx="646.7" cy="660.4" r="2.88"/>
<circle cx="652.3" cy="623.9" r="2.88"/>
<circle cx="661.7" cy="621.4" r="2.88"/>
<circle cx="637.3" cy="632.7" r="2.88"/>
<circle cx="637.3" cy="627.3" r="2.88"/>
<circle cx="656.0" cy="615.7" r="2.88"/>
<circle cx="665.4" cy="650.9" r="2.88"/>
<circle cx="680.4" cy="642.0" r="2.88"/>
<circle cx="637.3" cy="617.5" r="2.88"/>
<circle cx="641.1" cy="646.4" r="2.88"/>
<circle cx="657.9" cy="630.7" r="2.88"/>
<circle cx="654.2" cy="658.5" r="2.88"/>
<circle cx="672.9" cy="644.6" r="2.88"/>
<circle cx="678.5" cy="660.8" r="2.88"/>
<circle cx="650.4" cy="640.2" r="2.88"/>
<circle cx="704.7" cy="641.6" r="2.88"/>
<circle cx="725.3" cy="658.8" r="2.88"/>
<circle cx="717.8" cy="644.1" r="2.88"/>
<circle cx="717.8" cy="636.7" r="2.88"/>
<circle cx="684.1" cy="644.3" r="2.88"/>
<circle cx="727.1" cy="636.1" r="2.88"/>
<circle cx="699.1" cy="617.7" r="2.88"/>
<circle cx="729.0" cy="658.7" r="2.88"/>
<circle cx="714.0" cy="617.2" r="2.88"/>
<circle cx="719.6" cy="641.2" r="2.88"/>
<circle cx="725.3" cy="623.6" r="2.88"/>
<circle cx="723.4" cy="620.6" r="2.88"/>
<circle cx="697.2" cy="659.5" r="2.88"/>
<circle cx="704.7" cy="626.6" r="2.88"/>
<circle cx="697.2" cy="649.0" r="2.88"/>
<circle cx="687.8" cy="632.8" r="2.88"/>
<circle cx="708.4" cy="616.6" r="2.88"/>
<circle cx="695.3" cy="633.7" r="2.88"/>
<circle cx="691.6" cy="626.5" r="2.88"/>
<circle cx="702.8" cy="624.2" r="2.88"/>
<circle cx="723.4" cy="653.7" r="2.88"/>
<circle cx="695.3" cy="633.8" r="2.88"/>
<circle cx="708.4" cy="645.4" r="2.88"/>
<circle cx="706.6" cy="635.1" r="2.88"/>
<circle cx="721.5" cy="625.7" r="2.88"/>
<circle cx="714.0" cy="659.9" r="2.88"/>
<circle cx="725.3" cy="639.4" r="2.88"/>
<circle cx="708.4" cy="636.7" r="2.88"/>
<circle cx="727.1" cy="648.7" r="2.88"/>
<circle cx="697.2" cy="615.7" r="2.88"/>
<circle cx="721.5" cy="651.2" r="2.88"/>
<circle cx="687.8" cy="622.6" r="2.88"/>
<circle cx="693.5" cy="658.0" r="2.88"/>
<circle cx="691.6" cy="639.2" r="2.88"/>
<circle cx="708.4" cy="653.3" r="2.88"/>
<circle cx="697.2" cy="623.7" r="2.88"/>
<circle cx="700.9" cy="625.4" r="2.88"/>
<circle cx="689.7" cy="642.7" r="2.88"/>
<circle cx="721.5" cy="651.2" r="2.88"/>
<circle cx="710.3" cy="652.1" r="2.88"/>
<circle cx="704.7" cy="617.7" r="2.88"/>
<circle cx="704.7" cy="622.6" r="2.88"/>
<circle cx="706.6" cy="616.1" r="2.88"/>
<circle cx="686.0" cy="632.0" r="2.88"/>
<circle cx="700.9" cy="648.1" r="2.88"/>
<circle cx="691.6" cy="640.2" r="2.88"/>
<circle cx="695.3" cy="629.5" r="2.88"/>
<circle cx="697.2" cy="641.0" r="2.88"/>
<circle cx="693.5" cy="657.5" r="2.88"/>
<circle cx="712.2" cy="637.1" r="2.88"/>
<circle cx="744.0" cy="646.3" r="2.88"/>
<circle cx="762.7" cy="632.2" r="2.88"/>
<circle cx="768.3" cy="626.8" r="2.88"/>
<circle cx="755.2" cy="634.3" r="2.88"/>
<circle cx="745.8" cy="652.4" r="2.88"/>
<circle cx="764.5" cy="623.3" r="2.88"/>
<circle cx="742.1" cy="621.5" r="2.88"/>
<circle cx="749.6" cy="647.6" r="2.88"/>
<circle cx="734.6" cy="660.9" r="2.88"/>
<circle cx="753.3" cy="636.1" r="2.88"/>
<circle cx="773.9" cy="656.8" r="2.88"/>
<circle cx="732.7" cy="638.4" r="2.88"/>
<circle cx="734.6" cy="641.0" r="2.88"/>
<circle cx="762.7" cy="651.1" r="2.88"/>
<circle cx="753.3" cy="615.6" r="2.88"/>
<circle cx="736.5" cy="636.8" r="2.88"/>
<circle cx="751.4" cy="657.8" r="2.88"/>
<circle cx="768.3" cy="634.2" r="2.88"/>
<circle cx="749.6" cy="622.7" r="2.88"/>
<circle cx="745.8" cy="648.0" r="2.88"/>
<circle cx="766.4" cy="641.7" r="2.88"/>
<circle cx="770.2" cy="644.3" r="2.88"/>
<circle cx="753.3" cy="624.9" r="2.88"/>
<circle cx="762.7" cy="649.1" r="2.88"/>
<circle cx="745.8" cy="644.1" r="2.88"/>
<circle cx="766.4" cy="614.9" r="2.88"/>
<circle cx="734.6" cy="621.7" r="2.88"/>
<circle cx="755.2" cy="624.1" r="2.88"/>
<circle cx="747.7" cy="630.0" r="2.88"/>
<circle cx="760.8" cy="617.2" r="2.88"/>
<circle cx="742.1" cy="656.0" r="2.88"/>
<circle cx="745.8" cy="639.2" r="2.88"/>
<circle cx="747.7" cy="627.5" r="2.88"/>
<circle cx="758.9" cy="661.0" r="2.88"/>
<circle cx="773.9" cy="619.1" r="2.88"/>
<circle cx="749.6" cy="628.5" r="2.88"/>
<circle cx="766.4" cy="627.2" r="2.88"/>
<circle cx="766.4" cy="616.7" r="2.88"/>
<circle cx="766.4" cy="634.2" r="2.88"/>
<circle cx="747.7" cy="616.3" r="2.88"/>
<circle cx="768.3" cy="643.6" r="2.88"/>
<circle cx="758.9" cy="620.3" r="2.88"/>
<circle cx="766.4" cy="641.4" r="2.88"/>
<circle cx="773.9" cy="627.1" r="2.88"/>
<circle cx="749.6" cy="651.3" r="2.88"/>
<circle cx="749.6" cy="633.5" r="2.88"/>
<circle cx="772.0" cy="637.9" r="2.88"/>
<circle cx="762.7" cy="640.0" r="2.88"/>
<circle cx="760.8" cy="623.5" r="2.88"/>
<circle cx="742.1" cy="634.6" r="2.88"/>
<circle cx="755.2" cy="616.0" r="2.88"/>
<circle cx="751.4" cy="659.8" r="2.88"/>
<circle cx="736.5" cy="644.5" r="2.88"/>
<circle cx="766.4" cy="660.2" r="2.88"/>
<circle cx="768.3" cy="654.5" r="2.88"/>
<circle cx="816.9" cy="655.2" r="2.88"/>
<circle cx="816.9" cy="637.8" r="2.88"/>
<circle cx="820.7" cy="633.4" r="2.88"/>
<circle cx="792.6" cy="616.0" r="2.88"/>
<circle cx="794.5" cy="618.9" r="2.88"/>
<circle cx="785.1" cy="620.3" r="2.88"/>
<circle cx="807.6" cy="648.1" r="2.88"/>
<circle cx="790.7" cy="656.6" r="2.88"/>
<circle cx="790.7" cy="622.1" r="2.88"/>
<circle cx="809.4" cy="621.6" r="2.88"/>
<circle cx="775.8" cy="654.8" r="2.88"/>
<circle cx="777.6" cy="653.8" r="2.88"/>
<circle cx="820.7" cy="652.6" r="2.88"/>
<circle cx="811.3" cy="650.2" r="2.88"/>
<circle cx="798.2" cy="630.2" r="2.88"/>
<circle cx="787.0" cy="640.7" r="2.88"/>
<circle cx="790.7" cy="627.3" r="2.88"/>
<circle cx="783.2" cy="621.0" r="2.88"/>
<circle cx="813.2" cy="658.0" r="2.88"/>
<circle cx="800.1" cy="651.1" r="2.88"/>
<circle cx="815.0" cy="616.6" r="2.88"/>
<circle cx="805.7" cy="633.7" r="2.88"/>
<circle cx="798.2" cy="641.1" r="2.88"/>
<circle cx="805.7" cy="637.8" r="2.88"/>
<circle cx="811.3" cy="635.1" r="2.88"/>
<circle cx="794.5" cy="625.0" r="2.88"/>
<circle cx="788.9" cy="620.5" r="2.88"/>
<circle cx="781.4" cy="632.5" r="2.88"/>
<circle cx="783.2" cy="626.0" r="2.88"/>
<circle cx="818.8" cy="635.8" r="2.88"/>
<circle cx="777.6" cy="648.0" r="2.88"/>
<circle cx="811.3" cy="624.0" r="2.88"/>
<circle cx="785.1" cy="645.0" r="2.88"/>
<circle cx="785.1" cy="646.4" r="2.88"/>
<circle cx="813.2" cy="646.2" r="2.88"/>
<circle cx="800.1" cy="641.7" r="2.88"/>
<circle cx="781.4" cy="614.9" r="2.88"/>
<circle cx="807.6" cy="642.5" r="2.88"/>
<circle cx="815.0" cy="640.9" r="2.88"/>
<circle cx="781.4" cy="635.3" r="2.88"/>
<circle cx="792.6" cy="637.0" r="2.88"/>
<circle cx="813.2" cy="620.1" r="2.88"/>
<circle cx="781.4" cy="627.6" r="2.88"/>
<circle cx="781.4" cy="659.9" r="2.88"/>
<circle cx="794.5" cy="620.5" r="2.88"/>
<circle cx="794.5" cy="639.3" r="2.88"/>
<circle cx="807.6" cy="617.5" r="2.88"/>
<circle cx="805.7" cy="656.1" r="2.88"/>
<circle cx="807.6" cy="623.6" r="2.88"/>
<circle cx="794.5" cy="630.4" r="2.88"/>
<circle cx="865.6" cy="659.2" r="2.88"/>
<circle cx="854.3" cy="650.2" r="2.88"/>
<circle cx="830.0" cy="620.0" r="2.88"/>
<circle cx="854.3" cy="627.4" r="2.88"/>
<circle cx="848.7" cy="615.9" r="2.88"/>
<circle cx="859.9" cy="658.7" r="2.88"/>
<circle cx="837.5" cy="653.0" r="2.88"/>
<circle cx="830.0" cy="645.5" r="2.88"/>
<circle cx="848.7" cy="640.9" r="2.88"/>
<circle cx="833.8" cy="632.8" r="2.88"/>
<circle cx="845.0" cy="660.8" r="2.88"/>
<circle cx="831.9" cy="624.1" r="2.88"/>
<circle cx="830.0" cy="649.4" r="2.88"/>
<circle cx="858.1" cy="623.2" r="2.88"/>
<circle cx="856.2" cy="636.3" r="2.88"/>
<circle cx="854.3" cy="658.4" r="2.88"/>
<circle cx="830.0" cy="615.0" r="2.88"/>
<circle cx="845.0" cy="636.2" r="2.88"/>
<circle cx="865.6" cy="624.9" r="2.88"/>
<circle cx="852.5" cy="636.3" r="2.88"/>
<circle cx="835.6" cy="617.0" r="2.88"/>
<circle cx="835.6" cy="647.4" r="2.88"/>
<circle cx="861.8" cy="619.9" r="2.88"/>
<circle cx="824.4" cy="653.7" r="2.88"/>
<circle cx="867.4" cy="650.0" r="2.88"/>
<circle cx="859.9" cy="660.4" r="2.88"/>
<circle cx="861.8" cy="615.3" r="2.88"/>
<circle cx="826.3" cy="657.4" r="2.88"/>
<circle cx="846.8" cy="646.5" r="2.88"/>
<circle cx="861.8" cy="648.0" r="2.88"/>
<circle cx="831.9" cy="654.1" r="2.88"/>
<circle cx="850.6" cy="616.6" r="2.88"/>
<circle cx="861.8" cy="631.4" r="2.88"/>
<circle cx="859.9" cy="635.2" r="2.88"/>
<circle cx="828.1" cy="639.4" r="2.88"/>
<circle cx="906.7" cy="636.2" r="2.88"/>
<circle cx="901.1" cy="637.1" r="2.88"/>
<circle cx="895.5" cy="639.1" r="2.88"/>
<circle cx="882.4" cy="645.6" r="2.88"/>
<circle cx="871.2" cy="628.8" r="2.88"/>
<circle cx="882.4" cy="635.4" r="2.88"/>
<circle cx="886.1" cy="623.5" r="2.88"/>
<circle cx="889.9" cy="649.2" r="2.88"/>
<circle cx="910.4" cy="659.5" r="2.88"/>
<circle cx="884.3" cy="619.0" r="2.88"/>
<circle cx="899.2" cy="636.6" r="2.88"/>
<circle cx="878.6" cy="649.7" r="2.88"/>
<circle cx="908.6" cy="624.3" r="2.88"/>
<circle cx="888.0" cy="648.3" r="2.88"/>
<circle cx="901.1" cy="633.0" r="2.88"/>
<circle cx="884.3" cy="626.3" r="2.88"/>
<circle cx="893.6" cy="650.7" r="2.88"/>
<circle cx="882.4" cy="633.0" r="2.88"/>
<circle cx="895.5" cy="639.7" r="2.88"/>
<circle cx="876.8" cy="656.6" r="2.88"/>
<circle cx="910.4" cy="621.6" r="2.88"/>
<circle cx="886.1" cy="648.6" r="2.88"/>
<circle cx="914.2" cy="650.5" r="2.88"/>
<circle cx="889.9" cy="620.5" r="2.88"/>
<circle cx="889.9" cy="625.7" r="2.88"/>
<circle cx="908.6" cy="658.1" r="2.88"/>
<circle cx="878.6" cy="627.7" r="2.88"/>
<circle cx="876.8" cy="659.0" r="2.88"/>
<circle cx="910.4" cy="631.9" r="2.88"/>
<circle cx="871.2" cy="630.1" r="2.88"/>
<circle cx="957.2" cy="641.1" r="2.88"/>
<circle cx="936.6" cy="651.1" r="2.88"/>
<circle cx="927.3" cy="657.5" r="2.88"/>
<circle cx="916.1" cy="640.1" r="2.88"/>
<circle cx="923.5" cy="620.4" r="2.88"/>
<circle cx="947.9" cy="630.6" r="2.88"/>
<circle cx="959.1" cy="615.3" r="2.88"/>
<circle cx="938.5" cy="634.8" r="2.88"/>
<circle cx="957.2" cy="617.6" r="2.88"/>
<circle cx="957.2" cy="650.9" r="2.88"/>
<circle cx="942.2" cy="635.0" r="2.88"/>
<circle cx="953.5" cy="629.4" r="2.88"/>
<circle cx="927.3" cy="634.3" r="2.88"/>
<circle cx="955.3" cy="660.5" r="2.88"/>
<circle cx="947.9" cy="631.7" r="2.88"/>
<circle cx="947.9" cy="622.6" r="2.88"/>
<circle cx="959.1" cy="644.1" r="2.88"/>
<circle cx="925.4" cy="633.5" r="2.88"/>
<circle cx="953.5" cy="644.8" r="2.88"/>
<circle cx="936.6" cy="630.2" r="2.88"/>
<circle cx="938.5" cy="641.9" r="2.88"/>
<circle cx="921.7" cy="642.7" r="2.88"/>
<circle cx="942.2" cy="622.2" r="2.88"/>
<circle cx="921.7" cy="653.5" r="2.88"/>
<circle cx="927.3" cy="619.4" r="2.88"/>
<circle cx="925.4" cy="620.6" r="2.88"/>
<circle cx="938.5" cy="657.2" r="2.88"/>
<circle cx="921.7" cy="660.3" r="2.88"/>
<circle cx="927.3" cy="632.0" r="2.88"/>
<circle cx="957.2" cy="634.3" r="2.88"/>
<circle cx="957.2" cy="656.8" r="2.88"/>
<circle cx="934.8" cy="636.1" r="2.88"/>
<circle cx="940.4" cy="657.9" r="2.88"/>
<circle cx="925.4" cy="637.9" r="2.88"/>
<circle cx="949.7" cy="635.0" r="2.88"/>
<circle cx="938.5" cy="617.8" r="2.88"/>
<circle cx="962.8" cy="648.0" r="2.88"/>
<circle cx="957.2" cy="656.7" r="2.88"/>
<circle cx="949.7" cy="614.6" r="2.88"/>
<circle cx="925.4" cy="632.8" r="2.88"/>
<circle cx="1009.6" cy="653.2" r="2.88"/>
<circle cx="983.4" cy="643.0" r="2.88"/>
<circle cx="968.4" cy="647.0" r="2.88"/>
<circle cx="966.6" cy="636.5" r="2.88"/>
<circle cx="983.4" cy="620.4" r="2.88"/>
<circle cx="966.6" cy="645.5" r="2.88"/>
<circle cx="979.7" cy="651.8" r="2.88"/>
<circle cx="992.8" cy="639.3" r="2.88"/>
<circle cx="996.5" cy="651.4" r="2.88"/>
<circle cx="975.9" cy="652.0" r="2.88"/>
<circle cx="990.9" cy="632.8" r="2.88"/>
<circle cx="998.4" cy="617.4" r="2.88"/>
<circle cx="998.4" cy="627.7" r="2.88"/>
<circle cx="1007.7" cy="629.3" r="2.88"/>
<circle cx="994.6" cy="624.5" r="2.88"/>
<circle cx="1004.0" cy="622.7" r="2.88"/>
<circle cx="996.5" cy="658.8" r="2.88"/>
<circle cx="981.5" cy="616.1" r="2.88"/>
<circle cx="985.3" cy="633.0" r="2.88"/>
<circle cx="992.8" cy="621.4" r="2.88"/>
<circle cx="966.6" cy="622.2" r="2.88"/>
<circle cx="996.5" cy="638.5" r="2.88"/>
<circle cx="968.4" cy="626.3" r="2.88"/>
<circle cx="981.5" cy="642.8" r="2.88"/>
<circle cx="996.5" cy="649.4" r="2.88"/>
<circle cx="998.4" cy="660.9" r="2.88"/>
<circle cx="1004.0" cy="644.8" r="2.88"/>
<circle cx="966.6" cy="615.3" r="2.88"/>
<circle cx="1000.2" cy="651.6" r="2.88"/>
<circle cx="974.0" cy="618.1" r="2.88"/>
<circle cx="1004.0" cy="655.5" r="2.88"/>
<circle cx="968.4" cy="627.9" r="2.88"/>
<circle cx="964.7" cy="645.9" r="2.88"/>
<circle cx="964.7" cy="630.5" r="2.88"/>
<circle cx="1005.8" cy="624.8" r="2.88"/>
<circle cx="977.8" cy="621.7" r="2.88"/>
<circle cx="1000.2" cy="624.3" r="2.88"/>
<circle cx="992.8" cy="652.1" r="2.88"/>
<circle cx="972.2" cy="625.4" r="2.88"/>
<circle cx="987.1" cy="648.1" r="2.88"/>
<circle cx="989.0" cy="633.6" r="2.88"/>
<circle cx="990.9" cy="659.0" r="2.88"/>
<circle cx="964.7" cy="637.8" r="2.88"/>
<circle cx="968.4" cy="628.4" r="2.88"/>
<circle cx="987.1" cy="659.7" r="2.88"/>
<circle cx="1007.7" cy="633.2" r="2.88"/>
<circle cx="977.8" cy="622.1" r="2.88"/>
<circle cx="990.9" cy="637.9" r="2.88"/>
<circle cx="983.4" cy="650.9" r="2.88"/>
<circle cx="1007.7" cy="658.4" r="2.88"/>
<circle cx="977.8" cy="634.7" r="2.88"/>
<circle cx="1004.0" cy="645.4" r="2.88"/>
<circle cx="979.7" cy="629.7" r="2.88"/>
<circle cx="998.4" cy="627.1" r="2.88"/>
<circle cx="987.1" cy="631.5" r="2.88"/>
<circle cx="998.4" cy="627.0" r="2.88"/>
<circle cx="1004.0" cy="624.8" r="2.88"/>
<circle cx="989.0" cy="633.0" r="2.88"/>
<circle cx="975.9" cy="648.9" r="2.88"/>
<circle cx="996.5" cy="640.0" r="2.88"/>
<circle cx="1005.8" cy="650.9" r="2.88"/>
<circle cx="987.1" cy="652.5" r="2.88"/>
<circle cx="972.2" cy="626.7" r="2.88"/>
<circle cx="998.4" cy="655.3" r="2.88"/>
<circle cx="977.8" cy="627.4" r="2.88"/>
<circle cx="989.0" cy="636.1" r="2.88"/>
<circle cx="979.7" cy="658.3" r="2.88"/>
<circle cx="966.6" cy="640.5" r="2.88"/>
<circle cx="994.6" cy="641.7" r="2.88"/>
<circle cx="977.8" cy="650.3" r="2.88"/>
<circle cx="992.8" cy="622.0" r="2.88"/>
<circle cx="998.4" cy="616.4" r="2.88"/>
<circle cx="989.0" cy="658.0" r="2.88"/>
<circle cx="987.1" cy="629.5" r="2.88"/>
<circle cx="966.6" cy="635.5" r="2.88"/>
<circle cx="1047.0" cy="614.6" r="2.88"/>
<circle cx="1030.2" cy="627.5" r="2.88"/>
<circle cx="1013.3" cy="616.8" r="2.88"/>
<circle cx="1020.8" cy="632.1" r="2.88"/>
<circle cx="1030.2" cy="642.1" r="2.88"/>
<circle cx="1020.8" cy="650.1" r="2.88"/>
<circle cx="1041.4" cy="659.3" r="2.88"/>
<circle cx="1056.4" cy="628.0" r="2.88"/>
<circle cx="1056.4" cy="636.3" r="2.88"/>
<circle cx="1011.5" cy="643.4" r="2.88"/>
<circle cx="1052.6" cy="660.1" r="2.88"/>
<circle cx="1018.9" cy="637.8" r="2.88"/>
<circle cx="1052.6" cy="636.3" r="2.88"/>
<circle cx="1033.9" cy="629.2" r="2.88"/>
<circle cx="1015.2" cy="641.7" r="2.88"/>
<circle cx="1011.5" cy="650.8" r="2.88"/>
<circle cx="1013.3" cy="633.0" r="2.88"/>
<circle cx="1028.3" cy="658.0" r="2.88"/>
<circle cx="1043.3" cy="659.5" r="2.88"/>
<circle cx="1045.1" cy="642.9" r="2.88"/>
<circle cx="1028.3" cy="636.5" r="2.88"/>
<circle cx="1018.9" cy="660.1" r="2.88"/>
<circle cx="1030.2" cy="654.8" r="2.88"/>
<circle cx="1028.3" cy="628.4" r="2.88"/>
<circle cx="1056.4" cy="644.0" r="2.88"/>
<circle cx="1013.3" cy="640.6" r="2.88"/>
<circle cx="1017.1" cy="639.2" r="2.88"/>
<circle cx="1043.3" cy="656.5" r="2.88"/>
<circle cx="1039.5" cy="619.0" r="2.88"/>
<circle cx="1033.9" cy="622.5" r="2.88"/>
<circle cx="1050.7" cy="634.7" r="2.88"/>
<circle cx="1020.8" cy="659.5" r="2.88"/>
<circle cx="1026.4" cy="628.8" r="2.88"/>
<circle cx="1048.9" cy="627.8" r="2.88"/>
<circle cx="1037.6" cy="647.6" r="2.88"/>
<circle cx="1039.5" cy="657.8" r="2.88"/>
<circle cx="1032.0" cy="626.4" r="2.88"/>
<circle cx="1054.5" cy="637.5" r="2.88"/>
<circle cx="1045.1" cy="645.3" r="2.88"/>
<circle cx="1022.7" cy="644.6" r="2.88"/>
<circle cx="1033.9" cy="615.2" r="2.88"/>
<circle cx="1028.3" cy="656.4" r="2.88"/>
<circle cx="1020.8" cy="647.8" r="2.88"/>
<circle cx="1011.5" cy="633.8" r="2.88"/>
<circle cx="1039.5" cy="633.4" r="2.88"/>
<circle cx="1015.2" cy="643.6" r="2.88"/>
<circle cx="1043.3" cy="640.5" r="2.88"/>
<circle cx="1030.2" cy="652.6" r="2.88"/>
<circle cx="1035.8" cy="636.4" r="2.88"/>
<circle cx="1020.8" cy="656.1" r="2.88"/>
<circle cx="1043.3" cy="650.5" r="2.88"/>
<circle cx="1024.6" cy="631.6" r="2.88"/>
<circle cx="1052.6" cy="652.9" r="2.88"/>
<circle cx="1043.3" cy="658.3" r="2.88"/>
<circle cx="1041.4" cy="619.4" r="2.88"/>
<circle cx="1054.5" cy="647.7" r="2.88"/>
<circle cx="1020.8" cy="657.4" r="2.88"/>
<circle cx="1054.5" cy="647.7" r="2.88"/>
<circle cx="1022.7" cy="649.1" r="2.88"/>
<circle cx="1054.5" cy="624.7" r="2.88"/>
<circle cx="1024.6" cy="619.0" r="2.88"/>
<circle cx="1032.0" cy="630.4" r="2.88"/>
<circle cx="1013.3" cy="631.1" r="2.88"/>
<circle cx="1043.3" cy="634.9" r="2.88"/>
<circle cx="1022.7" cy="653.7" r="2.88"/>
<circle cx="1015.2" cy="625.5" r="2.88"/>
<circle cx="1041.4" cy="646.2" r="2.88"/>
<circle cx="1026.4" cy="648.6" r="2.88"/>
<circle cx="1030.2" cy="640.4" r="2.88"/>
<circle cx="1017.1" cy="648.2" r="2.88"/>
<circle cx="1099.4" cy="644.0" r="2.88"/>
<circle cx="1063.8" cy="614.5" r="2.88"/>
<circle cx="1099.4" cy="629.0" r="2.88"/>
<circle cx="1067.6" cy="653.6" r="2.88"/>
<circle cx="1078.8" cy="617.3" r="2.88"/>
<circle cx="1101.2" cy="626.0" r="2.88"/>
<circle cx="1065.7" cy="629.2" r="2.88"/>
<circle cx="1095.6" cy="652.4" r="2.88"/>
<circle cx="1062.0" cy="622.7" r="2.88"/>
<circle cx="1084.4" cy="639.9" r="2.88"/>
<circle cx="1058.2" cy="645.8" r="2.88"/>
<circle cx="1097.5" cy="640.1" r="2.88"/>
<circle cx="1075.1" cy="653.2" r="2.88"/>
<circle cx="1069.4" cy="625.5" r="2.88"/>
<circle cx="1101.2" cy="653.7" r="2.88"/>
<circle cx="1069.4" cy="643.5" r="2.88"/>
<circle cx="1058.2" cy="655.1" r="2.88"/>
<circle cx="1086.3" cy="650.0" r="2.88"/>
<circle cx="1090.0" cy="639.3" r="2.88"/>
<circle cx="1060.1" cy="633.1" r="2.88"/>
<circle cx="1099.4" cy="648.0" r="2.88"/>
<circle cx="1060.1" cy="645.8" r="2.88"/>
<circle cx="1071.3" cy="654.5" r="2.88"/>
<circle cx="1078.8" cy="645.1" r="2.88"/>
<circle cx="1086.3" cy="630.7" r="2.88"/>
<circle cx="1075.1" cy="615.2" r="2.88"/>
<circle cx="1076.9" cy="618.7" r="2.88"/>
<circle cx="1073.2" cy="659.1" r="2.88"/>
<circle cx="1078.8" cy="652.3" r="2.88"/>
<circle cx="1082.5" cy="645.4" r="2.88"/>
<circle cx="1075.1" cy="636.1" r="2.88"/>
<circle cx="1063.8" cy="655.3" r="2.88"/>
<circle cx="1073.2" cy="661.0" r="2.88"/>
<circle cx="508.3" cy="597.6" r="2.88"/>
<circle cx="538.2" cy="597.4" r="2.88"/>
<circle cx="515.8" cy="596.6" r="2.88"/>
<circle cx="504.5" cy="588.7" r="2.88"/>
<circle cx="528.8" cy="574.8" r="2.88"/>
<circle cx="517.6" cy="579.7" r="2.88"/>
<circle cx="517.6" cy="608.3" r="2.88"/>
<circle cx="536.3" cy="573.4" r="2.88"/>
<circle cx="515.8" cy="578.5" r="2.88"/>
<circle cx="575.6" cy="594.1" r="2.88"/>
<circle cx="570.0" cy="598.3" r="2.88"/>
<circle cx="568.1" cy="573.6" r="2.88"/>
<circle cx="547.6" cy="579.9" r="2.88"/>
<circle cx="566.3" cy="600.2" r="2.88"/>
<circle cx="556.9" cy="582.3" r="2.88"/>
<circle cx="543.8" cy="609.0" r="2.88"/>
<circle cx="564.4" cy="595.7" r="2.88"/>
<circle cx="577.5" cy="595.9" r="2.88"/>
<circle cx="555.0" cy="605.8" r="2.88"/>
<circle cx="553.2" cy="580.2" r="2.88"/>
<circle cx="547.6" cy="612.8" r="2.88"/>
<circle cx="629.9" cy="585.8" r="2.88"/>
<circle cx="601.8" cy="572.5" r="2.88"/>
<circle cx="633.6" cy="574.1" r="2.88"/>
<circle cx="633.6" cy="571.9" r="2.88"/>
<circle cx="607.4" cy="611.6" r="2.88"/>
<circle cx="594.3" cy="591.5" r="2.88"/>
<circle cx="616.8" cy="594.7" r="2.88"/>
<circle cx="605.5" cy="586.0" r="2.88"/>
<circle cx="609.3" cy="605.8" r="2.88"/>
<circle cx="620.5" cy="598.4" r="2.88"/>
<circle cx="620.5" cy="601.3" r="2.88"/>
<circle cx="633.6" cy="594.0" r="2.88"/>
<circle cx="620.5" cy="599.0" r="2.88"/>
<circle cx="611.2" cy="599.6" r="2.88"/>
<circle cx="633.6" cy="608.7" r="2.88"/>
<circle cx="592.4" cy="577.5" r="2.88"/>
<circle cx="616.8" cy="601.9" r="2.88"/>
<circle cx="635.5" cy="605.9" r="2.88"/>
<circle cx="611.2" cy="573.3" r="2.88"/>
<circle cx="628.0" cy="596.1" r="2.88"/>
<circle cx="607.4" cy="596.2" r="2.88"/>
<circle cx="665.4" cy="587.2" r="2.88"/>
<circle cx="667.3" cy="596.4" r="2.88"/>
<circle cx="650.4" cy="612.4" r="2.88"/>
<circle cx="654.2" cy="593.2" r="2.88"/>
<circle cx="643.0" cy="610.8" r="2.88"/>
<circle cx="674.8" cy="587.1" r="2.88"/>
<circle cx="680.4" cy="602.7" r="2.88"/>
<circle cx="661.7" cy="598.1" r="2.88"/>
<circle cx="641.1" cy="599.3" r="2.88"/>
<circle cx="667.3" cy="578.4" r="2.88"/>
<circle cx="657.9" cy="574.7" r="2.88"/>
<circle cx="637.3" cy="605.9" r="2.88"/>
<circle cx="656.0" cy="586.6" r="2.88"/>
<circle cx="659.8" cy="610.8" r="2.88"/>
<circle cx="641.1" cy="605.8" r="2.88"/>
<circle cx="678.5" cy="570.5" r="2.88"/>
<circle cx="657.9" cy="603.1" r="2.88"/>
<circle cx="661.7" cy="591.8" r="2.88"/>
<circle cx="656.0" cy="575.0" r="2.88"/>
<circle cx="637.3" cy="578.2" r="2.88"/>
<circle cx="672.9" cy="603.1" r="2.88"/>
<circle cx="659.8" cy="578.4" r="2.88"/>
<circle cx="678.5" cy="584.0" r="2.88"/>
<circle cx="639.2" cy="578.3" r="2.88"/>
<circle cx="676.6" cy="597.8" r="2.88"/>
<circle cx="667.3" cy="579.8" r="2.88"/>
<circle cx="669.1" cy="602.7" r="2.88"/>
<circle cx="671.0" cy="598.5" r="2.88"/>
<circle cx="644.8" cy="599.4" r="2.88"/>
<circle cx="682.2" cy="574.1" r="2.88"/>
<circle cx="665.4" cy="605.3" r="2.88"/>
<circle cx="648.6" cy="605.6" r="2.88"/>
<circle cx="661.7" cy="599.1" r="2.88"/>
<circle cx="665.4" cy="606.1" r="2.88"/>
<circle cx="669.1" cy="602.1" r="2.88"/>
<circle cx="727.1" cy="592.0" r="2.88"/>
<circle cx="717.8" cy="594.3" r="2.88"/>
<circle cx="689.7" cy="574.7" r="2.88"/>
<circle cx="717.8" cy="614.2" r="2.88"/>
<circle cx="684.1" cy="598.7" r="2.88"/>
<circle cx="710.3" cy="575.0" r="2.88"/>
<circle cx="715.9" cy="572.1" r="2.88"/>
<circle cx="717.8" cy="605.6" r="2.88"/>
<circle cx="699.1" cy="584.4" r="2.88"/>
<circle cx="708.4" cy="611.8" r="2.88"/>
<circle cx="717.8" cy="574.9" r="2.88"/>
<circle cx="717.8" cy="576.7" r="2.88"/>
<circle cx="706.6" cy="581.3" r="2.88"/>
<circle cx="693.5" cy="590.8" r="2.88"/>
<circle cx="693.5" cy="581.0" r="2.88"/>
<circle cx="719.6" cy="586.9" r="2.88"/>
<circle cx="689.7" cy="571.9" r="2.88"/>
<circle cx="684.1" cy="571.6" r="2.88"/>
<circle cx="693.5" cy="569.0" r="2.88"/>
<circle cx="689.7" cy="569.2" r="2.88"/>
<circle cx="682.2" cy="600.3" r="2.88"/>
<circle cx="687.8" cy="599.6" r="2.88"/>
<circle cx="708.4" cy="583.2" r="2.88"/>
<circle cx="714.0" cy="591.3" r="2.88"/>
<circle cx="729.0" cy="572.8" r="2.88"/>
<circle cx="697.2" cy="609.6" r="2.88"/>
<circle cx="729.0" cy="603.0" r="2.88"/>
<circle cx="697.2" cy="571.7" r="2.88"/>
<circle cx="697.2" cy="593.3" r="2.88"/>
<circle cx="710.3" cy="611.6" r="2.88"/>
<circle cx="717.8" cy="602.3" r="2.88"/>
<circle cx="721.5" cy="570.0" r="2.88"/>
<circle cx="721.5" cy="585.9" r="2.88"/>
<circle cx="687.8" cy="568.0" r="2.88"/>
<circle cx="697.2" cy="603.7" r="2.88"/>
<circle cx="729.0" cy="580.8" r="2.88"/>
<circle cx="691.6" cy="612.3" r="2.88"/>
<circle cx="691.6" cy="598.8" r="2.88"/>
<circle cx="689.7" cy="578.6" r="2.88"/>
<circle cx="695.3" cy="582.6" r="2.88"/>
<circle cx="699.1" cy="591.5" r="2.88"/>
<circle cx="712.2" cy="568.2" r="2.88"/>
<circle cx="723.4" cy="599.7" r="2.88"/>
<circle cx="700.9" cy="601.8" r="2.88"/>
<circle cx="687.8" cy="603.1" r="2.88"/>
<circle cx="719.6" cy="578.7" r="2.88"/>
<circle cx="684.1" cy="570.8" r="2.88"/>
<circle cx="687.8" cy="574.4" r="2.88"/>
<circle cx="684.1" cy="581.9" r="2.88"/>
<circle cx="689.7" cy="613.2" r="2.88"/>
<circle cx="764.5" cy="577.1" r="2.88"/>
<circle cx="740.2" cy="591.7" r="2.88"/>
<circle cx="738.4" cy="611.3" r="2.88"/>
<circle cx="762.7" cy="601.3" r="2.88"/>
<circle cx="751.4" cy="610.5" r="2.88"/>
<circle cx="740.2" cy="586.8" r="2.88"/>
<circle cx="732.7" cy="570.9" r="2.88"/>
<circle cx="772.0" cy="573.7" r="2.88"/>
<circle cx="755.2" cy="602.1" r="2.88"/>
<circle cx="760.8" cy="610.4" r="2.88"/>
<circle cx="745.8" cy="605.8" r="2.88"/>
<circle cx="751.4" cy="599.7" r="2.88"/>
<circle cx="742.1" cy="596.3" r="2.88"/>
<circle cx="732.7" cy="603.3" r="2.88"/>
<circle cx="751.4" cy="572.5" r="2.88"/>
<circle cx="753.3" cy="598.5" r="2.88"/>
<circle cx="768.3" cy="606.8" r="2.88"/>
<circle cx="760.8" cy="613.5" r="2.88"/>
<circle cx="764.5" cy="582.8" r="2.88"/>
<circle cx="729.0" cy="587.8" r="2.88"/>
<circle cx="770.2" cy="599.5" r="2.88"/>
<circle cx="755.2" cy="585.3" r="2.88"/>
<circle cx="734.6" cy="582.7" r="2.88"/>
<circle cx="745.8" cy="591.2" r="2.88"/>
<circle cx="730.9" cy="586.6" r="2.88"/>
<circle cx="753.3" cy="601.3" r="2.88"/>
<circle cx="742.1" cy="591.5" r="2.88"/>
<circle cx="738.4" cy="577.6" r="2.88"/>
<circle cx="736.5" cy="609.7" r="2.88"/>
<circle cx="730.9" cy="591.0" r="2.88"/>
<circle cx="773.9" cy="604.5" r="2.88"/>
<circle cx="764.5" cy="604.9" r="2.88"/>
<circle cx="755.2" cy="591.6" r="2.88"/>
<circle cx="749.6" cy="580.7" r="2.88"/>
<circle cx="764.5" cy="584.6" r="2.88"/>
<circle cx="768.3" cy="581.3" r="2.88"/>
<circle cx="734.6" cy="585.7" r="2.88"/>
<circle cx="729.0" cy="612.0" r="2.88"/>
<circle cx="745.8" cy="600.3" r="2.88"/>
<circle cx="738.4" cy="583.7" r="2.88"/>
<circle cx="755.2" cy="610.4" r="2.88"/>
<circle cx="772.0" cy="589.3" r="2.88"/>
<circle cx="729.0" cy="612.8" r="2.88"/>
<circle cx="734.6" cy="571.2" r="2.88"/>
<circle cx="773.9" cy="605.6" r="2.88"/>
<circle cx="745.8" cy="588.2" r="2.88"/>
<circle cx="766.4" cy="611.0" r="2.88"/>
<circle cx="768.3" cy="608.6" r="2.88"/>
<circle cx="742.1" cy="594.9" r="2.88"/>
<circle cx="760.8" cy="589.2" r="2.88"/>
<circle cx="744.0" cy="570.3" r="2.88"/>
<circle cx="730.9" cy="603.1" r="2.88"/>
<circle cx="744.0" cy="573.8" r="2.88"/>
<circle cx="740.2" cy="599.6" r="2.88"/>
<circle cx="730.9" cy="589.8" r="2.88"/>
<circle cx="764.5" cy="571.5" r="2.88"/>
<circle cx="753.3" cy="588.9" r="2.88"/>
<circle cx="745.8" cy="597.3" r="2.88"/>
<circle cx="744.0" cy="591.5" r="2.88"/>
<circle cx="736.5" cy="577.2" r="2.88"/>
<circle cx="742.1" cy="569.8" r="2.88"/>
<circle cx="747.7" cy="613.5" r="2.88"/>
<circle cx="757.1" cy="591.0" r="2.88"/>
<circle cx="768.3" cy="598.6" r="2.88"/>
<circle cx="755.2" cy="607.0" r="2.88"/>
<circle cx="740.2" cy="591.0" r="2.88"/>
<circle cx="753.3" cy="599.3" r="2.88"/>
<circle cx="758.9" cy="577.6" r="2.88"/>
<circle cx="777.6" cy="583.9" r="2.88"/>
<circle cx="792.6" cy="610.1" r="2.88"/>
<circle cx="788.9" cy="608.2" r="2.88"/>
<circle cx="781.4" cy="595.0" r="2.88"/>
<circle cx="779.5" cy="571.3" r="2.88"/>
<circle cx="788.9" cy="588.7" r="2.88"/>
<circle cx="803.8" cy="613.0" r="2.88"/>
<circle cx="813.2" cy="576.0" r="2.88"/>
<circle cx="800.1" cy="613.6" r="2.88"/>
<circle cx="796.3" cy="599.3" r="2.88"/>
<circle cx="813.2" cy="592.2" r="2.88"/>
<circle cx="792.6" cy="604.8" r="2.88"/>
<circle cx="792.6" cy="585.5" r="2.88"/>
<circle cx="783.2" cy="592.5" r="2.88"/>
<circle cx="816.9" cy="586.1" r="2.88"/>
<circle cx="790.7" cy="607.1" r="2.88"/>
<circle cx="785.1" cy="575.5" r="2.88"/>
<circle cx="798.2" cy="569.8" r="2.88"/>
<circle cx="785.1" cy="604.9" r="2.88"/>
<circle cx="783.2" cy="602.1" r="2.88"/>
<circle cx="788.9" cy="568.7" r="2.88"/>
<circle cx="818.8" cy="603.8" r="2.88"/>
<circle cx="818.8" cy="604.9" r="2.88"/>
<circle cx="815.0" cy="588.1" r="2.88"/>
<circle cx="807.6" cy="588.5" r="2.88"/>
<circle cx="779.5" cy="572.7" r="2.88"/>
<circle cx="790.7" cy="585.4" r="2.88"/>
<circle cx="802.0" cy="583.9" r="2.88"/>
<circle cx="779.5" cy="591.8" r="2.88"/>
<circle cx="800.1" cy="586.9" r="2.88"/>
<circle cx="783.2" cy="575.3" r="2.88"/>
<circle cx="792.6" cy="571.2" r="2.88"/>
<circle cx="822.5" cy="589.3" r="2.88"/>
<circle cx="820.7" cy="587.8" r="2.88"/>
<circle cx="790.7" cy="598.9" r="2.88"/>
<circle cx="792.6" cy="592.4" r="2.88"/>
<circle cx="815.0" cy="610.4" r="2.88"/>
<circle cx="792.6" cy="591.5" r="2.88"/>
<circle cx="787.0" cy="609.0" r="2.88"/>
<circle cx="783.2" cy="600.3" r="2.88"/>
<circle cx="831.9" cy="575.7" r="2.88"/>
<circle cx="828.1" cy="580.4" r="2.88"/>
<circle cx="850.6" cy="568.8" r="2.88"/>
<circle cx="835.6" cy="612.0" r="2.88"/>
<circle cx="837.5" cy="608.1" r="2.88"/>
<circle cx="846.8" cy="587.7" r="2.88"/>
<circle cx="861.8" cy="606.6" r="2.88"/>
<circle cx="824.4" cy="605.7" r="2.88"/>
<circle cx="856.2" cy="576.3" r="2.88"/>
<circle cx="824.4" cy="589.7" r="2.88"/>
<circle cx="831.9" cy="574.6" r="2.88"/>
<circle cx="833.8" cy="604.8" r="2.88"/>
<circle cx="830.0" cy="582.0" r="2.88"/>
<circle cx="833.8" cy="605.6" r="2.88"/>
<circle cx="826.3" cy="583.4" r="2.88"/>
<circle cx="848.7" cy="584.2" r="2.88"/>
<circle cx="828.1" cy="577.4" r="2.88"/>
<circle cx="833.8" cy="589.7" r="2.88"/>
<circle cx="852.5" cy="585.1" r="2.88"/>
<circle cx="826.3" cy="605.0" r="2.88"/>
<circle cx="837.5" cy="585.8" r="2.88"/>
<circle cx="841.2" cy="604.4" r="2.88"/>
<circle cx="835.6" cy="606.3" r="2.88"/>
<circle cx="863.7" cy="598.7" r="2.88"/>
<circle cx="856.2" cy="584.9" r="2.88"/>
<circle cx="852.5" cy="610.5" r="2.88"/>
<circle cx="867.4" cy="582.4" r="2.88"/>
<circle cx="850.6" cy="597.2" r="2.88"/>
<circle cx="839.4" cy="586.8" r="2.88"/>
<circle cx="841.2" cy="614.4" r="2.88"/>
<circle cx="901.1" cy="596.2" r="2.88"/>
<circle cx="906.7" cy="581.2" r="2.88"/>
<circle cx="899.2" cy="577.9" r="2.88"/>
<circle cx="910.4" cy="584.5" r="2.88"/>
<circle cx="884.3" cy="585.1" r="2.88"/>
<circle cx="906.7" cy="589.0" r="2.88"/>
<circle cx="895.5" cy="599.0" r="2.88"/>
<circle cx="874.9" cy="592.0" r="2.88"/>
<circle cx="897.4" cy="609.7" r="2.88"/>
<circle cx="869.3" cy="578.0" r="2.88"/>
<circle cx="904.8" cy="589.6" r="2.88"/>
<circle cx="884.3" cy="609.4" r="2.88"/>
<circle cx="893.6" cy="611.9" r="2.88"/>
<circle cx="899.2" cy="603.6" r="2.88"/>
<circle cx="916.1" cy="611.0" r="2.88"/>
<circle cx="874.9" cy="602.4" r="2.88"/>
<circle cx="912.3" cy="580.0" r="2.88"/>
<circle cx="903.0" cy="596.0" r="2.88"/>
<circle cx="884.3" cy="606.5" r="2.88"/>
<circle cx="904.8" cy="574.7" r="2.88"/>
<circle cx="899.2" cy="574.5" r="2.88"/>
<circle cx="869.3" cy="571.7" r="2.88"/>
<circle cx="882.4" cy="588.0" r="2.88"/>
<circle cx="914.2" cy="574.5" r="2.88"/>
<circle cx="895.5" cy="574.7" r="2.88"/>
<circle cx="882.4" cy="582.1" r="2.88"/>
<circle cx="895.5" cy="579.4" r="2.88"/>
<circle cx="904.8" cy="582.4" r="2.88"/>
<circle cx="904.8" cy="595.8" r="2.88"/>
<circle cx="897.4" cy="570.9" r="2.88"/>
<circle cx="882.4" cy="569.0" r="2.88"/>
<circle cx="904.8" cy="580.2" r="2.88"/>
<circle cx="897.4" cy="586.3" r="2.88"/>
<circle cx="880.5" cy="593.4" r="2.88"/>
<circle cx="906.7" cy="600.3" r="2.88"/>
<circle cx="953.5" cy="597.5" r="2.88"/>
<circle cx="932.9" cy="585.3" r="2.88"/>
<circle cx="951.6" cy="609.3" r="2.88"/>
<circle cx="955.3" cy="605.7" r="2.88"/>
<circle cx="940.4" cy="612.5" r="2.88"/>
<circle cx="919.8" cy="579.8" r="2.88"/>
<circle cx="925.4" cy="609.9" r="2.88"/>
<circle cx="940.4" cy="587.9" r="2.88"/>
<circle cx="947.9" cy="578.6" r="2.88"/>
<circle cx="927.3" cy="600.6" r="2.88"/>
<circle cx="955.3" cy="610.1" r="2.88"/>
<circle cx="957.2" cy="570.1" r="2.88"/>
<circle cx="921.7" cy="598.6" r="2.88"/>
<circle cx="957.2" cy="592.8" r="2.88"/>
<circle cx="934.8" cy="587.1" r="2.88"/>
<circle cx="942.2" cy="572.6" r="2.88"/>
<circle cx="921.7" cy="584.3" r="2.88"/>
<circle cx="938.5" cy="592.2" r="2.88"/>
<circle cx="931.0" cy="601.5" r="2.88"/>
<circle cx="921.7" cy="572.7" r="2.88"/>
<circle cx="942.2" cy="602.0" r="2.88"/>
<circle cx="919.8" cy="573.0" r="2.88"/>
<circle cx="938.5" cy="577.5" r="2.88"/>
<circle cx="946.0" cy="586.7" r="2.88"/>
<circle cx="955.3" cy="574.9" r="2.88"/>
<circle cx="929.2" cy="583.7" r="2.88"/>
<circle cx="955.3" cy="592.4" r="2.88"/>
<circle cx="936.6" cy="584.5" r="2.88"/>
<circle cx="957.2" cy="612.4" r="2.88"/>
<circle cx="929.2" cy="591.4" r="2.88"/>
<circle cx="923.5" cy="610.6" r="2.88"/>
<circle cx="946.0" cy="613.8" r="2.88"/>
<circle cx="923.5" cy="609.7" r="2.88"/>
<circle cx="961.0" cy="591.5" r="2.88"/>
<circle cx="947.9" cy="596.3" r="2.88"/>
<circle cx="961.0" cy="606.6" r="2.88"/>
<circle cx="953.5" cy="599.2" r="2.88"/>
<circle cx="946.0" cy="572.4" r="2.88"/>
<circle cx="925.4" cy="613.5" r="2.88"/>
<circle cx="938.5" cy="608.5" r="2.88"/>
<circle cx="929.2" cy="568.6" r="2.88"/>
<circle cx="919.8" cy="596.2" r="2.88"/>
<circle cx="927.3" cy="578.0" r="2.88"/>
<circle cx="934.8" cy="607.6" r="2.88"/>
<circle cx="932.9" cy="611.3" r="2.88"/>
<circle cx="925.4" cy="584.9" r="2.88"/>
<circle cx="946.0" cy="584.5" r="2.88"/>
<circle cx="923.5" cy="601.5" r="2.88"/>
<circle cx="929.2" cy="594.8" r="2.88"/>
<circle cx="961.0" cy="611.7" r="2.88"/>
<circle cx="1002.1" cy="593.2" r="2.88"/>
<circle cx="994.6" cy="582.1" r="2.88"/>
<circle cx="1005.8" cy="570.1" r="2.88"/>
<circle cx="977.8" cy="598.7" r="2.88"/>
<circle cx="981.5" cy="573.0" r="2.88"/>
<circle cx="1004.0" cy="613.8" r="2.88"/>
<circle cx="1002.1" cy="578.5" r="2.88"/>
<circle cx="994.6" cy="605.9" r="2.88"/>
<circle cx="1009.6" cy="607.1" r="2.88"/>
<circle cx="1002.1" cy="598.1" r="2.88"/>
<circle cx="1002.1" cy="606.3" r="2.88"/>
<circle cx="1000.2" cy="578.5" r="2.88"/>
<circle cx="968.4" cy="610.1" r="2.88"/>
<circle cx="985.3" cy="601.6" r="2.88"/>
<circle cx="998.4" cy="591.7" r="2.88"/>
<circle cx="1005.8" cy="585.4" r="2.88"/>
<circle cx="1005.8" cy="575.5" r="2.88"/>
<circle cx="987.1" cy="589.5" r="2.88"/>
<circle cx="1004.0" cy="607.6" r="2.88"/>
<circle cx="964.7" cy="598.8" r="2.88"/>
<circle cx="1000.2" cy="590.5" r="2.88"/>
<circle cx="994.6" cy="613.1" r="2.88"/>
<circle cx="962.8" cy="573.8" r="2.88"/>
<circle cx="964.7" cy="568.5" r="2.88"/>
<circle cx="985.3" cy="577.7" r="2.88"/>
<circle cx="1005.8" cy="574.6" r="2.88"/>
<circle cx="966.6" cy="592.4" r="2.88"/>
<circle cx="992.8" cy="575.6" r="2.88"/>
<circle cx="1007.7" cy="611.2" r="2.88"/>
<circle cx="966.6" cy="601.0" r="2.88"/>
<circle cx="985.3" cy="593.3" r="2.88"/>
<circle cx="974.0" cy="568.9" r="2.88"/>
<circle cx="962.8" cy="613.8" r="2.88"/>
<circle cx="979.7" cy="573.2" r="2.88"/>
<circle cx="994.6" cy="604.5" r="2.88"/>
<circle cx="977.8" cy="574.0" r="2.88"/>
<circle cx="979.7" cy="570.2" r="2.88"/>
<circle cx="979.7" cy="576.4" r="2.88"/>
<circle cx="996.5" cy="590.5" r="2.88"/>
<circle cx="990.9" cy="609.2" r="2.88"/>
<circle cx="977.8" cy="599.9" r="2.88"/>
<circle cx="998.4" cy="600.5" r="2.88"/>
<circle cx="966.6" cy="580.8" r="2.88"/>
<circle cx="983.4" cy="602.7" r="2.88"/>
<circle cx="975.9" cy="593.4" r="2.88"/>
<circle cx="992.8" cy="598.0" r="2.88"/>
<circle cx="1004.0" cy="594.3" r="2.88"/>
<circle cx="992.8" cy="606.8" r="2.88"/>
<circle cx="994.6" cy="596.9" r="2.88"/>
<circle cx="972.2" cy="572.0" r="2.88"/>
<circle cx="1054.5" cy="597.2" r="2.88"/>
<circle cx="1037.6" cy="590.6" r="2.88"/>
<circle cx="1052.6" cy="569.1" r="2.88"/>
<circle cx="1047.0" cy="569.4" r="2.88"/>
<circle cx="1011.5" cy="580.0" r="2.88"/>
<circle cx="1011.5" cy="586.8" r="2.88"/>
<circle cx="1033.9" cy="584.3" r="2.88"/>
<circle cx="1028.3" cy="572.1" r="2.88"/>
<circle cx="1020.8" cy="585.4" r="2.88"/>
<circle cx="1047.0" cy="607.9" r="2.88"/>
<circle cx="1047.0" cy="588.3" r="2.88"/>
<circle cx="1022.7" cy="587.6" r="2.88"/>
<circle cx="1032.0" cy="572.4" r="2.88"/>
<circle cx="1011.5" cy="578.0" r="2.88"/>
<circle cx="1039.5" cy="573.8" r="2.88"/>
<circle cx="1015.2" cy="611.2" r="2.88"/>
<circle cx="1022.7" cy="579.8" r="2.88"/>
<circle cx="1052.6" cy="605.9" r="2.88"/>
<circle cx="1018.9" cy="595.2" r="2.88"/>
<circle cx="1009.6" cy="572.6" r="2.88"/>
<circle cx="1052.6" cy="573.1" r="2.88"/>
<circle cx="1047.0" cy="614.2" r="2.88"/>
<circle cx="1022.7" cy="576.3" r="2.88"/>
<circle cx="1035.8" cy="606.9" r="2.88"/>
<circle cx="1028.3" cy="596.4" r="2.88"/>
<circle cx="1050.7" cy="609.2" r="2.88"/>
<circle cx="1052.6" cy="575.1" r="2.88"/>
<circle cx="1032.0" cy="605.4" r="2.88"/>
<circle cx="1048.9" cy="582.7" r="2.88"/>
<circle cx="1018.9" cy="594.7" r="2.88"/>
<circle cx="1033.9" cy="579.3" r="2.88"/>
<circle cx="1026.4" cy="608.0" r="2.88"/>
<circle cx="1011.5" cy="589.5" r="2.88"/>
<circle cx="1035.8" cy="592.3" r="2.88"/>
<circle cx="1024.6" cy="602.6" r="2.88"/>
<circle cx="1013.3" cy="584.5" r="2.88"/>
<circle cx="1024.6" cy="608.9" r="2.88"/>
<circle cx="1018.9" cy="611.6" r="2.88"/>
<circle cx="1011.5" cy="579.8" r="2.88"/>
<circle cx="1013.3" cy="596.7" r="2.88"/>
<circle cx="1101.2" cy="589.5" r="2.88"/>
<circle cx="1060.1" cy="614.3" r="2.88"/>
<circle cx="1063.8" cy="606.2" r="2.88"/>
<circle cx="1084.4" cy="576.5" r="2.88"/>
<circle cx="1067.6" cy="593.7" r="2.88"/>
<circle cx="1065.7" cy="573.7" r="2.88"/>
<circle cx="1095.6" cy="576.3" r="2.88"/>
<circle cx="1084.4" cy="607.5" r="2.88"/>
<circle cx="1084.4" cy="598.9" r="2.88"/>
<circle cx="1095.6" cy="571.8" r="2.88"/>
<circle cx="1058.2" cy="610.5" r="2.88"/>
<circle cx="1099.4" cy="571.8" r="2.88"/>
<circle cx="1082.5" cy="580.4" r="2.88"/>
<circle cx="1091.9" cy="596.9" r="2.88"/>
<circle cx="1058.2" cy="579.4" r="2.88"/>
<circle cx="1058.2" cy="611.1" r="2.88"/>
<circle cx="1075.1" cy="597.0" r="2.88"/>
<circle cx="1062.0" cy="611.6" r="2.88"/>
<circle cx="1097.5" cy="598.9" r="2.88"/>
<circle cx="510.1" cy="534.2" r="2.88"/>
<circle cx="506.4" cy="567.2" r="2.88"/>
<circle cx="527.0" cy="531.5" r="2.88"/>
<circle cx="530.7" cy="561.2" r="2.88"/>
<circle cx="538.2" cy="523.8" r="2.88"/>
<circle cx="510.1" cy="553.9" r="2.88"/>
<circle cx="523.2" cy="547.9" r="2.88"/>
<circle cx="508.3" cy="524.7" r="2.88"/>
<circle cx="558.8" cy="562.0" r="2.88"/>
<circle cx="588.7" cy="541.8" r="2.88"/>
<circle cx="560.6" cy="535.3" r="2.88"/>
<circle cx="545.7" cy="522.4" r="2.88"/>
<circle cx="577.5" cy="552.0" r="2.88"/>
<circle cx="543.8" cy="526.0" r="2.88"/>
<circle cx="570.0" cy="531.1" r="2.88"/>
<circle cx="585.0" cy="562.9" r="2.88"/>
<circle cx="573.7" cy="538.7" r="2.88"/>
<circle cx="555.0" cy="547.4" r="2.88"/>
<circle cx="541.9" cy="551.0" r="2.88"/>
<circle cx="553.2" cy="550.7" r="2.88"/>
<circle cx="573.7" cy="555.0" r="2.88"/>
<circle cx="575.6" cy="536.8" r="2.88"/>
<circle cx="577.5" cy="566.1" r="2.88"/>
<circle cx="618.6" cy="537.1" r="2.88"/>
<circle cx="633.6" cy="556.2" r="2.88"/>
<circle cx="594.3" cy="541.9" r="2.88"/>
<circle cx="607.4" cy="554.2" r="2.88"/>
<circle cx="618.6" cy="559.2" r="2.88"/>
<circle cx="628.0" cy="553.4" r="2.88"/>
<circle cx="626.1" cy="549.1" r="2.88"/>
<circle cx="628.0" cy="528.5" r="2.88"/>
<circle cx="618.6" cy="536.4" r="2.88"/>
<circle cx="592.4" cy="529.6" r="2.88"/>
<circle cx="590.6" cy="525.6" r="2.88"/>
<circle cx="618.6" cy="530.4" r="2.88"/>
<circle cx="620.5" cy="528.5" r="2.88"/>
<circle cx="626.1" cy="567.9" r="2.88"/>
<circle cx="637.3" cy="529.4" r="2.88"/>
<circle cx="682.2" cy="543.7" r="2.88"/>
<circle cx="657.9" cy="548.2" r="2.88"/>
<circle cx="643.0" cy="547.9" r="2.88"/>
<circle cx="671.0" cy="548.2" r="2.88"/>
<circle cx="676.6" cy="525.8" r="2.88"/>
<circle cx="663.5" cy="557.6" r="2.88"/>
<circle cx="665.4" cy="546.0" r="2.88"/>
<circle cx="676.6" cy="564.0" r="2.88"/>
<circle cx="680.4" cy="549.5" r="2.88"/>
<circle cx="657.9" cy="560.7" r="2.88"/>
<circle cx="654.2" cy="525.4" r="2.88"/>
<circle cx="663.5" cy="533.3" r="2.88"/>
<circle cx="676.6" cy="540.0" r="2.88"/>
<circle cx="682.2" cy="536.7" r="2.88"/>
<circle cx="669.1" cy="565.3" r="2.88"/>
<circle cx="635.5" cy="534.0" r="2.88"/>
<circle cx="693.5" cy="567.9" r="2.88"/>
<circle cx="723.4" cy="558.0" r="2.88"/>
<circle cx="686.0" cy="544.2" r="2.88"/>
<circle cx="725.3" cy="559.9" r="2.88"/>
<circle cx="710.3" cy="525.1" r="2.88"/>
<circle cx="702.8" cy="555.3" r="2.88"/>
<circle cx="723.4" cy="540.0" r="2.88"/>
<circle cx="684.1" cy="556.7" r="2.88"/>
<circle cx="682.2" cy="543.7" r="2.88"/>
<circle cx="719.6" cy="556.0" r="2.88"/>
<circle cx="729.0" cy="535.1" r="2.88"/>
<circle cx="714.0" cy="558.3" r="2.88"/>
<circle cx="689.7" cy="553.7" r="2.88"/>
<circle cx="699.1" cy="526.5" r="2.88"/>
<circle cx="697.2" cy="539.9" r="2.88"/>
<circle cx="721.5" cy="560.4" r="2.88"/>
<circle cx="687.8" cy="551.4" r="2.88"/>
<circle cx="710.3" cy="566.9" r="2.88"/>
<circle cx="686.0" cy="525.0" r="2.88"/>
<circle cx="689.7" cy="541.4" r="2.88"/>
<circle cx="689.7" cy="526.0" r="2.88"/>
<circle cx="727.1" cy="542.4" r="2.88"/>
<circle cx="725.3" cy="539.0" r="2.88"/>
<circle cx="719.6" cy="539.5" r="2.88"/>
<circle cx="697.2" cy="547.2" r="2.88"/>
<circle cx="700.9" cy="551.6" r="2.88"/>
<circle cx="719.6" cy="556.0" r="2.88"/>
<circle cx="717.8" cy="541.5" r="2.88"/>
<circle cx="721.5" cy="530.2" r="2.88"/>
<circle cx="704.7" cy="554.2" r="2.88"/>
<circle cx="715.9" cy="536.0" r="2.88"/>
<circle cx="697.2" cy="551.2" r="2.88"/>
<circle cx="687.8" cy="533.9" r="2.88"/>
<circle cx="712.2" cy="533.2" r="2.88"/>
<circle cx="682.2" cy="562.4" r="2.88"/>
<circle cx="712.2" cy="538.6" r="2.88"/>
<circle cx="697.2" cy="523.7" r="2.88"/>
<circle cx="702.8" cy="524.1" r="2.88"/>
<circle cx="710.3" cy="524.0" r="2.88"/>
<circle cx="725.3" cy="554.4" r="2.88"/>
<circle cx="714.0" cy="564.1" r="2.88"/>
<circle cx="715.9" cy="557.3" r="2.88"/>
<circle cx="700.9" cy="523.2" r="2.88"/>
<circle cx="706.6" cy="536.1" r="2.88"/>
<circle cx="702.8" cy="540.5" r="2.88"/>
<circle cx="730.9" cy="534.4" r="2.88"/>
<circle cx="744.0" cy="557.0" r="2.88"/>
<circle cx="760.8" cy="549.4" r="2.88"/>
<circle cx="751.4" cy="534.4" r="2.88"/>
<circle cx="730.9" cy="552.2" r="2.88"/>
<circle cx="745.8" cy="567.0" r="2.88"/>
<circle cx="762.7" cy="562.7" r="2.88"/>
<circle cx="736.5" cy="526.4" r="2.88"/>
<circle cx="762.7" cy="526.1" r="2.88"/>
<circle cx="757.1" cy="540.7" r="2.88"/>
<circle cx="738.4" cy="567.6" r="2.88"/>
<circle cx="768.3" cy="547.7" r="2.88"/>
<circle cx="760.8" cy="557.9" r="2.88"/>
<circle cx="768.3" cy="562.2" r="2.88"/>
<circle cx="760.8" cy="532.1" r="2.88"/>
<circle cx="747.7" cy="525.8" r="2.88"/>
<circle cx="747.7" cy="549.1" r="2.88"/>
<circle cx="757.1" cy="544.7" r="2.88"/>
<circle cx="764.5" cy="529.8" r="2.88"/>
<circle cx="736.5" cy="567.2" r="2.88"/>
<circle cx="740.2" cy="528.0" r="2.88"/>
<circle cx="747.7" cy="522.9" r="2.88"/>
<circle cx="732.7" cy="524.3" r="2.88"/>
<circle cx="762.7" cy="540.2" r="2.88"/>
<circle cx="740.2" cy="526.3" r="2.88"/>
<circle cx="744.0" cy="547.7" r="2.88"/>
<circle cx="760.8" cy="555.3" r="2.88"/>
<circle cx="745.8" cy="548.6" r="2.88"/>
<circle cx="734.6" cy="564.3" r="2.88"/>
<circle cx="732.7" cy="562.4" r="2.88"/>
<circle cx="751.4" cy="543.3" r="2.88"/>
<circle cx="768.3" cy="540.4" r="2.88"/>
<circle cx="745.8" cy="564.5" r="2.88"/>
<circle cx="758.9" cy="539.3" r="2.88"/>
<circle cx="758.9" cy="560.0" r="2.88"/>
<circle cx="732.7" cy="557.1" r="2.88"/>
<circle cx="744.0" cy="546.4" r="2.88"/>
<circle cx="762.7" cy="538.8" r="2.88"/>
<circle cx="738.4" cy="542.8" r="2.88"/>
<circle cx="753.3" cy="522.6" r="2.88"/>
<circle cx="764.5" cy="538.1" r="2.88"/>
<circle cx="764.5" cy="544.0" r="2.88"/>
<circle cx="740.2" cy="530.6" r="2.88"/>
<circle cx="757.1" cy="552.3" r="2.88"/>
<circle cx="760.8" cy="548.1" r="2.88"/>
<circle cx="730.9" cy="537.2" r="2.88"/>
<circle cx="757.1" cy="562.9" r="2.88"/>
<circle cx="744.0" cy="554.4" r="2.88"/>
<circle cx="770.2" cy="523.6" r="2.88"/>
<circle cx="755.2" cy="558.4" r="2.88"/>
<circle cx="753.3" cy="528.8" r="2.88"/>
<circle cx="738.4" cy="566.2" r="2.88"/>
<circle cx="740.2" cy="555.1" r="2.88"/>
<circle cx="730.9" cy="550.8" r="2.88"/>
<circle cx="738.4" cy="559.0" r="2.88"/>
<circle cx="753.3" cy="531.1" r="2.88"/>
<circle cx="730.9" cy="557.0" r="2.88"/>
<circle cx="773.9" cy="547.5" r="2.88"/>
<circle cx="751.4" cy="565.3" r="2.88"/>
<circle cx="766.4" cy="543.9" r="2.88"/>
<circle cx="744.0" cy="541.6" r="2.88"/>
<circle cx="738.4" cy="544.7" r="2.88"/>
<circle cx="770.2" cy="539.8" r="2.88"/>
<circle cx="762.7" cy="552.4" r="2.88"/>
<circle cx="751.4" cy="534.3" r="2.88"/>
<circle cx="772.0" cy="536.6" r="2.88"/>
<circle cx="729.0" cy="553.7" r="2.88"/>
<circle cx="747.7" cy="556.5" r="2.88"/>
<circle cx="788.9" cy="562.3" r="2.88"/>
<circle cx="779.5" cy="534.6" r="2.88"/>
<circle cx="777.6" cy="556.9" r="2.88"/>
<circle cx="777.6" cy="527.2" r="2.88"/>
<circle cx="816.9" cy="536.0" r="2.88"/>
<circle cx="796.3" cy="566.0" r="2.88"/>
<circle cx="794.5" cy="562.2" r="2.88"/>
<circle cx="794.5" cy="536.9" r="2.88"/>
<circle cx="790.7" cy="539.2" r="2.88"/>
<circle cx="790.7" cy="524.4" r="2.88"/>
<circle cx="813.2" cy="557.1" r="2.88"/>
<circle cx="779.5" cy="564.7" r="2.88"/>
<circle cx="811.3" cy="532.9" r="2.88"/>
<circle cx="813.2" cy="548.2" r="2.88"/>
<circle cx="807.6" cy="525.7" r="2.88"/>
<circle cx="787.0" cy="553.2" r="2.88"/>
<circle cx="775.8" cy="565.5" r="2.88"/>
<circle cx="792.6" cy="566.9" r="2.88"/>
<circle cx="792.6" cy="527.0" r="2.88"/>
<circle cx="807.6" cy="556.5" r="2.88"/>
<circle cx="787.0" cy="564.4" r="2.88"/>
<circle cx="783.2" cy="566.7" r="2.88"/>
<circle cx="779.5" cy="536.4" r="2.88"/>
<circle cx="811.3" cy="550.1" r="2.88"/>
<circle cx="809.4" cy="540.0" r="2.88"/>
<circle cx="820.7" cy="544.1" r="2.88"/>
<circle cx="781.4" cy="554.8" r="2.88"/>
<circle cx="822.5" cy="541.5" r="2.88"/>
<circle cx="815.0" cy="551.6" r="2.88"/>
<circle cx="792.6" cy="535.9" r="2.88"/>
<circle cx="781.4" cy="556.3" r="2.88"/>
<circle cx="790.7" cy="549.9" r="2.88"/>
<circle cx="813.2" cy="560.4" r="2.88"/>
<circle cx="794.5" cy="559.8" r="2.88"/>
<circle cx="815.0" cy="557.9" r="2.88"/>
<circle cx="852.5" cy="536.0" r="2.88"/>
<circle cx="867.4" cy="532.9" r="2.88"/>
<circle cx="841.2" cy="556.8" r="2.88"/>
<circle cx="831.9" cy="541.2" r="2.88"/>
<circle cx="835.6" cy="530.5" r="2.88"/>
<circle cx="863.7" cy="527.3" r="2.88"/>
<circle cx="861.8" cy="530.4" r="2.88"/>
<circle cx="822.5" cy="556.1" r="2.88"/>
<circle cx="867.4" cy="550.9" r="2.88"/>
<circle cx="830.0" cy="540.3" r="2.88"/>
<circle cx="848.7" cy="545.4" r="2.88"/>
<circle cx="833.8" cy="528.6" r="2.88"/>
<circle cx="839.4" cy="546.4" r="2.88"/>
<circle cx="850.6" cy="550.9" r="2.88"/>
<circle cx="830.0" cy="538.3" r="2.88"/>
<circle cx="863.7" cy="533.0" r="2.88"/>
<circle cx="826.3" cy="537.2" r="2.88"/>
<circle cx="856.2" cy="528.5" r="2.88"/>
<circle cx="869.3" cy="522.5" r="2.88"/>
<circle cx="854.3" cy="538.1" r="2.88"/>
<circle cx="845.0" cy="522.0" r="2.88"/>
<circle cx="841.2" cy="563.9" r="2.88"/>
<circle cx="863.7" cy="540.1" r="2.88"/>
<circle cx="824.4" cy="561.2" r="2.88"/>
<circle cx="835.6" cy="550.9" r="2.88"/>
<circle cx="826.3" cy="535.0" r="2.88"/>
<circle cx="843.1" cy="531.1" r="2.88"/>
<circle cx="822.5" cy="524.2" r="2.88"/>
<circle cx="828.1" cy="526.7" r="2.88"/>
<circle cx="833.8" cy="558.2" r="2.88"/>
<circle cx="882.4" cy="536.0" r="2.88"/>
<circle cx="912.3" cy="540.6" r="2.88"/>
<circle cx="886.1" cy="521.9" r="2.88"/>
<circle cx="884.3" cy="558.0" r="2.88"/>
<circle cx="912.3" cy="523.0" r="2.88"/>
<circle cx="886.1" cy="528.8" r="2.88"/>
<circle cx="891.7" cy="540.6" r="2.88"/>
<circle cx="904.8" cy="556.6" r="2.88"/>
<circle cx="876.8" cy="551.5" r="2.88"/>
<circle cx="906.7" cy="540.5" r="2.88"/>
<circle cx="914.2" cy="567.6" r="2.88"/>
<circle cx="904.8" cy="558.6" r="2.88"/>
<circle cx="888.0" cy="563.0" r="2.88"/>
<circle cx="882.4" cy="536.1" r="2.88"/>
<circle cx="871.2" cy="531.3" r="2.88"/>
<circle cx="893.6" cy="537.4" r="2.88"/>
<circle cx="878.6" cy="530.6" r="2.88"/>
<circle cx="903.0" cy="541.3" r="2.88"/>
<circle cx="914.2" cy="553.1" r="2.88"/>
<circle cx="884.3" cy="553.9" r="2.88"/>
<circle cx="903.0" cy="543.5" r="2.88"/>
<circle cx="876.8" cy="541.0" r="2.88"/>
<circle cx="873.0" cy="547.0" r="2.88"/>
<circle cx="880.5" cy="556.4" r="2.88"/>
<circle cx="914.2" cy="558.8" r="2.88"/>
<circle cx="912.3" cy="535.3" r="2.88"/>
<circle cx="912.3" cy="530.5" r="2.88"/>
<circle cx="882.4" cy="533.0" r="2.88"/>
<circle cx="878.6" cy="534.9" r="2.88"/>
<circle cx="910.4" cy="567.6" r="2.88"/>
<circle cx="961.0" cy="549.3" r="2.88"/>
<circle cx="923.5" cy="537.1" r="2.88"/>
<circle cx="942.2" cy="546.6" r="2.88"/>
<circle cx="962.8" cy="536.4" r="2.88"/>
<circle cx="932.9" cy="553.3" r="2.88"/>
<circle cx="934.8" cy="563.3" r="2.88"/>
<circle cx="946.0" cy="564.8" r="2.88"/>
<circle cx="919.8" cy="546.2" r="2.88"/>
<circle cx="936.6" cy="533.5" r="2.88"/>
<circle cx="946.0" cy="565.1" r="2.88"/>
<circle cx="957.2" cy="552.2" r="2.88"/>
<circle cx="919.8" cy="535.4" r="2.88"/>
<circle cx="959.1" cy="565.8" r="2.88"/>
<circle cx="919.8" cy="533.1" r="2.88"/>
<circle cx="917.9" cy="535.1" r="2.88"/>
<circle cx="919.8" cy="552.8" r="2.88"/>
<circle cx="938.5" cy="530.1" r="2.88"/>
<circle cx="951.6" cy="526.5" r="2.88"/>
<circle cx="949.7" cy="526.0" r="2.88"/>
<circle cx="925.4" cy="554.9" r="2.88"/>
<circle cx="944.1" cy="555.2" r="2.88"/>
<circle cx="949.7" cy="548.2" r="2.88"/>
<circle cx="955.3" cy="535.5" r="2.88"/>
<circle cx="921.7" cy="560.8" r="2.88"/>
<circle cx="917.9" cy="553.3" r="2.88"/>
<circle cx="921.7" cy="537.2" r="2.88"/>
<circle cx="923.5" cy="556.9" r="2.88"/>
<circle cx="923.5" cy="555.2" r="2.88"/>
<circle cx="957.2" cy="527.9" r="2.88"/>
<circle cx="957.2" cy="547.6" r="2.88"/>
<circle cx="925.4" cy="536.3" r="2.88"/>
<circle cx="942.2" cy="564.7" r="2.88"/>
<circle cx="942.2" cy="553.7" r="2.88"/>
<circle cx="940.4" cy="560.3" r="2.88"/>
<circle cx="923.5" cy="555.4" r="2.88"/>
<circle cx="946.0" cy="561.7" r="2.88"/>
<circle cx="940.4" cy="566.4" r="2.88"/>
<circle cx="946.0" cy="537.9" r="2.88"/>
<circle cx="932.9" cy="550.7" r="2.88"/>
<circle cx="938.5" cy="523.9" r="2.88"/>
<circle cx="974.0" cy="547.7" r="2.88"/>
<circle cx="996.5" cy="553.0" r="2.88"/>
<circle cx="962.8" cy="545.5" r="2.88"/>
<circle cx="977.8" cy="528.5" r="2.88"/>
<circle cx="1005.8" cy="526.8" r="2.88"/>
<circle cx="974.0" cy="555.9" r="2.88"/>
<circle cx="1000.2" cy="535.7" r="2.88"/>
<circle cx="1000.2" cy="525.4" r="2.88"/>
<circle cx="987.1" cy="544.7" r="2.88"/>
<circle cx="1000.2" cy="548.9" r="2.88"/>
<circle cx="970.3" cy="525.5" r="2.88"/>
<circle cx="964.7" cy="531.3" r="2.88"/>
<circle cx="985.3" cy="541.5" r="2.88"/>
<circle cx="983.4" cy="526.9" r="2.88"/>
<circle cx="1000.2" cy="542.2" r="2.88"/>
<circle cx="1005.8" cy="538.5" r="2.88"/>
<circle cx="987.1" cy="524.2" r="2.88"/>
<circle cx="985.3" cy="557.1" r="2.88"/>
<circle cx="966.6" cy="530.1" r="2.88"/>
<circle cx="1000.2" cy="561.8" r="2.88"/>
<circle cx="989.0" cy="546.1" r="2.88"/>
<circle cx="964.7" cy="535.3" r="2.88"/>
<circle cx="977.8" cy="530.3" r="2.88"/>
<circle cx="983.4" cy="556.6" r="2.88"/>
<circle cx="1000.2" cy="530.1" r="2.88"/>
<circle cx="990.9" cy="531.5" r="2.88"/>
<circle cx="985.3" cy="529.7" r="2.88"/>
<circle cx="964.7" cy="550.1" r="2.88"/>
<circle cx="989.0" cy="548.8" r="2.88"/>
<circle cx="968.4" cy="547.5" r="2.88"/>
<circle cx="992.8" cy="524.2" r="2.88"/>
<circle cx="1000.2" cy="534.2" r="2.88"/>
<circle cx="994.6" cy="567.5" r="2.88"/>
<circle cx="989.0" cy="527.7" r="2.88"/>
<circle cx="992.8" cy="557.5" r="2.88"/>
<circle cx="977.8" cy="546.3" r="2.88"/>
<circle cx="974.0" cy="564.7" r="2.88"/>
<circle cx="990.9" cy="544.4" r="2.88"/>
<circle cx="983.4" cy="523.8" r="2.88"/>
<circle cx="964.7" cy="549.1" r="2.88"/>
<circle cx="968.4" cy="561.7" r="2.88"/>
<circle cx="964.7" cy="522.2" r="2.88"/>
<circle cx="979.7" cy="546.3" r="2.88"/>
<circle cx="989.0" cy="561.8" r="2.88"/>
<circle cx="977.8" cy="535.9" r="2.88"/>
<circle cx="1043.3" cy="521.5" r="2.88"/>
<circle cx="1011.5" cy="540.8" r="2.88"/>
<circle cx="1013.3" cy="561.0" r="2.88"/>
<circle cx="1032.0" cy="558.1" r="2.88"/>
<circle cx="1009.6" cy="550.9" r="2.88"/>
<circle cx="1037.6" cy="566.3" r="2.88"/>
<circle cx="1047.0" cy="552.8" r="2.88"/>
<circle cx="1026.4" cy="566.4" r="2.88"/>
<circle cx="1011.5" cy="561.3" r="2.88"/>
<circle cx="1032.0" cy="542.8" r="2.88"/>
<circle cx="1043.3" cy="564.8" r="2.88"/>
<circle cx="1015.2" cy="528.6" r="2.88"/>
<circle cx="1035.8" cy="560.2" r="2.88"/>
<circle cx="1026.4" cy="559.2" r="2.88"/>
<circle cx="1045.1" cy="547.8" r="2.88"/>
<circle cx="1050.7" cy="530.8" r="2.88"/>
<circle cx="1047.0" cy="534.8" r="2.88"/>
<circle cx="1018.9" cy="527.8" r="2.88"/>
<circle cx="1015.2" cy="544.9" r="2.88"/>
<circle cx="1017.1" cy="558.1" r="2.88"/>
<circle cx="1011.5" cy="563.3" r="2.88"/>
<circle cx="1047.0" cy="525.2" r="2.88"/>
<circle cx="1039.5" cy="544.6" r="2.88"/>
<circle cx="1045.1" cy="530.5" r="2.88"/>
<circle cx="1009.6" cy="523.9" r="2.88"/>
<circle cx="1017.1" cy="535.5" r="2.88"/>
<circle cx="1043.3" cy="538.5" r="2.88"/>
<circle cx="1041.4" cy="560.2" r="2.88"/>
<circle cx="1020.8" cy="525.0" r="2.88"/>
<circle cx="1013.3" cy="530.6" r="2.88"/>
<circle cx="1020.8" cy="545.4" r="2.88"/>
<circle cx="1013.3" cy="542.3" r="2.88"/>
<circle cx="1028.3" cy="543.4" r="2.88"/>
<circle cx="1041.4" cy="545.9" r="2.88"/>
<circle cx="1045.1" cy="560.6" r="2.88"/>
<circle cx="1041.4" cy="526.4" r="2.88"/>
<circle cx="1045.1" cy="557.2" r="2.88"/>
<circle cx="1017.1" cy="566.7" r="2.88"/>
<circle cx="1054.5" cy="541.1" r="2.88"/>
<circle cx="1045.1" cy="565.6" r="2.88"/>
<circle cx="1097.5" cy="546.7" r="2.88"/>
<circle cx="1071.3" cy="521.7" r="2.88"/>
<circle cx="1060.1" cy="533.8" r="2.88"/>
<circle cx="1060.1" cy="527.7" r="2.88"/>
<circle cx="1063.8" cy="533.6" r="2.88"/>
<circle cx="1060.1" cy="545.3" r="2.88"/>
<circle cx="1065.7" cy="558.1" r="2.88"/>
<circle cx="1071.3" cy="550.3" r="2.88"/>
<circle cx="1063.8" cy="530.3" r="2.88"/>
<circle cx="1058.2" cy="549.9" r="2.88"/>
<circle cx="536.3" cy="520.3" r="2.88"/>
<circle cx="519.5" cy="507.5" r="2.88"/>
<circle cx="515.8" cy="482.8" r="2.88"/>
<circle cx="538.2" cy="506.0" r="2.88"/>
<circle cx="534.5" cy="489.3" r="2.88"/>
<circle cx="512.0" cy="488.1" r="2.88"/>
<circle cx="540.1" cy="517.3" r="2.88"/>
<circle cx="512.0" cy="497.6" r="2.88"/>
<circle cx="560.6" cy="495.8" r="2.88"/>
<circle cx="575.6" cy="498.4" r="2.88"/>
<circle cx="568.1" cy="486.4" r="2.88"/>
<circle cx="585.0" cy="483.3" r="2.88"/>
<circle cx="577.5" cy="521.3" r="2.88"/>
<circle cx="577.5" cy="482.1" r="2.88"/>
<circle cx="556.9" cy="500.7" r="2.88"/>
<circle cx="583.1" cy="500.5" r="2.88"/>
<circle cx="549.4" cy="498.8" r="2.88"/>
<circle cx="558.8" cy="496.7" r="2.88"/>
<circle cx="588.7" cy="503.8" r="2.88"/>
<circle cx="594.3" cy="478.8" r="2.88"/>
<circle cx="626.1" cy="500.5" r="2.88"/>
<circle cx="594.3" cy="506.6" r="2.88"/>
<circle cx="592.4" cy="515.8" r="2.88"/>
<circle cx="603.7" cy="512.0" r="2.88"/>
<circle cx="611.2" cy="491.2" r="2.88"/>
<circle cx="620.5" cy="514.7" r="2.88"/>
<circle cx="613.0" cy="492.3" r="2.88"/>
<circle cx="607.4" cy="505.2" r="2.88"/>
<circle cx="628.0" cy="514.3" r="2.88"/>
<circle cx="598.1" cy="476.7" r="2.88"/>
<circle cx="618.6" cy="513.3" r="2.88"/>
<circle cx="607.4" cy="480.9" r="2.88"/>
<circle cx="596.2" cy="484.8" r="2.88"/>
<circle cx="598.1" cy="511.8" r="2.88"/>
<circle cx="599.9" cy="511.7" r="2.88"/>
<circle cx="676.6" cy="492.9" r="2.88"/>
<circle cx="682.2" cy="520.9" r="2.88"/>
<circle cx="657.9" cy="500.3" r="2.88"/>
<circle cx="678.5" cy="518.9" r="2.88"/>
<circle cx="663.5" cy="505.6" r="2.88"/>
<circle cx="652.3" cy="494.8" r="2.88"/>
<circle cx="661.7" cy="497.6" r="2.88"/>
<circle cx="652.3" cy="477.0" r="2.88"/>
<circle cx="657.9" cy="495.5" r="2.88"/>
<circle cx="665.4" cy="480.6" r="2.88"/>
<circle cx="665.4" cy="497.6" r="2.88"/>
<circle cx="646.7" cy="495.4" r="2.88"/>
<circle cx="654.2" cy="503.4" r="2.88"/>
<circle cx="680.4" cy="504.7" r="2.88"/>
<circle cx="682.2" cy="480.4" r="2.88"/>
<circle cx="671.0" cy="502.0" r="2.88"/>
<circle cx="674.8" cy="519.2" r="2.88"/>
<circle cx="663.5" cy="516.6" r="2.88"/>
<circle cx="643.0" cy="491.7" r="2.88"/>
<circle cx="669.1" cy="496.0" r="2.88"/>
<circle cx="659.8" cy="500.4" r="2.88"/>
<circle cx="639.2" cy="489.6" r="2.88"/>
<circle cx="723.4" cy="496.0" r="2.88"/>
<circle cx="714.0" cy="485.7" r="2.88"/>
<circle cx="693.5" cy="496.6" r="2.88"/>
<circle cx="691.6" cy="496.4" r="2.88"/>
<circle cx="689.7" cy="502.2" r="2.88"/>
<circle cx="693.5" cy="514.0" r="2.88"/>
<circle cx="714.0" cy="511.7" r="2.88"/>
<circle cx="721.5" cy="503.0" r="2.88"/>
<circle cx="699.1" cy="510.3" r="2.88"/>
<circle cx="706.6" cy="491.5" r="2.88"/>
<circle cx="723.4" cy="489.3" r="2.88"/>
<circle cx="725.3" cy="508.6" r="2.88"/>
<circle cx="708.4" cy="492.5" r="2.88"/>
<circle cx="702.8" cy="501.4" r="2.88"/>
<circle cx="704.7" cy="503.2" r="2.88"/>
<circle cx="686.0" cy="519.6" r="2.88"/>
<circle cx="706.6" cy="511.9" r="2.88"/>
<circle cx="691.6" cy="481.3" r="2.88"/>
<circle cx="686.0" cy="479.9" r="2.88"/>
<circle cx="712.2" cy="483.6" r="2.88"/>
<circle cx="721.5" cy="487.3" r="2.88"/>
<circle cx="686.0" cy="489.2" r="2.88"/>
<circle cx="693.5" cy="513.8" r="2.88"/>
<circle cx="697.2" cy="519.2" r="2.88"/>
<circle cx="684.1" cy="483.9" r="2.88"/>
<circle cx="717.8" cy="516.4" r="2.88"/>
<circle cx="717.8" cy="512.2" r="2.88"/>
<circle cx="710.3" cy="484.0" r="2.88"/>
<circle cx="721.5" cy="505.3" r="2.88"/>
<circle cx="700.9" cy="517.4" r="2.88"/>
<circle cx="691.6" cy="505.6" r="2.88"/>
<circle cx="682.2" cy="508.9" r="2.88"/>
<circle cx="702.8" cy="495.1" r="2.88"/>
<circle cx="702.8" cy="516.3" r="2.88"/>
<circle cx="706.6" cy="499.9" r="2.88"/>
<circle cx="708.4" cy="509.1" r="2.88"/>
<circle cx="700.9" cy="515.4" r="2.88"/>
<circle cx="686.0" cy="500.3" r="2.88"/>
<circle cx="723.4" cy="500.0" r="2.88"/>
<circle cx="710.3" cy="503.5" r="2.88"/>
<circle cx="715.9" cy="510.1" r="2.88"/>
<circle cx="714.0" cy="505.8" r="2.88"/>
<circle cx="714.0" cy="482.8" r="2.88"/>
<circle cx="695.3" cy="482.5" r="2.88"/>
<circle cx="702.8" cy="505.8" r="2.88"/>
<circle cx="757.1" cy="493.0" r="2.88"/>
<circle cx="758.9" cy="521.3" r="2.88"/>
<circle cx="760.8" cy="495.2" r="2.88"/>
<circle cx="770.2" cy="487.2" r="2.88"/>
<circle cx="753.3" cy="496.7" r="2.88"/>
<circle cx="730.9" cy="494.4" r="2.88"/>
<circle cx="734.6" cy="487.1" r="2.88"/>
<circle cx="742.1" cy="521.1" r="2.88"/>
<circle cx="740.2" cy="520.8" r="2.88"/>
<circle cx="749.6" cy="521.0" r="2.88"/>
<circle cx="747.7" cy="511.2" r="2.88"/>
<circle cx="768.3" cy="511.2" r="2.88"/>
<circle cx="749.6" cy="509.8" r="2.88"/>
<circle cx="760.8" cy="509.2" r="2.88"/>
<circle cx="747.7" cy="488.4" r="2.88"/>
<circle cx="768.3" cy="489.3" r="2.88"/>
<circle cx="766.4" cy="486.7" r="2.88"/>
<circle cx="751.4" cy="489.8" r="2.88"/>
<circle cx="744.0" cy="512.3" r="2.88"/>
<circle cx="753.3" cy="505.5" r="2.88"/>
<circle cx="773.9" cy="512.2" r="2.88"/>
<circle cx="736.5" cy="489.7" r="2.88"/>
<circle cx="734.6" cy="500.1" r="2.88"/>
<circle cx="770.2" cy="495.7" r="2.88"/>
<circle cx="772.0" cy="493.0" r="2.88"/>
<circle cx="766.4" cy="494.8" r="2.88"/>
<circle cx="730.9" cy="506.5" r="2.88"/>
<circle cx="753.3" cy="476.2" r="2.88"/>
<circle cx="745.8" cy="481.2" r="2.88"/>
<circle cx="742.1" cy="494.3" r="2.88"/>
<circle cx="757.1" cy="493.0" r="2.88"/>
<circle cx="745.8" cy="514.8" r="2.88"/>
<circle cx="770.2" cy="501.9" r="2.88"/>
<circle cx="770.2" cy="494.5" r="2.88"/>
<circle cx="766.4" cy="481.4" r="2.88"/>
<circle cx="753.3" cy="487.9" r="2.88"/>
<circle cx="738.4" cy="518.7" r="2.88"/>
<circle cx="747.7" cy="496.9" r="2.88"/>
<circle cx="757.1" cy="480.1" r="2.88"/>
<circle cx="764.5" cy="519.1" r="2.88"/>
<circle cx="744.0" cy="492.9" r="2.88"/>
<circle cx="757.1" cy="503.7" r="2.88"/>
<circle cx="772.0" cy="507.8" r="2.88"/>
<circle cx="751.4" cy="481.0" r="2.88"/>
<circle cx="734.6" cy="477.2" r="2.88"/>
<circle cx="758.9" cy="505.6" r="2.88"/>
<circle cx="740.2" cy="486.0" r="2.88"/>
<circle cx="744.0" cy="505.1" r="2.88"/>
<circle cx="762.7" cy="494.7" r="2.88"/>
<circle cx="768.3" cy="514.2" r="2.88"/>
<circle cx="772.0" cy="487.7" r="2.88"/>
<circle cx="762.7" cy="514.3" r="2.88"/>
<circle cx="807.6" cy="502.1" r="2.88"/>
<circle cx="802.0" cy="486.3" r="2.88"/>
<circle cx="798.2" cy="520.7" r="2.88"/>
<circle cx="805.7" cy="481.4" r="2.88"/>
<circle cx="803.8" cy="520.6" r="2.88"/>
<circle cx="794.5" cy="521.2" r="2.88"/>
<circle cx="820.7" cy="500.7" r="2.88"/>
<circle cx="781.4" cy="481.7" r="2.88"/>
<circle cx="781.4" cy="477.6" r="2.88"/>
<circle cx="781.4" cy="498.3" r="2.88"/>
<circle cx="816.9" cy="504.0" r="2.88"/>
<circle cx="788.9" cy="490.0" r="2.88"/>
<circle cx="800.1" cy="516.8" r="2.88"/>
<circle cx="788.9" cy="487.5" r="2.88"/>
<circle cx="781.4" cy="517.0" r="2.88"/>
<circle cx="779.5" cy="518.0" r="2.88"/>
<circle cx="816.9" cy="496.0" r="2.88"/>
<circle cx="803.8" cy="495.4" r="2.88"/>
<circle cx="820.7" cy="504.1" r="2.88"/>
<circle cx="783.2" cy="510.3" r="2.88"/>
<circle cx="783.2" cy="480.1" r="2.88"/>
<circle cx="777.6" cy="489.5" r="2.88"/>
<circle cx="788.9" cy="504.6" r="2.88"/>
<circle cx="809.4" cy="519.3" r="2.88"/>
<circle cx="792.6" cy="491.2" r="2.88"/>
<circle cx="807.6" cy="477.7" r="2.88"/>
<circle cx="816.9" cy="485.7" r="2.88"/>
<circle cx="785.1" cy="504.6" r="2.88"/>
<circle cx="798.2" cy="521.0" r="2.88"/>
<circle cx="785.1" cy="489.4" r="2.88"/>
<circle cx="839.4" cy="494.9" r="2.88"/>
<circle cx="833.8" cy="506.1" r="2.88"/>
<circle cx="856.2" cy="511.3" r="2.88"/>
<circle cx="852.5" cy="491.2" r="2.88"/>
<circle cx="850.6" cy="495.5" r="2.88"/>
<circle cx="858.1" cy="492.6" r="2.88"/>
<circle cx="854.3" cy="485.4" r="2.88"/>
<circle cx="845.0" cy="501.9" r="2.88"/>
<circle cx="854.3" cy="488.6" r="2.88"/>
<circle cx="839.4" cy="510.5" r="2.88"/>
<circle cx="865.6" cy="516.4" r="2.88"/>
<circle cx="861.8" cy="492.0" r="2.88"/>
<circle cx="831.9" cy="520.4" r="2.88"/>
<circle cx="839.4" cy="518.1" r="2.88"/>
<circle cx="843.1" cy="514.9" r="2.88"/>
<circle cx="863.7" cy="507.3" r="2.88"/>
<circle cx="846.8" cy="516.3" r="2.88"/>
<circle cx="861.8" cy="516.7" r="2.88"/>
<circle cx="848.7" cy="488.3" r="2.88"/>
<circle cx="858.1" cy="520.2" r="2.88"/>
<circle cx="831.9" cy="498.7" r="2.88"/>
<circle cx="865.6" cy="502.1" r="2.88"/>
<circle cx="859.9" cy="483.4" r="2.88"/>
<circle cx="856.2" cy="510.1" r="2.88"/>
<circle cx="843.1" cy="521.2" r="2.88"/>
<circle cx="861.8" cy="492.2" r="2.88"/>
<circle cx="867.4" cy="517.8" r="2.88"/>
<circle cx="858.1" cy="493.4" r="2.88"/>
<circle cx="852.5" cy="512.4" r="2.88"/>
<circle cx="828.1" cy="513.3" r="2.88"/>
<circle cx="897.4" cy="511.7" r="2.88"/>
<circle cx="914.2" cy="484.9" r="2.88"/>
<circle cx="882.4" cy="521.2" r="2.88"/>
<circle cx="876.8" cy="516.3" r="2.88"/>
<circle cx="912.3" cy="482.4" r="2.88"/>
<circle cx="874.9" cy="505.1" r="2.88"/>
<circle cx="871.2" cy="510.8" r="2.88"/>
<circle cx="876.8" cy="479.3" r="2.88"/>
<circle cx="889.9" cy="479.9" r="2.88"/>
<circle cx="908.6" cy="499.0" r="2.88"/>
<circle cx="910.4" cy="517.2" r="2.88"/>
<circle cx="874.9" cy="508.1" r="2.88"/>
<circle cx="914.2" cy="518.9" r="2.88"/>
<circle cx="869.3" cy="517.2" r="2.88"/>
<circle cx="878.6" cy="520.2" r="2.88"/>
<circle cx="871.2" cy="501.7" r="2.88"/>
<circle cx="904.8" cy="497.6" r="2.88"/>
<circle cx="903.0" cy="517.2" r="2.88"/>
<circle cx="878.6" cy="516.1" r="2.88"/>
<circle cx="906.7" cy="516.6" r="2.88"/>
<circle cx="893.6" cy="515.9" r="2.88"/>
<circle cx="891.7" cy="519.0" r="2.88"/>
<circle cx="880.5" cy="503.1" r="2.88"/>
<circle cx="886.1" cy="509.8" r="2.88"/>
<circle cx="891.7" cy="519.2" r="2.88"/>
<circle cx="895.5" cy="518.9" r="2.88"/>
<circle cx="876.8" cy="521.2" r="2.88"/>
<circle cx="880.5" cy="493.7" r="2.88"/>
<circle cx="882.4" cy="513.6" r="2.88"/>
<circle cx="871.2" cy="484.6" r="2.88"/>
<circle cx="895.5" cy="480.0" r="2.88"/>
<circle cx="876.8" cy="504.5" r="2.88"/>
<circle cx="876.8" cy="504.8" r="2.88"/>
<circle cx="888.0" cy="491.6" r="2.88"/>
<circle cx="903.0" cy="497.9" r="2.88"/>
<circle cx="921.7" cy="517.5" r="2.88"/>
<circle cx="957.2" cy="476.1" r="2.88"/>
<circle cx="940.4" cy="478.6" r="2.88"/>
<circle cx="953.5" cy="505.1" r="2.88"/>
<circle cx="947.9" cy="510.0" r="2.88"/>
<circle cx="936.6" cy="518.0" r="2.88"/>
<circle cx="953.5" cy="495.2" r="2.88"/>
<circle cx="923.5" cy="487.0" r="2.88"/>
<circle cx="938.5" cy="485.0" r="2.88"/>
<circle cx="951.6" cy="514.3" r="2.88"/>
<circle cx="949.7" cy="496.7" r="2.88"/>
<circle cx="936.6" cy="487.3" r="2.88"/>
<circle cx="919.8" cy="481.7" r="2.88"/>
<circle cx="923.5" cy="520.2" r="2.88"/>
<circle cx="929.2" cy="497.4" r="2.88"/>
<circle cx="931.0" cy="506.7" r="2.88"/>
<circle cx="946.0" cy="494.8" r="2.88"/>
<circle cx="942.2" cy="500.5" r="2.88"/>
<circle cx="955.3" cy="509.9" r="2.88"/>
<circle cx="947.9" cy="475.7" r="2.88"/>
<circle cx="923.5" cy="489.1" r="2.88"/>
<circle cx="936.6" cy="507.7" r="2.88"/>
<circle cx="947.9" cy="478.3" r="2.88"/>
<circle cx="942.2" cy="512.1" r="2.88"/>
<circle cx="959.1" cy="491.9" r="2.88"/>
<circle cx="944.1" cy="485.1" r="2.88"/>
<circle cx="946.0" cy="520.3" r="2.88"/>
<circle cx="951.6" cy="503.6" r="2.88"/>
<circle cx="916.1" cy="503.6" r="2.88"/>
<circle cx="946.0" cy="483.7" r="2.88"/>
<circle cx="981.5" cy="518.0" r="2.88"/>
<circle cx="1004.0" cy="514.6" r="2.88"/>
<circle cx="1004.0" cy="498.5" r="2.88"/>
<circle cx="977.8" cy="506.1" r="2.88"/>
<circle cx="970.3" cy="513.4" r="2.88"/>
<circle cx="968.4" cy="493.4" r="2.88"/>
<circle cx="990.9" cy="495.9" r="2.88"/>
<circle cx="983.4" cy="494.4" r="2.88"/>
<circle cx="1004.0" cy="495.2" r="2.88"/>
<circle cx="966.6" cy="484.3" r="2.88"/>
<circle cx="1005.8" cy="517.5" r="2.88"/>
<circle cx="972.2" cy="519.3" r="2.88"/>
<circle cx="996.5" cy="508.9" r="2.88"/>
<circle cx="968.4" cy="521.2" r="2.88"/>
<circle cx="1000.2" cy="506.2" r="2.88"/>
<circle cx="964.7" cy="483.1" r="2.88"/>
<circle cx="989.0" cy="513.5" r="2.88"/>
<circle cx="979.7" cy="484.4" r="2.88"/>
<circle cx="1002.1" cy="498.9" r="2.88"/>
<circle cx="968.4" cy="477.3" r="2.88"/>
<circle cx="989.0" cy="500.3" r="2.88"/>
<circle cx="981.5" cy="484.4" r="2.88"/>
<circle cx="994.6" cy="485.0" r="2.88"/>
<circle cx="1004.0" cy="496.7" r="2.88"/>
<circle cx="1000.2" cy="516.5" r="2.88"/>
<circle cx="992.8" cy="484.1" r="2.88"/>
<circle cx="962.8" cy="493.8" r="2.88"/>
<circle cx="1005.8" cy="521.5" r="2.88"/>
<circle cx="964.7" cy="475.7" r="2.88"/>
<circle cx="1007.7" cy="498.4" r="2.88"/>
<circle cx="1047.0" cy="514.0" r="2.88"/>
<circle cx="1028.3" cy="513.0" r="2.88"/>
<circle cx="1030.2" cy="482.2" r="2.88"/>
<circle cx="1052.6" cy="502.9" r="2.88"/>
<circle cx="1048.9" cy="497.9" r="2.88"/>
<circle cx="1011.5" cy="484.5" r="2.88"/>
<circle cx="1022.7" cy="519.3" r="2.88"/>
<circle cx="1028.3" cy="518.2" r="2.88"/>
<circle cx="1028.3" cy="503.9" r="2.88"/>
<circle cx="1017.1" cy="496.8" r="2.88"/>
<circle cx="1028.3" cy="497.3" r="2.88"/>
<circle cx="1035.8" cy="486.8" r="2.88"/>
<circle cx="1039.5" cy="501.4" r="2.88"/>
<circle cx="1018.9" cy="498.7" r="2.88"/>
<circle cx="1050.7" cy="491.6" r="2.88"/>
<circle cx="1028.3" cy="497.3" r="2.88"/>
<circle cx="1020.8" cy="515.5" r="2.88"/>
<circle cx="1020.8" cy="498.1" r="2.88"/>
<circle cx="1033.9" cy="505.2" r="2.88"/>
<circle cx="1037.6" cy="510.8" r="2.88"/>
<circle cx="1052.6" cy="517.2" r="2.88"/>
<circle cx="1024.6" cy="493.5" r="2.88"/>
<circle cx="1050.7" cy="519.3" r="2.88"/>
<circle cx="1035.8" cy="520.6" r="2.88"/>
<circle cx="1015.2" cy="490.8" r="2.88"/>
<circle cx="1056.4" cy="515.7" r="2.88"/>
<circle cx="1062.0" cy="491.8" r="2.88"/>
<circle cx="1062.0" cy="509.7" r="2.88"/>
<circle cx="1069.4" cy="491.4" r="2.88"/>
<circle cx="534.5" cy="461.3" r="2.88"/>
<circle cx="517.6" cy="455.7" r="2.88"/>
<circle cx="528.8" cy="446.2" r="2.88"/>
<circle cx="515.8" cy="471.4" r="2.88"/>
<circle cx="575.6" cy="428.8" r="2.88"/>
<circle cx="553.2" cy="453.9" r="2.88"/>
<circle cx="547.6" cy="459.9" r="2.88"/>
<circle cx="577.5" cy="456.2" r="2.88"/>
<circle cx="575.6" cy="458.8" r="2.88"/>
<circle cx="545.7" cy="433.2" r="2.88"/>
<circle cx="579.4" cy="428.7" r="2.88"/>
<circle cx="549.4" cy="466.3" r="2.88"/>
<circle cx="558.8" cy="473.9" r="2.88"/>
<circle cx="566.3" cy="445.2" r="2.88"/>
<circle cx="635.5" cy="473.2" r="2.88"/>
<circle cx="635.5" cy="468.8" r="2.88"/>
<circle cx="590.6" cy="440.1" r="2.88"/>
<circle cx="622.4" cy="441.5" r="2.88"/>
<circle cx="618.6" cy="461.4" r="2.88"/>
<circle cx="618.6" cy="449.5" r="2.88"/>
<circle cx="609.3" cy="464.7" r="2.88"/>
<circle cx="605.5" cy="437.5" r="2.88"/>
<circle cx="605.5" cy="454.4" r="2.88"/>
<circle cx="601.8" cy="458.9" r="2.88"/>
<circle cx="592.4" cy="432.7" r="2.88"/>
<circle cx="629.9" cy="462.8" r="2.88"/>
<circle cx="620.5" cy="440.8" r="2.88"/>
<circle cx="596.2" cy="462.4" r="2.88"/>
<circle cx="629.9" cy="453.2" r="2.88"/>
<circle cx="628.0" cy="458.5" r="2.88"/>
<circle cx="644.8" cy="432.4" r="2.88"/>
<circle cx="669.1" cy="471.8" r="2.88"/>
<circle cx="672.9" cy="433.0" r="2.88"/>
<circle cx="680.4" cy="457.9" r="2.88"/>
<circle cx="674.8" cy="438.1" r="2.88"/>
<circle cx="656.0" cy="447.1" r="2.88"/>
<circle cx="654.2" cy="446.3" r="2.88"/>
<circle cx="652.3" cy="438.6" r="2.88"/>
<circle cx="672.9" cy="447.4" r="2.88"/>
<circle cx="669.1" cy="433.9" r="2.88"/>
<circle cx="671.0" cy="452.9" r="2.88"/>
<circle cx="669.1" cy="452.1" r="2.88"/>
<circle cx="680.4" cy="446.2" r="2.88"/>
<circle cx="650.4" cy="450.0" r="2.88"/>
<circle cx="672.9" cy="463.4" r="2.88"/>
<circle cx="637.3" cy="445.2" r="2.88"/>
<circle cx="643.0" cy="452.1" r="2.88"/>
<circle cx="674.8" cy="467.3" r="2.88"/>
<circle cx="714.0" cy="460.3" r="2.88"/>
<circle cx="727.1" cy="457.1" r="2.88"/>
<circle cx="712.2" cy="444.3" r="2.88"/>
<circle cx="727.1" cy="429.6" r="2.88"/>
<circle cx="729.0" cy="438.4" r="2.88"/>
<circle cx="712.2" cy="470.4" r="2.88"/>
<circle cx="693.5" cy="471.4" r="2.88"/>
<circle cx="695.3" cy="451.4" r="2.88"/>
<circle cx="710.3" cy="467.4" r="2.88"/>
<circle cx="719.6" cy="457.6" r="2.88"/>
<circle cx="729.0" cy="450.5" r="2.88"/>
<circle cx="700.9" cy="454.5" r="2.88"/>
<circle cx="714.0" cy="465.5" r="2.88"/>
<circle cx="729.0" cy="458.0" r="2.88"/>
<circle cx="721.5" cy="430.5" r="2.88"/>
<circle cx="723.4" cy="444.0" r="2.88"/>
<circle cx="706.6" cy="472.3" r="2.88"/>
<circle cx="693.5" cy="448.4" r="2.88"/>
<circle cx="706.6" cy="443.6" r="2.88"/>
<circle cx="725.3" cy="436.4" r="2.88"/>
<circle cx="710.3" cy="459.6" r="2.88"/>
<circle cx="727.1" cy="437.9" r="2.88"/>
<circle cx="714.0" cy="441.4" r="2.88"/>
<circle cx="706.6" cy="474.4" r="2.88"/>
<circle cx="686.0" cy="473.1" r="2.88"/>
<circle cx="697.2" cy="472.0" r="2.88"/>
<circle cx="706.6" cy="465.9" r="2.88"/>
<circle cx="704.7" cy="445.2" r="2.88"/>
<circle cx="682.2" cy="472.2" r="2.88"/>
<circle cx="712.2" cy="446.7" r="2.88"/>
<circle cx="745.8" cy="457.4" r="2.88"/>
<circle cx="760.8" cy="432.9" r="2.88"/>
<circle cx="757.1" cy="433.8" r="2.88"/>
<circle cx="745.8" cy="444.1" r="2.88"/>
<circle cx="753.3" cy="432.5" r="2.88"/>
<circle cx="768.3" cy="445.9" r="2.88"/>
<circle cx="732.7" cy="439.9" r="2.88"/>
<circle cx="744.0" cy="462.5" r="2.88"/>
<circle cx="768.3" cy="467.5" r="2.88"/>
<circle cx="732.7" cy="474.1" r="2.88"/>
<circle cx="760.8" cy="435.2" r="2.88"/>
<circle cx="758.9" cy="458.0" r="2.88"/>
<circle cx="768.3" cy="430.5" r="2.88"/>
<circle cx="732.7" cy="468.9" r="2.88"/>
<circle cx="758.9" cy="451.1" r="2.88"/>
<circle cx="760.8" cy="428.6" r="2.88"/>
<circle cx="742.1" cy="468.8" r="2.88"/>
<circle cx="768.3" cy="434.9" r="2.88"/>
<circle cx="758.9" cy="445.3" r="2.88"/>
<circle cx="751.4" cy="461.7" r="2.88"/>
<circle cx="772.0" cy="429.2" r="2.88"/>
<circle cx="766.4" cy="445.5" r="2.88"/>
<circle cx="742.1" cy="457.6" r="2.88"/>
<circle cx="749.6" cy="430.8" r="2.88"/>
<circle cx="744.0" cy="464.1" r="2.88"/>
<circle cx="738.4" cy="437.7" r="2.88"/>
<circle cx="730.9" cy="437.2" r="2.88"/>
<circle cx="747.7" cy="442.3" r="2.88"/>
<circle cx="762.7" cy="454.1" r="2.88"/>
<circle cx="753.3" cy="459.0" r="2.88"/>
<circle cx="768.3" cy="469.9" r="2.88"/>
<circle cx="729.0" cy="452.8" r="2.88"/>
<circle cx="757.1" cy="469.8" r="2.88"/>
<circle cx="757.1" cy="449.7" r="2.88"/>
<circle cx="770.2" cy="449.8" r="2.88"/>
<circle cx="758.9" cy="445.8" r="2.88"/>
<circle cx="775.8" cy="463.3" r="2.88"/>
<circle cx="729.0" cy="454.5" r="2.88"/>
<circle cx="757.1" cy="441.5" r="2.88"/>
<circle cx="766.4" cy="456.8" r="2.88"/>
<circle cx="747.7" cy="470.6" r="2.88"/>
<circle cx="742.1" cy="437.3" r="2.88"/>
<circle cx="760.8" cy="471.4" r="2.88"/>
<circle cx="742.1" cy="472.3" r="2.88"/>
<circle cx="747.7" cy="461.5" r="2.88"/>
<circle cx="745.8" cy="428.8" r="2.88"/>
<circle cx="758.9" cy="438.1" r="2.88"/>
<circle cx="747.7" cy="469.8" r="2.88"/>
<circle cx="745.8" cy="440.3" r="2.88"/>
<circle cx="745.8" cy="437.6" r="2.88"/>
<circle cx="757.1" cy="432.4" r="2.88"/>
<circle cx="764.5" cy="450.7" r="2.88"/>
<circle cx="744.0" cy="430.0" r="2.88"/>
<circle cx="764.5" cy="461.7" r="2.88"/>
<circle cx="736.5" cy="471.1" r="2.88"/>
<circle cx="760.8" cy="467.1" r="2.88"/>
<circle cx="745.8" cy="464.4" r="2.88"/>
<circle cx="738.4" cy="466.1" r="2.88"/>
<circle cx="766.4" cy="431.3" r="2.88"/>
<circle cx="766.4" cy="429.7" r="2.88"/>
<circle cx="787.0" cy="445.4" r="2.88"/>
<circle cx="785.1" cy="455.8" r="2.88"/>
<circle cx="783.2" cy="438.2" r="2.88"/>
<circle cx="794.5" cy="435.8" r="2.88"/>
<circle cx="798.2" cy="442.0" r="2.88"/>
<circle cx="790.7" cy="454.7" r="2.88"/>
<circle cx="787.0" cy="444.6" r="2.88"/>
<circle cx="809.4" cy="457.4" r="2.88"/>
<circle cx="811.3" cy="473.2" r="2.88"/>
<circle cx="811.3" cy="474.3" r="2.88"/>
<circle cx="788.9" cy="457.9" r="2.88"/>
<circle cx="794.5" cy="433.1" r="2.88"/>
<circle cx="783.2" cy="452.2" r="2.88"/>
<circle cx="792.6" cy="438.4" r="2.88"/>
<circle cx="805.7" cy="462.3" r="2.88"/>
<circle cx="779.5" cy="430.6" r="2.88"/>
<circle cx="785.1" cy="443.4" r="2.88"/>
<circle cx="781.4" cy="461.7" r="2.88"/>
<circle cx="787.0" cy="468.2" r="2.88"/>
<circle cx="807.6" cy="443.4" r="2.88"/>
<circle cx="816.9" cy="474.8" r="2.88"/>
<circle cx="809.4" cy="444.6" r="2.88"/>
<circle cx="807.6" cy="466.9" r="2.88"/>
<circle cx="822.5" cy="444.1" r="2.88"/>
<circle cx="788.9" cy="441.5" r="2.88"/>
<circle cx="816.9" cy="469.4" r="2.88"/>
<circle cx="775.8" cy="449.0" r="2.88"/>
<circle cx="777.6" cy="443.6" r="2.88"/>
<circle cx="815.0" cy="468.8" r="2.88"/>
<circle cx="816.9" cy="471.6" r="2.88"/>
<circle cx="837.5" cy="474.0" r="2.88"/>
<circle cx="833.8" cy="458.6" r="2.88"/>
<circle cx="830.0" cy="434.1" r="2.88"/>
<circle cx="837.5" cy="456.2" r="2.88"/>
<circle cx="846.8" cy="431.4" r="2.88"/>
<circle cx="867.4" cy="458.1" r="2.88"/>
<circle cx="858.1" cy="447.5" r="2.88"/>
<circle cx="835.6" cy="429.7" r="2.88"/>
<circle cx="858.1" cy="465.4" r="2.88"/>
<circle cx="830.0" cy="450.0" r="2.88"/>
<circle cx="867.4" cy="460.4" r="2.88"/>
<circle cx="841.2" cy="452.9" r="2.88"/>
<circle cx="839.4" cy="464.7" r="2.88"/>
<circle cx="846.8" cy="445.8" r="2.88"/>
<circle cx="863.7" cy="467.8" r="2.88"/>
<circle cx="839.4" cy="472.0" r="2.88"/>
<circle cx="848.7" cy="469.1" r="2.88"/>
<circle cx="858.1" cy="469.6" r="2.88"/>
<circle cx="831.9" cy="449.7" r="2.88"/>
<circle cx="858.1" cy="440.5" r="2.88"/>
<circle cx="861.8" cy="462.2" r="2.88"/>
<circle cx="856.2" cy="473.6" r="2.88"/>
<circle cx="904.8" cy="435.9" r="2.88"/>
<circle cx="916.1" cy="468.9" r="2.88"/>
<circle cx="886.1" cy="441.8" r="2.88"/>
<circle cx="893.6" cy="460.5" r="2.88"/>
<circle cx="903.0" cy="473.5" r="2.88"/>
<circle cx="884.3" cy="430.0" r="2.88"/>
<circle cx="910.4" cy="439.3" r="2.88"/>
<circle cx="895.5" cy="435.5" r="2.88"/>
<circle cx="880.5" cy="469.7" r="2.88"/>
<circle cx="912.3" cy="471.9" r="2.88"/>
<circle cx="886.1" cy="473.2" r="2.88"/>
<circle cx="880.5" cy="466.2" r="2.88"/>
<circle cx="878.6" cy="451.2" r="2.88"/>
<circle cx="873.0" cy="436.9" r="2.88"/>
<circle cx="876.8" cy="433.7" r="2.88"/>
<circle cx="873.0" cy="472.6" r="2.88"/>
<circle cx="889.9" cy="456.6" r="2.88"/>
<circle cx="895.5" cy="463.1" r="2.88"/>
<circle cx="914.2" cy="433.4" r="2.88"/>
<circle cx="880.5" cy="462.6" r="2.88"/>
<circle cx="908.6" cy="446.1" r="2.88"/>
<circle cx="901.1" cy="466.7" r="2.88"/>
<circle cx="959.1" cy="470.3" r="2.88"/>
<circle cx="921.7" cy="466.5" r="2.88"/>
<circle cx="917.9" cy="436.9" r="2.88"/>
<circle cx="940.4" cy="451.3" r="2.88"/>
<circle cx="957.2" cy="467.6" r="2.88"/>
<circle cx="934.8" cy="457.3" r="2.88"/>
<circle cx="944.1" cy="459.6" r="2.88"/>
<circle cx="921.7" cy="451.5" r="2.88"/>
<circle cx="949.7" cy="433.2" r="2.88"/>
<circle cx="955.3" cy="444.6" r="2.88"/>
<circle cx="942.2" cy="471.8" r="2.88"/>
<circle cx="934.8" cy="440.7" r="2.88"/>
<circle cx="917.9" cy="448.2" r="2.88"/>
<circle cx="932.9" cy="456.9" r="2.88"/>
<circle cx="932.9" cy="466.4" r="2.88"/>
<circle cx="919.8" cy="444.6" r="2.88"/>
<circle cx="955.3" cy="435.5" r="2.88"/>
<circle cx="919.8" cy="474.2" r="2.88"/>
<circle cx="936.6" cy="429.4" r="2.88"/>
<circle cx="929.2" cy="432.6" r="2.88"/>
<circle cx="936.6" cy="462.6" r="2.88"/>
<circle cx="944.1" cy="441.1" r="2.88"/>
<circle cx="942.2" cy="439.4" r="2.88"/>
<circle cx="934.8" cy="440.3" r="2.88"/>
<circle cx="919.8" cy="445.3" r="2.88"/>
<circle cx="957.2" cy="441.9" r="2.88"/>
<circle cx="931.0" cy="437.6" r="2.88"/>
<circle cx="925.4" cy="463.1" r="2.88"/>
<circle cx="989.0" cy="467.5" r="2.88"/>
<circle cx="1000.2" cy="469.4" r="2.88"/>
<circle cx="974.0" cy="474.9" r="2.88"/>
<circle cx="977.8" cy="474.3" r="2.88"/>
<circle cx="970.3" cy="461.1" r="2.88"/>
<circle cx="974.0" cy="458.6" r="2.88"/>
<circle cx="968.4" cy="455.2" r="2.88"/>
<circle cx="977.8" cy="443.5" r="2.88"/>
<circle cx="994.6" cy="438.2" r="2.88"/>
<circle cx="985.3" cy="437.7" r="2.88"/>
<circle cx="1004.0" cy="438.0" r="2.88"/>
<circle cx="989.0" cy="463.9" r="2.88"/>
<circle cx="1007.7" cy="436.0" r="2.88"/>
<circle cx="996.5" cy="457.8" r="2.88"/>
<circle cx="990.9" cy="466.0" r="2.88"/>
<circle cx="979.7" cy="430.9" r="2.88"/>
<circle cx="985.3" cy="437.7" r="2.88"/>
<circle cx="972.2" cy="454.8" r="2.88"/>
<circle cx="1004.0" cy="466.0" r="2.88"/>
<circle cx="987.1" cy="460.5" r="2.88"/>
<circle cx="996.5" cy="430.4" r="2.88"/>
<circle cx="989.0" cy="467.4" r="2.88"/>
<circle cx="987.1" cy="441.8" r="2.88"/>
<circle cx="968.4" cy="472.8" r="2.88"/>
<circle cx="968.4" cy="444.2" r="2.88"/>
<circle cx="1045.1" cy="455.7" r="2.88"/>
<circle cx="1024.6" cy="446.5" r="2.88"/>
<circle cx="1028.3" cy="433.7" r="2.88"/>
<circle cx="1048.9" cy="461.3" r="2.88"/>
<circle cx="1022.7" cy="452.8" r="2.88"/>
<circle cx="1030.2" cy="441.5" r="2.88"/>
<circle cx="1009.6" cy="435.2" r="2.88"/>
<circle cx="1050.7" cy="440.2" r="2.88"/>
<circle cx="1028.3" cy="443.1" r="2.88"/>
<circle cx="1039.5" cy="447.3" r="2.88"/>
<circle cx="1037.6" cy="474.3" r="2.88"/>
<circle cx="1020.8" cy="469.1" r="2.88"/>
<circle cx="1032.0" cy="473.1" r="2.88"/>
<circle cx="1035.8" cy="441.3" r="2.88"/>
<circle cx="1022.7" cy="470.0" r="2.88"/>
<circle cx="1017.1" cy="463.3" r="2.88"/>
<circle cx="1052.6" cy="452.8" r="2.88"/>
<circle cx="1052.6" cy="460.8" r="2.88"/>
<circle cx="1017.1" cy="469.2" r="2.88"/>
<circle cx="1045.1" cy="429.4" r="2.88"/>
<circle cx="1011.5" cy="432.4" r="2.88"/>
<circle cx="1015.2" cy="466.8" r="2.88"/>
<circle cx="1047.0" cy="450.9" r="2.88"/>
<circle cx="1030.2" cy="432.5" r="2.88"/>
<circle cx="1030.2" cy="473.7" r="2.88"/>
<circle cx="1028.3" cy="450.1" r="2.88"/>
<circle cx="1043.3" cy="456.4" r="2.88"/>
<circle cx="1054.5" cy="435.8" r="2.88"/>
<circle cx="1067.6" cy="467.2" r="2.88"/>
<circle cx="504.5" cy="389.5" r="2.88"/>
<circle cx="530.7" cy="419.5" r="2.88"/>
<circle cx="540.1" cy="385.5" r="2.88"/>
<circle cx="585.0" cy="413.4" r="2.88"/>
<circle cx="541.9" cy="385.9" r="2.88"/>
<circle cx="556.9" cy="385.9" r="2.88"/>
<circle cx="581.2" cy="417.7" r="2.88"/>
<circle cx="564.4" cy="392.7" r="2.88"/>
<circle cx="620.5" cy="395.5" r="2.88"/>
<circle cx="605.5" cy="427.8" r="2.88"/>
<circle cx="609.3" cy="395.3" r="2.88"/>
<circle cx="631.7" cy="411.3" r="2.88"/>
<circle cx="609.3" cy="423.5" r="2.88"/>
<circle cx="607.4" cy="428.1" r="2.88"/>
<circle cx="633.6" cy="387.9" r="2.88"/>
<circle cx="629.9" cy="417.8" r="2.88"/>
<circle cx="603.7" cy="419.1" r="2.88"/>
<circle cx="622.4" cy="394.0" r="2.88"/>
<circle cx="596.2" cy="422.0" r="2.88"/>
<circle cx="618.6" cy="390.4" r="2.88"/>
<circle cx="654.2" cy="402.4" r="2.88"/>
<circle cx="652.3" cy="426.7" r="2.88"/>
<circle cx="672.9" cy="394.9" r="2.88"/>
<circle cx="654.2" cy="402.0" r="2.88"/>
<circle cx="648.6" cy="394.2" r="2.88"/>
<circle cx="648.6" cy="390.9" r="2.88"/>
<circle cx="637.3" cy="392.8" r="2.88"/>
<circle cx="665.4" cy="425.4" r="2.88"/>
<circle cx="654.2" cy="418.0" r="2.88"/>
<circle cx="682.2" cy="391.6" r="2.88"/>
<circle cx="663.5" cy="415.7" r="2.88"/>
<circle cx="682.2" cy="408.6" r="2.88"/>
<circle cx="644.8" cy="402.0" r="2.88"/>
<circle cx="646.7" cy="394.6" r="2.88"/>
<circle cx="672.9" cy="399.6" r="2.88"/>
<circle cx="644.8" cy="400.3" r="2.88"/>
<circle cx="646.7" cy="382.7" r="2.88"/>
<circle cx="680.4" cy="419.6" r="2.88"/>
<circle cx="717.8" cy="394.7" r="2.88"/>
<circle cx="702.8" cy="397.9" r="2.88"/>
<circle cx="727.1" cy="422.0" r="2.88"/>
<circle cx="691.6" cy="383.5" r="2.88"/>
<circle cx="706.6" cy="416.6" r="2.88"/>
<circle cx="699.1" cy="383.6" r="2.88"/>
<circle cx="695.3" cy="426.3" r="2.88"/>
<circle cx="691.6" cy="424.3" r="2.88"/>
<circle cx="708.4" cy="427.7" r="2.88"/>
<circle cx="727.1" cy="424.4" r="2.88"/>
<circle cx="706.6" cy="382.5" r="2.88"/>
<circle cx="699.1" cy="417.7" r="2.88"/>
<circle cx="684.1" cy="424.0" r="2.88"/>
<circle cx="715.9" cy="409.3" r="2.88"/>
<circle cx="702.8" cy="403.1" r="2.88"/>
<circle cx="689.7" cy="417.0" r="2.88"/>
<circle cx="702.8" cy="393.5" r="2.88"/>
<circle cx="684.1" cy="404.0" r="2.88"/>
<circle cx="689.7" cy="419.5" r="2.88"/>
<circle cx="715.9" cy="417.2" r="2.88"/>
<circle cx="725.3" cy="412.6" r="2.88"/>
<circle cx="699.1" cy="413.5" r="2.88"/>
<circle cx="727.1" cy="427.8" r="2.88"/>
<circle cx="700.9" cy="405.1" r="2.88"/>
<circle cx="708.4" cy="382.3" r="2.88"/>
<circle cx="727.1" cy="420.7" r="2.88"/>
<circle cx="702.8" cy="388.1" r="2.88"/>
<circle cx="700.9" cy="422.8" r="2.88"/>
<circle cx="727.1" cy="406.8" r="2.88"/>
<circle cx="704.7" cy="421.3" r="2.88"/>
<circle cx="738.4" cy="384.1" r="2.88"/>
<circle cx="740.2" cy="384.3" r="2.88"/>
<circle cx="755.2" cy="394.7" r="2.88"/>
<circle cx="729.0" cy="400.9" r="2.88"/>
<circle cx="742.1" cy="394.7" r="2.88"/>
<circle cx="760.8" cy="407.2" r="2.88"/>
<circle cx="755.2" cy="394.4" r="2.88"/>
<circle cx="747.7" cy="424.6" r="2.88"/>
<circle cx="751.4" cy="416.0" r="2.88"/>
<circle cx="757.1" cy="403.1" r="2.88"/>
<circle cx="736.5" cy="394.3" r="2.88"/>
<circle cx="755.2" cy="418.7" r="2.88"/>
<circle cx="751.4" cy="410.5" r="2.88"/>
<circle cx="738.4" cy="427.7" r="2.88"/>
<circle cx="755.2" cy="384.6" r="2.88"/>
<circle cx="749.6" cy="388.8" r="2.88"/>
<circle cx="742.1" cy="413.7" r="2.88"/>
<circle cx="744.0" cy="413.7" r="2.88"/>
<circle cx="747.7" cy="424.7" r="2.88"/>
<circle cx="744.0" cy="393.8" r="2.88"/>
<circle cx="738.4" cy="392.2" r="2.88"/>
<circle cx="772.0" cy="414.1" r="2.88"/>
<circle cx="775.8" cy="399.4" r="2.88"/>
<circle cx="736.5" cy="386.1" r="2.88"/>
<circle cx="742.1" cy="419.8" r="2.88"/>
<circle cx="742.1" cy="424.9" r="2.88"/>
<circle cx="744.0" cy="400.5" r="2.88"/>
<circle cx="751.4" cy="415.2" r="2.88"/>
<circle cx="747.7" cy="388.9" r="2.88"/>
<circle cx="775.8" cy="423.4" r="2.88"/>
<circle cx="749.6" cy="417.8" r="2.88"/>
<circle cx="747.7" cy="419.5" r="2.88"/>
<circle cx="744.0" cy="383.3" r="2.88"/>
<circle cx="744.0" cy="390.9" r="2.88"/>
<circle cx="736.5" cy="391.8" r="2.88"/>
<circle cx="770.2" cy="390.6" r="2.88"/>
<circle cx="755.2" cy="400.5" r="2.88"/>
<circle cx="732.7" cy="411.5" r="2.88"/>
<circle cx="764.5" cy="419.0" r="2.88"/>
<circle cx="745.8" cy="385.0" r="2.88"/>
<circle cx="755.2" cy="415.0" r="2.88"/>
<circle cx="753.3" cy="416.8" r="2.88"/>
<circle cx="753.3" cy="397.3" r="2.88"/>
<circle cx="736.5" cy="389.7" r="2.88"/>
<circle cx="751.4" cy="390.0" r="2.88"/>
<circle cx="742.1" cy="396.9" r="2.88"/>
<circle cx="749.6" cy="424.3" r="2.88"/>
<circle cx="768.3" cy="426.9" r="2.88"/>
<circle cx="736.5" cy="391.1" r="2.88"/>
<circle cx="753.3" cy="417.9" r="2.88"/>
<circle cx="758.9" cy="393.9" r="2.88"/>
<circle cx="749.6" cy="420.0" r="2.88"/>
<circle cx="772.0" cy="410.1" r="2.88"/>
<circle cx="760.8" cy="398.8" r="2.88"/>
<circle cx="742.1" cy="396.3" r="2.88"/>
<circle cx="788.9" cy="401.9" r="2.88"/>
<circle cx="777.6" cy="409.5" r="2.88"/>
<circle cx="777.6" cy="415.9" r="2.88"/>
<circle cx="805.7" cy="416.7" r="2.88"/>
<circle cx="815.0" cy="392.0" r="2.88"/>
<circle cx="822.5" cy="391.3" r="2.88"/>
<circle cx="803.8" cy="386.0" r="2.88"/>
<circle cx="798.2" cy="399.5" r="2.88"/>
<circle cx="802.0" cy="390.7" r="2.88"/>
<circle cx="803.8" cy="386.8" r="2.88"/>
<circle cx="805.7" cy="385.8" r="2.88"/>
<circle cx="796.3" cy="409.1" r="2.88"/>
<circle cx="783.2" cy="385.2" r="2.88"/>
<circle cx="787.0" cy="400.3" r="2.88"/>
<circle cx="779.5" cy="402.5" r="2.88"/>
<circle cx="798.2" cy="418.8" r="2.88"/>
<circle cx="788.9" cy="403.0" r="2.88"/>
<circle cx="787.0" cy="393.5" r="2.88"/>
<circle cx="813.2" cy="398.5" r="2.88"/>
<circle cx="790.7" cy="417.2" r="2.88"/>
<circle cx="818.8" cy="423.8" r="2.88"/>
<circle cx="779.5" cy="409.3" r="2.88"/>
<circle cx="816.9" cy="415.2" r="2.88"/>
<circle cx="816.9" cy="412.4" r="2.88"/>
<circle cx="794.5" cy="383.2" r="2.88"/>
<circle cx="867.4" cy="425.0" r="2.88"/>
<circle cx="856.2" cy="426.1" r="2.88"/>
<circle cx="856.2" cy="388.7" r="2.88"/>
<circle cx="839.4" cy="416.5" r="2.88"/>
<circle cx="852.5" cy="412.3" r="2.88"/>
<circle cx="859.9" cy="414.7" r="2.88"/>
<circle cx="858.1" cy="392.3" r="2.88"/>
<circle cx="854.3" cy="397.7" r="2.88"/>
<circle cx="848.7" cy="391.2" r="2.88"/>
<circle cx="869.3" cy="428.1" r="2.88"/>
<circle cx="824.4" cy="383.5" r="2.88"/>
<circle cx="824.4" cy="423.1" r="2.88"/>
<circle cx="859.9" cy="383.2" r="2.88"/>
<circle cx="826.3" cy="389.5" r="2.88"/>
<circle cx="850.6" cy="387.9" r="2.88"/>
<circle cx="914.2" cy="408.5" r="2.88"/>
<circle cx="874.9" cy="400.5" r="2.88"/>
<circle cx="878.6" cy="428.5" r="2.88"/>
<circle cx="880.5" cy="425.4" r="2.88"/>
<circle cx="891.7" cy="396.2" r="2.88"/>
<circle cx="899.2" cy="391.5" r="2.88"/>
<circle cx="891.7" cy="410.3" r="2.88"/>
<circle cx="891.7" cy="399.1" r="2.88"/>
<circle cx="889.9" cy="384.9" r="2.88"/>
<circle cx="891.7" cy="428.4" r="2.88"/>
<circle cx="884.3" cy="403.6" r="2.88"/>
<circle cx="882.4" cy="382.1" r="2.88"/>
<circle cx="893.6" cy="422.9" r="2.88"/>
<circle cx="901.1" cy="412.8" r="2.88"/>
<circle cx="891.7" cy="394.7" r="2.88"/>
<circle cx="891.7" cy="391.2" r="2.88"/>
<circle cx="914.2" cy="398.0" r="2.88"/>
<circle cx="878.6" cy="424.4" r="2.88"/>
<circle cx="874.9" cy="405.0" r="2.88"/>
<circle cx="914.2" cy="423.4" r="2.88"/>
<circle cx="882.4" cy="422.3" r="2.88"/>
<circle cx="914.2" cy="415.1" r="2.88"/>
<circle cx="901.1" cy="416.6" r="2.88"/>
<circle cx="903.0" cy="394.1" r="2.88"/>
<circle cx="895.5" cy="409.4" r="2.88"/>
<circle cx="895.5" cy="418.6" r="2.88"/>
<circle cx="891.7" cy="405.4" r="2.88"/>
<circle cx="906.7" cy="415.7" r="2.88"/>
<circle cx="893.6" cy="416.5" r="2.88"/>
<circle cx="888.0" cy="397.8" r="2.88"/>
<circle cx="921.7" cy="408.5" r="2.88"/>
<circle cx="955.3" cy="384.9" r="2.88"/>
<circle cx="921.7" cy="411.8" r="2.88"/>
<circle cx="940.4" cy="391.7" r="2.88"/>
<circle cx="919.8" cy="389.4" r="2.88"/>
<circle cx="919.8" cy="394.8" r="2.88"/>
<circle cx="949.7" cy="409.2" r="2.88"/>
<circle cx="947.9" cy="390.3" r="2.88"/>
<circle cx="925.4" cy="421.1" r="2.88"/>
<circle cx="946.0" cy="411.3" r="2.88"/>
<circle cx="953.5" cy="382.3" r="2.88"/>
<circle cx="947.9" cy="382.3" r="2.88"/>
<circle cx="925.4" cy="425.5" r="2.88"/>
<circle cx="925.4" cy="405.0" r="2.88"/>
<circle cx="929.2" cy="400.7" r="2.88"/>
<circle cx="944.1" cy="422.0" r="2.88"/>
<circle cx="936.6" cy="426.4" r="2.88"/>
<circle cx="938.5" cy="426.6" r="2.88"/>
<circle cx="932.9" cy="424.0" r="2.88"/>
<circle cx="949.7" cy="424.9" r="2.88"/>
<circle cx="917.9" cy="411.2" r="2.88"/>
<circle cx="921.7" cy="385.7" r="2.88"/>
<circle cx="992.8" cy="424.8" r="2.88"/>
<circle cx="981.5" cy="402.9" r="2.88"/>
<circle cx="987.1" cy="419.0" r="2.88"/>
<circle cx="964.7" cy="413.8" r="2.88"/>
<circle cx="994.6" cy="423.9" r="2.88"/>
<circle cx="990.9" cy="403.4" r="2.88"/>
<circle cx="981.5" cy="393.9" r="2.88"/>
<circle cx="983.4" cy="399.3" r="2.88"/>
<circle cx="1004.0" cy="424.6" r="2.88"/>
<circle cx="983.4" cy="411.7" r="2.88"/>
<circle cx="1007.7" cy="424.9" r="2.88"/>
<circle cx="972.2" cy="400.6" r="2.88"/>
<circle cx="1007.7" cy="382.5" r="2.88"/>
<circle cx="962.8" cy="398.7" r="2.88"/>
<circle cx="974.0" cy="395.5" r="2.88"/>
<circle cx="990.9" cy="427.5" r="2.88"/>
<circle cx="1002.1" cy="411.7" r="2.88"/>
<circle cx="1020.8" cy="418.8" r="2.88"/>
<circle cx="1022.7" cy="416.3" r="2.88"/>
<circle cx="1030.2" cy="426.1" r="2.88"/>
<circle cx="1039.5" cy="422.2" r="2.88"/>
<circle cx="1035.8" cy="412.2" r="2.88"/>
<circle cx="1017.1" cy="427.9" r="2.88"/>
<circle cx="1035.8" cy="385.1" r="2.88"/>
<circle cx="1047.0" cy="400.5" r="2.88"/>
<circle cx="1056.4" cy="422.7" r="2.88"/>
<circle cx="1063.8" cy="390.5" r="2.88"/>
<circle cx="1065.7" cy="401.2" r="2.88"/>
<circle cx="502.7" cy="379.1" r="2.88"/>
<circle cx="538.2" cy="380.2" r="2.88"/>
<circle cx="506.4" cy="357.0" r="2.88"/>
<circle cx="586.8" cy="346.1" r="2.88"/>
<circle cx="583.1" cy="343.2" r="2.88"/>
<circle cx="558.8" cy="374.6" r="2.88"/>
<circle cx="568.1" cy="369.7" r="2.88"/>
<circle cx="603.7" cy="376.6" r="2.88"/>
<circle cx="611.2" cy="371.5" r="2.88"/>
<circle cx="605.5" cy="364.4" r="2.88"/>
<circle cx="598.1" cy="356.7" r="2.88"/>
<circle cx="599.9" cy="360.9" r="2.88"/>
<circle cx="590.6" cy="371.2" r="2.88"/>
<circle cx="639.2" cy="362.5" r="2.88"/>
<circle cx="656.0" cy="366.3" r="2.88"/>
<circle cx="676.6" cy="341.5" r="2.88"/>
<circle cx="667.3" cy="370.6" r="2.88"/>
<circle cx="676.6" cy="356.2" r="2.88"/>
<circle cx="637.3" cy="373.8" r="2.88"/>
<circle cx="665.4" cy="341.7" r="2.88"/>
<circle cx="719.6" cy="355.0" r="2.88"/>
<circle cx="712.2" cy="378.6" r="2.88"/>
<circle cx="693.5" cy="342.5" r="2.88"/>
<circle cx="691.6" cy="343.9" r="2.88"/>
<circle cx="704.7" cy="363.1" r="2.88"/>
<circle cx="725.3" cy="374.0" r="2.88"/>
<circle cx="689.7" cy="347.2" r="2.88"/>
<circle cx="706.6" cy="361.3" r="2.88"/>
<circle cx="719.6" cy="369.2" r="2.88"/>
<circle cx="708.4" cy="345.2" r="2.88"/>
<circle cx="700.9" cy="369.5" r="2.88"/>
<circle cx="715.9" cy="362.1" r="2.88"/>
<circle cx="693.5" cy="339.0" r="2.88"/>
<circle cx="695.3" cy="363.6" r="2.88"/>
<circle cx="686.0" cy="378.2" r="2.88"/>
<circle cx="712.2" cy="355.8" r="2.88"/>
<circle cx="687.8" cy="365.9" r="2.88"/>
<circle cx="699.1" cy="376.2" r="2.88"/>
<circle cx="706.6" cy="370.7" r="2.88"/>
<circle cx="727.1" cy="371.6" r="2.88"/>
<circle cx="695.3" cy="366.1" r="2.88"/>
<circle cx="682.2" cy="357.2" r="2.88"/>
<circle cx="757.1" cy="376.3" r="2.88"/>
<circle cx="742.1" cy="378.0" r="2.88"/>
<circle cx="758.9" cy="351.1" r="2.88"/>
<circle cx="772.0" cy="366.3" r="2.88"/>
<circle cx="753.3" cy="368.6" r="2.88"/>
<circle cx="764.5" cy="343.8" r="2.88"/>
<circle cx="758.9" cy="361.8" r="2.88"/>
<circle cx="751.4" cy="359.7" r="2.88"/>
<circle cx="738.4" cy="374.8" r="2.88"/>
<circle cx="734.6" cy="344.4" r="2.88"/>
<circle cx="751.4" cy="375.8" r="2.88"/>
<circle cx="740.2" cy="346.2" r="2.88"/>
<circle cx="751.4" cy="371.6" r="2.88"/>
<circle cx="775.8" cy="365.3" r="2.88"/>
<circle cx="758.9" cy="347.9" r="2.88"/>
<circle cx="734.6" cy="337.8" r="2.88"/>
<circle cx="749.6" cy="381.6" r="2.88"/>
<circle cx="747.7" cy="350.8" r="2.88"/>
<circle cx="758.9" cy="356.6" r="2.88"/>
<circle cx="757.1" cy="361.5" r="2.88"/>
<circle cx="740.2" cy="367.8" r="2.88"/>
<circle cx="757.1" cy="348.3" r="2.88"/>
<circle cx="751.4" cy="340.6" r="2.88"/>
<circle cx="764.5" cy="358.6" r="2.88"/>
<circle cx="740.2" cy="381.9" r="2.88"/>
<circle cx="758.9" cy="343.8" r="2.88"/>
<circle cx="764.5" cy="350.3" r="2.88"/>
<circle cx="760.8" cy="379.2" r="2.88"/>
<circle cx="768.3" cy="368.1" r="2.88"/>
<circle cx="764.5" cy="348.1" r="2.88"/>
<circle cx="736.5" cy="346.9" r="2.88"/>
<circle cx="755.2" cy="370.3" r="2.88"/>
<circle cx="740.2" cy="356.1" r="2.88"/>
<circle cx="755.2" cy="335.8" r="2.88"/>
<circle cx="738.4" cy="352.8" r="2.88"/>
<circle cx="745.8" cy="346.6" r="2.88"/>
<circle cx="734.6" cy="361.6" r="2.88"/>
<circle cx="732.7" cy="381.9" r="2.88"/>
<circle cx="732.7" cy="368.4" r="2.88"/>
<circle cx="753.3" cy="354.4" r="2.88"/>
<circle cx="773.9" cy="373.8" r="2.88"/>
<circle cx="772.0" cy="359.5" r="2.88"/>
<circle cx="775.8" cy="343.3" r="2.88"/>
<circle cx="736.5" cy="350.4" r="2.88"/>
<circle cx="764.5" cy="356.4" r="2.88"/>
<circle cx="805.7" cy="344.5" r="2.88"/>
<circle cx="794.5" cy="381.1" r="2.88"/>
<circle cx="813.2" cy="353.9" r="2.88"/>
<circle cx="820.7" cy="361.0" r="2.88"/>
<circle cx="805.7" cy="340.0" r="2.88"/>
<circle cx="798.2" cy="363.7" r="2.88"/>
<circle cx="800.1" cy="351.4" r="2.88"/>
<circle cx="779.5" cy="353.1" r="2.88"/>
<circle cx="815.0" cy="370.9" r="2.88"/>
<circle cx="818.8" cy="353.3" r="2.88"/>
<circle cx="781.4" cy="343.0" r="2.88"/>
<circle cx="805.7" cy="352.0" r="2.88"/>
<circle cx="792.6" cy="352.1" r="2.88"/>
<circle cx="800.1" cy="377.8" r="2.88"/>
<circle cx="796.3" cy="363.0" r="2.88"/>
<circle cx="800.1" cy="352.1" r="2.88"/>
<circle cx="816.9" cy="354.1" r="2.88"/>
<circle cx="800.1" cy="338.3" r="2.88"/>
<circle cx="783.2" cy="375.0" r="2.88"/>
<circle cx="775.8" cy="354.2" r="2.88"/>
<circle cx="788.9" cy="337.0" r="2.88"/>
<circle cx="798.2" cy="355.7" r="2.88"/>
<circle cx="805.7" cy="379.6" r="2.88"/>
<circle cx="787.0" cy="374.0" r="2.88"/>
<circle cx="788.9" cy="351.2" r="2.88"/>
<circle cx="815.0" cy="375.7" r="2.88"/>
<circle cx="785.1" cy="359.4" r="2.88"/>
<circle cx="777.6" cy="358.4" r="2.88"/>
<circle cx="777.6" cy="355.6" r="2.88"/>
<circle cx="790.7" cy="361.9" r="2.88"/>
<circle cx="781.4" cy="345.7" r="2.88"/>
<circle cx="807.6" cy="348.5" r="2.88"/>
<circle cx="790.7" cy="343.7" r="2.88"/>
<circle cx="796.3" cy="358.9" r="2.88"/>
<circle cx="807.6" cy="335.9" r="2.88"/>
<circle cx="858.1" cy="371.5" r="2.88"/>
<circle cx="835.6" cy="374.4" r="2.88"/>
<circle cx="858.1" cy="370.7" r="2.88"/>
<circle cx="830.0" cy="340.1" r="2.88"/>
<circle cx="845.0" cy="353.9" r="2.88"/>
<circle cx="830.0" cy="369.8" r="2.88"/>
<circle cx="848.7" cy="342.5" r="2.88"/>
<circle cx="843.1" cy="345.1" r="2.88"/>
<circle cx="856.2" cy="338.2" r="2.88"/>
<circle cx="826.3" cy="364.9" r="2.88"/>
<circle cx="861.8" cy="356.3" r="2.88"/>
<circle cx="841.2" cy="353.3" r="2.88"/>
<circle cx="831.9" cy="376.8" r="2.88"/>
<circle cx="824.4" cy="360.4" r="2.88"/>
<circle cx="867.4" cy="350.7" r="2.88"/>
<circle cx="839.4" cy="343.7" r="2.88"/>
<circle cx="845.0" cy="375.1" r="2.88"/>
<circle cx="845.0" cy="369.9" r="2.88"/>
<circle cx="826.3" cy="370.9" r="2.88"/>
<circle cx="867.4" cy="363.2" r="2.88"/>
<circle cx="863.7" cy="375.1" r="2.88"/>
<circle cx="828.1" cy="336.7" r="2.88"/>
<circle cx="828.1" cy="353.1" r="2.88"/>
<circle cx="861.8" cy="379.6" r="2.88"/>
<circle cx="859.9" cy="349.2" r="2.88"/>
<circle cx="893.6" cy="349.8" r="2.88"/>
<circle cx="899.2" cy="365.9" r="2.88"/>
<circle cx="910.4" cy="353.6" r="2.88"/>
<circle cx="876.8" cy="338.8" r="2.88"/>
<circle cx="878.6" cy="378.5" r="2.88"/>
<circle cx="874.9" cy="370.7" r="2.88"/>
<circle cx="889.9" cy="364.4" r="2.88"/>
<circle cx="880.5" cy="344.5" r="2.88"/>
<circle cx="871.2" cy="369.0" r="2.88"/>
<circle cx="908.6" cy="367.9" r="2.88"/>
<circle cx="914.2" cy="354.3" r="2.88"/>
<circle cx="906.7" cy="338.9" r="2.88"/>
<circle cx="895.5" cy="371.3" r="2.88"/>
<circle cx="916.1" cy="339.4" r="2.88"/>
<circle cx="899.2" cy="346.7" r="2.88"/>
<circle cx="916.1" cy="347.6" r="2.88"/>
<circle cx="917.9" cy="366.3" r="2.88"/>
<circle cx="917.9" cy="364.9" r="2.88"/>
<circle cx="934.8" cy="371.0" r="2.88"/>
<circle cx="921.7" cy="361.7" r="2.88"/>
<circle cx="927.3" cy="343.1" r="2.88"/>
<circle cx="921.7" cy="337.1" r="2.88"/>
<circle cx="949.7" cy="380.8" r="2.88"/>
<circle cx="962.8" cy="349.9" r="2.88"/>
<circle cx="919.8" cy="352.7" r="2.88"/>
<circle cx="959.1" cy="341.7" r="2.88"/>
<circle cx="925.4" cy="353.2" r="2.88"/>
<circle cx="959.1" cy="370.7" r="2.88"/>
<circle cx="932.9" cy="355.9" r="2.88"/>
<circle cx="936.6" cy="338.7" r="2.88"/>
<circle cx="925.4" cy="376.0" r="2.88"/>
<circle cx="947.9" cy="341.5" r="2.88"/>
<circle cx="931.0" cy="360.4" r="2.88"/>
<circle cx="942.2" cy="381.5" r="2.88"/>
<circle cx="938.5" cy="341.2" r="2.88"/>
<circle cx="925.4" cy="337.1" r="2.88"/>
<circle cx="929.2" cy="370.2" r="2.88"/>
<circle cx="923.5" cy="361.3" r="2.88"/>
<circle cx="938.5" cy="372.6" r="2.88"/>
<circle cx="940.4" cy="365.9" r="2.88"/>
<circle cx="998.4" cy="358.7" r="2.88"/>
<circle cx="992.8" cy="371.6" r="2.88"/>
<circle cx="1004.0" cy="367.2" r="2.88"/>
<circle cx="974.0" cy="374.1" r="2.88"/>
<circle cx="992.8" cy="348.6" r="2.88"/>
<circle cx="977.8" cy="339.2" r="2.88"/>
<circle cx="996.5" cy="340.2" r="2.88"/>
<circle cx="966.6" cy="380.0" r="2.88"/>
<circle cx="977.8" cy="349.9" r="2.88"/>
<circle cx="964.7" cy="375.8" r="2.88"/>
<circle cx="977.8" cy="354.1" r="2.88"/>
<circle cx="992.8" cy="343.6" r="2.88"/>
<circle cx="1011.5" cy="369.6" r="2.88"/>
<circle cx="1037.6" cy="363.6" r="2.88"/>
<circle cx="1024.6" cy="368.5" r="2.88"/>
<circle cx="1037.6" cy="368.3" r="2.88"/>
<circle cx="1024.6" cy="355.2" r="2.88"/>
<circle cx="1013.3" cy="348.9" r="2.88"/>
<circle cx="1035.8" cy="376.0" r="2.88"/>
<circle cx="1013.3" cy="350.8" r="2.88"/>
<circle cx="1039.5" cy="371.6" r="2.88"/>
<circle cx="1022.7" cy="370.8" r="2.88"/>
<circle cx="1032.0" cy="381.3" r="2.88"/>
<circle cx="1018.9" cy="358.4" r="2.88"/>
<circle cx="1011.5" cy="381.2" r="2.88"/>
<circle cx="1048.9" cy="377.9" r="2.88"/>
<circle cx="1065.7" cy="363.4" r="2.88"/>
<circle cx="558.8" cy="329.5" r="2.88"/>
<circle cx="663.5" cy="333.7" r="2.88"/>
<circle cx="671.0" cy="331.3" r="2.88"/>
<circle cx="717.8" cy="334.2" r="2.88"/>
<circle cx="695.3" cy="326.6" r="2.88"/>
<circle cx="708.4" cy="334.1" r="2.88"/>
<circle cx="727.1" cy="334.8" r="2.88"/>
<circle cx="742.1" cy="321.4" r="2.88"/>
<circle cx="775.8" cy="331.8" r="2.88"/>
<circle cx="758.9" cy="309.0" r="2.88"/>
<circle cx="738.4" cy="325.4" r="2.88"/>
<circle cx="766.4" cy="334.3" r="2.88"/>
<circle cx="757.1" cy="308.8" r="2.88"/>
<circle cx="745.8" cy="308.1" r="2.88"/>
<circle cx="751.4" cy="316.7" r="2.88"/>
<circle cx="742.1" cy="304.8" r="2.88"/>
<circle cx="729.0" cy="291.7" r="2.88"/>
<circle cx="762.7" cy="329.6" r="2.88"/>
<circle cx="738.4" cy="315.3" r="2.88"/>
<circle cx="732.7" cy="319.8" r="2.88"/>
<circle cx="758.9" cy="292.8" r="2.88"/>
<circle cx="757.1" cy="296.8" r="2.88"/>
<circle cx="766.4" cy="319.3" r="2.88"/>
<circle cx="772.0" cy="290.0" r="2.88"/>
<circle cx="751.4" cy="290.1" r="2.88"/>
<circle cx="738.4" cy="291.6" r="2.88"/>
<circle cx="757.1" cy="330.0" r="2.88"/>
<circle cx="744.0" cy="317.0" r="2.88"/>
<circle cx="729.0" cy="305.9" r="2.88"/>
<circle cx="740.2" cy="320.6" r="2.88"/>
<circle cx="744.0" cy="322.1" r="2.88"/>
<circle cx="736.5" cy="335.4" r="2.88"/>
<circle cx="755.2" cy="333.8" r="2.88"/>
<circle cx="766.4" cy="292.8" r="2.88"/>
<circle cx="740.2" cy="324.9" r="2.88"/>
<circle cx="773.9" cy="329.8" r="2.88"/>
<circle cx="742.1" cy="316.8" r="2.88"/>
<circle cx="744.0" cy="299.8" r="2.88"/>
<circle cx="747.7" cy="305.0" r="2.88"/>
<circle cx="770.2" cy="300.3" r="2.88"/>
<circle cx="772.0" cy="320.2" r="2.88"/>
<circle cx="772.0" cy="295.2" r="2.88"/>
<circle cx="751.4" cy="305.4" r="2.88"/>
<circle cx="768.3" cy="327.2" r="2.88"/>
<circle cx="755.2" cy="306.2" r="2.88"/>
<circle cx="749.6" cy="301.5" r="2.88"/>
<circle cx="747.7" cy="306.3" r="2.88"/>
<circle cx="758.9" cy="320.2" r="2.88"/>
<circle cx="773.9" cy="321.4" r="2.88"/>
<circle cx="790.7" cy="317.0" r="2.88"/>
<circle cx="809.4" cy="301.6" r="2.88"/>
<circle cx="783.2" cy="316.7" r="2.88"/>
<circle cx="798.2" cy="326.4" r="2.88"/>
<circle cx="805.7" cy="310.2" r="2.88"/>
<circle cx="788.9" cy="329.3" r="2.88"/>
<circle cx="803.8" cy="306.1" r="2.88"/>
<circle cx="813.2" cy="327.2" r="2.88"/>
<circle cx="787.0" cy="296.7" r="2.88"/>
<circle cx="788.9" cy="317.1" r="2.88"/>
<circle cx="803.8" cy="335.4" r="2.88"/>
<circle cx="790.7" cy="301.3" r="2.88"/>
<circle cx="792.6" cy="323.7" r="2.88"/>
<circle cx="811.3" cy="310.6" r="2.88"/>
<circle cx="800.1" cy="290.3" r="2.88"/>
<circle cx="779.5" cy="312.0" r="2.88"/>
<circle cx="815.0" cy="291.6" r="2.88"/>
<circle cx="777.6" cy="305.5" r="2.88"/>
<circle cx="779.5" cy="299.9" r="2.88"/>
<circle cx="781.4" cy="334.8" r="2.88"/>
<circle cx="794.5" cy="293.7" r="2.88"/>
<circle cx="790.7" cy="296.6" r="2.88"/>
<circle cx="785.1" cy="333.8" r="2.88"/>
<circle cx="783.2" cy="306.7" r="2.88"/>
<circle cx="798.2" cy="333.0" r="2.88"/>
<circle cx="796.3" cy="296.8" r="2.88"/>
<circle cx="803.8" cy="306.6" r="2.88"/>
<circle cx="783.2" cy="327.7" r="2.88"/>
<circle cx="816.9" cy="303.1" r="2.88"/>
<circle cx="805.7" cy="308.8" r="2.88"/>
<circle cx="777.6" cy="300.4" r="2.88"/>
<circle cx="811.3" cy="333.7" r="2.88"/>
<circle cx="811.3" cy="291.2" r="2.88"/>
<circle cx="813.2" cy="309.2" r="2.88"/>
<circle cx="807.6" cy="306.7" r="2.88"/>
<circle cx="788.9" cy="308.0" r="2.88"/>
<circle cx="805.7" cy="316.0" r="2.88"/>
<circle cx="777.6" cy="309.8" r="2.88"/>
<circle cx="785.1" cy="328.0" r="2.88"/>
<circle cx="802.0" cy="320.5" r="2.88"/>
<circle cx="852.5" cy="303.4" r="2.88"/>
<circle cx="824.4" cy="291.0" r="2.88"/>
<circle cx="833.8" cy="316.8" r="2.88"/>
<circle cx="845.0" cy="324.4" r="2.88"/>
<circle cx="830.0" cy="327.7" r="2.88"/>
<circle cx="848.7" cy="305.5" r="2.88"/>
<circle cx="824.4" cy="307.1" r="2.88"/>
<circle cx="858.1" cy="304.3" r="2.88"/>
<circle cx="850.6" cy="297.6" r="2.88"/>
<circle cx="833.8" cy="289.6" r="2.88"/>
<circle cx="867.4" cy="329.7" r="2.88"/>
<circle cx="850.6" cy="290.5" r="2.88"/>
<circle cx="824.4" cy="306.9" r="2.88"/>
<circle cx="835.6" cy="310.8" r="2.88"/>
<circle cx="828.1" cy="297.8" r="2.88"/>
<circle cx="854.3" cy="307.3" r="2.88"/>
<circle cx="850.6" cy="314.6" r="2.88"/>
<circle cx="859.9" cy="314.2" r="2.88"/>
<circle cx="835.6" cy="329.1" r="2.88"/>
<circle cx="874.9" cy="328.9" r="2.88"/>
<circle cx="882.4" cy="335.3" r="2.88"/>
<circle cx="895.5" cy="332.3" r="2.88"/>
<circle cx="904.8" cy="330.1" r="2.88"/>
<circle cx="947.9" cy="333.1" r="2.88"/>
<circle cx="951.6" cy="333.3" r="2.88"/>
<circle cx="959.1" cy="328.8" r="2.88"/>
<circle cx="923.5" cy="332.7" r="2.88"/>
<circle cx="1004.0" cy="329.1" r="2.88"/>
<circle cx="970.3" cy="333.1" r="2.88"/>
<circle cx="992.8" cy="330.4" r="2.88"/>
<circle cx="1045.1" cy="335.0" r="2.88"/>
<circle cx="1050.7" cy="332.0" r="2.88"/>
<circle cx="1063.8" cy="327.9" r="2.88"/>
<circle cx="745.8" cy="277.4" r="2.88"/>
<circle cx="751.4" cy="278.2" r="2.88"/>
<circle cx="766.4" cy="276.3" r="2.88"/>
<circle cx="744.0" cy="252.3" r="2.88"/>
<circle cx="766.4" cy="274.6" r="2.88"/>
<circle cx="764.5" cy="270.6" r="2.88"/>
<circle cx="770.2" cy="251.8" r="2.88"/>
<circle cx="740.2" cy="265.3" r="2.88"/>
<circle cx="745.8" cy="244.6" r="2.88"/>
<circle cx="751.4" cy="275.0" r="2.88"/>
<circle cx="760.8" cy="283.7" r="2.88"/>
<circle cx="772.0" cy="252.4" r="2.88"/>
<circle cx="757.1" cy="271.7" r="2.88"/>
<circle cx="753.3" cy="272.6" r="2.88"/>
<circle cx="762.7" cy="287.1" r="2.88"/>
<circle cx="745.8" cy="250.4" r="2.88"/>
<circle cx="760.8" cy="245.2" r="2.88"/>
<circle cx="764.5" cy="269.3" r="2.88"/>
<circle cx="732.7" cy="286.8" r="2.88"/>
<circle cx="757.1" cy="285.2" r="2.88"/>
<circle cx="762.7" cy="249.1" r="2.88"/>
<circle cx="732.7" cy="266.5" r="2.88"/>
<circle cx="753.3" cy="263.5" r="2.88"/>
<circle cx="751.4" cy="263.0" r="2.88"/>
<circle cx="736.5" cy="255.3" r="2.88"/>
<circle cx="740.2" cy="265.3" r="2.88"/>
<circle cx="764.5" cy="250.6" r="2.88"/>
<circle cx="744.0" cy="260.5" r="2.88"/>
<circle cx="745.8" cy="279.5" r="2.88"/>
<circle cx="758.9" cy="258.1" r="2.88"/>
<circle cx="749.6" cy="274.7" r="2.88"/>
<circle cx="729.0" cy="286.4" r="2.88"/>
<circle cx="749.6" cy="263.5" r="2.88"/>
<circle cx="764.5" cy="267.1" r="2.88"/>
<circle cx="775.8" cy="245.9" r="2.88"/>
<circle cx="730.9" cy="281.4" r="2.88"/>
<circle cx="749.6" cy="274.0" r="2.88"/>
<circle cx="751.4" cy="259.6" r="2.88"/>
<circle cx="794.5" cy="264.3" r="2.88"/>
<circle cx="805.7" cy="261.0" r="2.88"/>
<circle cx="783.2" cy="265.9" r="2.88"/>
<circle cx="777.6" cy="282.9" r="2.88"/>
<circle cx="813.2" cy="269.3" r="2.88"/>
<circle cx="794.5" cy="281.4" r="2.88"/>
<circle cx="785.1" cy="272.3" r="2.88"/>
<circle cx="788.9" cy="271.3" r="2.88"/>
<circle cx="794.5" cy="252.0" r="2.88"/>
<circle cx="798.2" cy="267.7" r="2.88"/>
<circle cx="796.3" cy="260.4" r="2.88"/>
<circle cx="777.6" cy="250.9" r="2.88"/>
<circle cx="790.7" cy="269.6" r="2.88"/>
<circle cx="775.8" cy="277.2" r="2.88"/>
<circle cx="802.0" cy="266.5" r="2.88"/>
<circle cx="811.3" cy="248.5" r="2.88"/>
<circle cx="820.7" cy="252.5" r="2.88"/>
<circle cx="788.9" cy="281.8" r="2.88"/>
<circle cx="788.9" cy="250.8" r="2.88"/>
<circle cx="802.0" cy="279.3" r="2.88"/>
<circle cx="792.6" cy="246.7" r="2.88"/>
<circle cx="788.9" cy="253.7" r="2.88"/>
<circle cx="802.0" cy="288.0" r="2.88"/>
<circle cx="785.1" cy="253.9" r="2.88"/>
<circle cx="783.2" cy="257.7" r="2.88"/>
<circle cx="792.6" cy="272.8" r="2.88"/>
<circle cx="835.6" cy="278.2" r="2.88"/>
<circle cx="822.5" cy="252.3" r="2.88"/>
<circle cx="846.8" cy="281.6" r="2.88"/>
<circle cx="835.6" cy="243.5" r="2.88"/>
<circle cx="830.0" cy="257.7" r="2.88"/>
<circle cx="854.3" cy="286.5" r="2.88"/>
<circle cx="747.7" cy="201.0" r="2.88"/>
<circle cx="755.2" cy="201.3" r="2.88"/>
<circle cx="749.6" cy="225.7" r="2.88"/>
<circle cx="740.2" cy="232.1" r="2.88"/>
<circle cx="753.3" cy="212.4" r="2.88"/>
<circle cx="740.2" cy="237.9" r="2.88"/>
<circle cx="751.4" cy="225.8" r="2.88"/>
<circle cx="749.6" cy="228.6" r="2.88"/>
<circle cx="730.9" cy="199.1" r="2.88"/>
<circle cx="770.2" cy="202.8" r="2.88"/>
<circle cx="755.2" cy="209.9" r="2.88"/>
<circle cx="730.9" cy="211.0" r="2.88"/>
<circle cx="729.0" cy="224.7" r="2.88"/>
<circle cx="775.8" cy="227.6" r="2.88"/>
<circle cx="749.6" cy="219.0" r="2.88"/>
<circle cx="770.2" cy="233.7" r="2.88"/>
<circle cx="770.2" cy="213.2" r="2.88"/>
<circle cx="753.3" cy="220.5" r="2.88"/>
<circle cx="747.7" cy="196.5" r="2.88"/>
<circle cx="772.0" cy="196.3" r="2.88"/>
<circle cx="773.9" cy="239.3" r="2.88"/>
<circle cx="768.3" cy="216.2" r="2.88"/>
<circle cx="753.3" cy="205.7" r="2.88"/>
<circle cx="772.0" cy="239.3" r="2.88"/>
<circle cx="730.9" cy="223.1" r="2.88"/>
<circle cx="747.7" cy="212.4" r="2.88"/>
<circle cx="747.7" cy="233.2" r="2.88"/>
<circle cx="751.4" cy="234.9" r="2.88"/>
<circle cx="796.3" cy="222.5" r="2.88"/>
<circle cx="818.8" cy="204.3" r="2.88"/>
<circle cx="815.0" cy="212.3" r="2.88"/>
<circle cx="800.1" cy="228.0" r="2.88"/>
<circle cx="783.2" cy="226.4" r="2.88"/>
<circle cx="796.3" cy="218.8" r="2.88"/>
<circle cx="790.7" cy="220.7" r="2.88"/>
<circle cx="802.0" cy="201.8" r="2.88"/>
<circle cx="798.2" cy="235.1" r="2.88"/>
<circle cx="798.2" cy="200.5" r="2.88"/>
<circle cx="800.1" cy="217.4" r="2.88"/>
<circle cx="800.1" cy="231.5" r="2.88"/>
<circle cx="813.2" cy="239.7" r="2.88"/>
<circle cx="781.4" cy="230.6" r="2.88"/>
<circle cx="796.3" cy="231.2" r="2.88"/>
<circle cx="792.6" cy="196.2" r="2.88"/>
<circle cx="785.1" cy="211.6" r="2.88"/>
<circle cx="805.7" cy="216.0" r="2.88"/>
<circle cx="781.4" cy="222.9" r="2.88"/>
<circle cx="811.3" cy="241.7" r="2.88"/>
<circle cx="815.0" cy="234.4" r="2.88"/>
<circle cx="798.2" cy="234.0" r="2.88"/>
<circle cx="787.0" cy="217.1" r="2.88"/>
<circle cx="796.3" cy="218.0" r="2.88"/>
<circle cx="839.4" cy="231.8" r="2.88"/>
<circle cx="830.0" cy="196.3" r="2.88"/>
<circle cx="846.8" cy="213.2" r="2.88"/>
<circle cx="845.0" cy="214.7" r="2.88"/>
<circle cx="839.4" cy="211.7" r="2.88"/>
<circle cx="835.6" cy="211.2" r="2.88"/>
<circle cx="841.2" cy="231.5" r="2.88"/>
</g>
<g stroke="#b0b0b0" stroke-opacity="0.25" stroke-width="1.88" fill="none">
<line x1="168.00" y1="62.0" x2="168.00" y2="785.0"/>
<line x1="355.00" y1="62.0" x2="355.00" y2="785.0"/>
<line x1="542.00" y1="62.0" x2="542.00" y2="785.0"/>
<line x1="729.00" y1="62.0" x2="729.00" y2="785.0"/>
<line x1="916.00" y1="62.0" x2="916.00" y2="785.0"/>
<line x1="1103.00" y1="62.0" x2="1103.00" y2="785.0"/>
<line x1="106.0" y1="754.00" x2="1266.0" y2="754.00"/>
<line x1="106.0" y1="615.00" x2="1266.0" y2="615.00"/>
<line x1="106.0" y1="475.00" x2="1266.0" y2="475.00"/>
<line x1="106.0" y1="336.00" x2="1266.0" y2="336.00"/>
<line x1="106.0" y1="196.00" x2="1266.0" y2="196.00"/>
</g>
<polyline fill="none" stroke="#000" stroke-width="4.7" stroke-linejoin="round" stroke-linecap="square" points="504.3,565.7 541.3,560.2 577.0,551.3 613.2,551.0 650.0,553.0 686.7,523.2 722.4,514.5 758.6,477.5 795.4,479.0 832.0,499.9 868.2,520.0 904.8,524.9 941.0,541.0 978.1,577.6 1014.4,592.1 1048.7,598.3 1086.5,623.1 1122.1,637.0 1159.2,636.4"/>
<rect x="106.0" y="62.0" width="1160.0" height="723.0" fill="none" stroke="#000" stroke-width="1.88" stroke-linejoin="miter"/>
<g stroke="#000" stroke-width="1.88">
<line x1="168.00" y1="785.0" x2="168.00" y2="793.2"/>
<line x1="355.00" y1="785.0" x2="355.00" y2="793.2"/>
<line x1="542.00" y1="785.0" x2="542.00" y2="793.2"/>
<line x1="729.00" y1="785.0" x2="729.00" y2="793.2"/>
<line x1="916.00" y1="785.0" x2="916.00" y2="793.2"/>
<line x1="1103.00" y1="785.0" x2="1103.00" y2="793.2"/>
<line x1="97.8" y1="754.00" x2="106.0" y2="754.00"/>
<line x1="97.8" y1="615.00" x2="106.0" y2="615.00"/>
<line x1="97.8" y1="475.00" x2="106.0" y2="475.00"/>
<line x1="97.8" y1="336.00" x2="106.0" y2="336.00"/>
<line x1="97.8" y1="196.00" x2="106.0" y2="196.00"/>
</g>
<g font-size="23.5px" text-anchor="middle">
<text transform="translate(167.60,820) scale(1,1.07)">−30</text>
<text transform="translate(354.60,820) scale(1,1.07)">−20</text>
<text transform="translate(541.60,820) scale(1,1.07)">−10</text>
<text transform="translate(728.80,820) scale(1,1.07)">0</text>
<text transform="translate(916.70,820) scale(1,1.07)">10</text>
<text transform="translate(1103.70,820) scale(1,1.07)">20</text>
</g>
<g font-size="23.5px" text-anchor="end">
<text transform="translate(89.8,764.1) scale(1,1.07)">0</text>
<text transform="translate(89.25,623.6) scale(1,1.07)">20</text>
<text transform="translate(88.55,485.1) scale(1,1.07)">40</text>
<text transform="translate(89.4,344.6) scale(1,1.07)">60</text>
<text transform="translate(89.6,206.0) scale(1,1.07)">80</text>
</g>
<text transform="translate(686.4,853) scale(1,1.07)" font-size="23.5px" letter-spacing="0.055" text-anchor="middle">Ilman keskilämpötila, Vaasa (°C)</text>
<text transform="translate(44,424.4) rotate(-90) scale(1,1.07)" font-size="23.5px" letter-spacing="0.056" text-anchor="middle">Tuulituotanto, päivän keskiarvo (% kapasiteetista)</text>
<text transform="translate(686.35,47.8) scale(1,1.07)" font-size="28.2px" letter-spacing="0.066" text-anchor="middle">Tuulituotanto vs. Vaasan keskilämpötila (päivät)</text>
<line x1="127.2" y1="94.4" x2="174.2" y2="94.4" stroke="#000" stroke-width="4.7" stroke-linecap="square"/>
<text transform="translate(192.5,102) scale(1,1.07)" font-size="23.5px" letter-spacing="0.095">Binitetty keskiarvo (&gt;=30 pv/bin)</text>
</svg>
</body></html>
